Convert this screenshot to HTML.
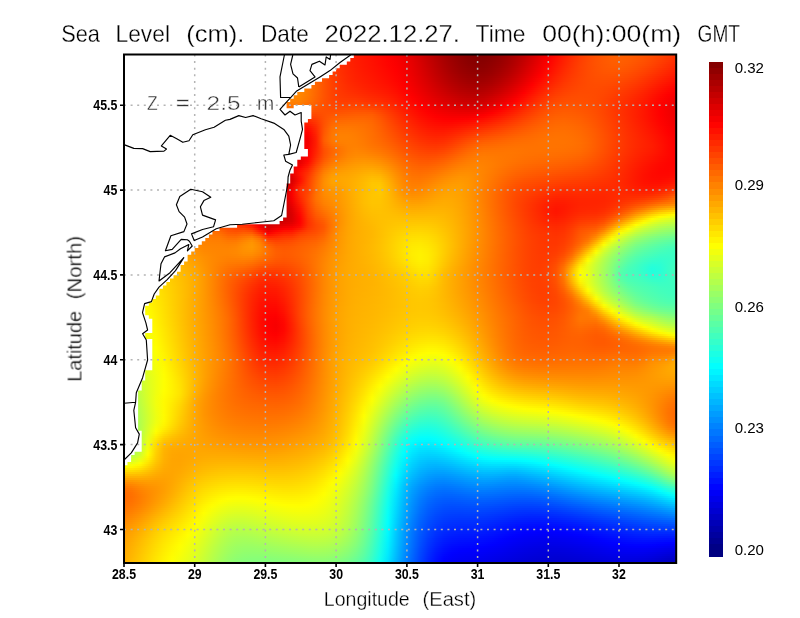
<!DOCTYPE html>
<html><head><meta charset="utf-8"><title>Sea Level</title>
<style>
html,body{margin:0;padding:0;background:#fff}
body{width:800px;height:618px;position:relative;overflow:hidden;font-family:"Liberation Sans",sans-serif}
#f{position:absolute;left:124px;top:54px;width:552px;height:510px;overflow:hidden}
#f i{display:block;height:2px}
svg{position:absolute;left:0;top:0}
.t,.n,.c{filter:grayscale(1)}
.t{font-family:"Liberation Sans",sans-serif;fill:#000;stroke:#fff;stroke-width:0.3px}
.n{font-family:"Liberation Sans",sans-serif;font-weight:bold;font-size:13.8px;fill:#000}
.c{font-family:"Liberation Sans",sans-serif;font-size:14.4px;fill:#000}
</style></head><body>
<div id="f">
<i style="background:linear-gradient(90deg,#ffbf00,#fb0,#ffb700,#ffb200,#ffae00,#ffab00,#ffa700,#ffa400,#ffa200,#ff9f00,#ff9e00,#ff9c00,#ff9b00,#ff9a00,#ff9a00,#f90,#ff9800,#ff9700,#ff9400,#ff9000,#ff8a00,#ff8100,#ff7600,#ff6800,#ff5800,#ff4800,#ff3900,#ff2c00,#f20,#ff1b00,#ff1400,#ff0e00,#ff0700,#f00,#f60000,#ed0000,#e10000,#d30000,#c40000,#b50000,#a70000,#9a0000,#900000,#890000,#850000,#860000,#8b0000,#930000,#9f0000,#ae0000,#bf0000,#d10000,#e40000,#f70000,#ff0a00,#ff1c00,#ff2c00,#ff3b00,#ff4700,#ff5100,#ff5800,#ff5e00,#ff6000,#ff5e00,#ff5a00,#f50,#ff4e00,#ff4500,#ff3c00,#f30)"></i>
<i style="background:linear-gradient(90deg,#ffbf00,#ffba00,#ffb600,#ffb200,#ffae00,#fa0,#ffa700,#ffa300,#ffa100,#ff9e00,#ff9d00,#ff9b00,#ff9a00,#ff9a00,#f90,#f90,#ff9800,#ff9700,#ff9400,#ff9100,#ff8b00,#ff8200,#f70,#ff6900,#ff5900,#ff4900,#ff3900,#ff2c00,#ff2300,#ff1b00,#ff1500,#ff0f00,#ff0800,#ff0100,#f80000,#e00,#e20000,#d40000,#c50000,#b60000,#a80000,#9b0000,#910000,#890000,#850000,#860000,#8c0000,#950000,#a00000,#af0000,#c00000,#d30000,#e60000,#f80000,#ff0c00,#ff1d00,#ff2d00,#ff3c00,#ff4800,#ff5100,#ff5800,#ff5e00,#ff6000,#ff5e00,#ff5900,#ff5300,#ff4c00,#f40,#ff3a00,#ff3100)"></i>
<i style="background:linear-gradient(90deg,#ffbf00,#ffba00,#ffb500,#ffb100,#ffad00,#ffa900,#ffa600,#ffa200,#ffa000,#ff9d00,#ff9c00,#ff9a00,#f90,#f90,#ff9800,#ff9800,#ff9800,#ff9700,#ff9500,#ff9100,#ff8c00,#ff8300,#ff7800,#ff6a00,#ff5a00,#ff4a00,#ff3a00,#ff2d00,#ff2300,#ff1b00,#ff1500,#ff0f00,#ff0900,#ff0200,#f90000,#ef0000,#e30000,#d50000,#c60000,#b70000,#a90000,#9c0000,#920000,#8a0000,#860000,#870000,#8d0000,#960000,#a20000,#b10000,#c20000,#d50000,#e80000,#fa0000,#ff0e00,#ff1f00,#ff2f00,#ff3d00,#ff4800,#ff5100,#ff5800,#ff5d00,#ff5f00,#ff5d00,#ff5800,#ff5200,#ff4a00,#ff4200,#ff3800,#ff2f00)"></i>
<i style="background:linear-gradient(90deg,#ffbe00,#ffba00,#ffb500,#ffb000,#ffac00,#ffa800,#ffa500,#ffa100,#ff9f00,#ff9c00,#ff9a00,#f90,#ff9800,#ff9800,#ff9700,#ff9700,#ff9700,#ff9700,#ff9500,#ff9200,#ff8c00,#ff8400,#ff7900,#ff6b00,#ff5b00,#ff4a00,#ff3a00,#ff2d00,#ff2300,#ff1c00,#ff1600,#ff1000,#ff0a00,#ff0300,#fa0000,#f10000,#e50000,#d60000,#c70000,#b80000,#a00,#9d0000,#930000,#8b0000,#870000,#800,#8e0000,#970000,#a40000,#b30000,#c40000,#d70000,#ea0000,#fc0000,#ff1000,#ff2100,#ff3000,#ff3e00,#ff4900,#ff5200,#ff5800,#ff5d00,#ff5e00,#ff5b00,#ff5600,#ff5000,#ff4800,#ff3f00,#ff3600,#ff2c00)"></i>
<i style="background:linear-gradient(90deg,#ffbe00,#ffb900,#ffb400,#ffb000,#ffab00,#ffa700,#ffa400,#ffa000,#ff9e00,#ff9b00,#f90,#ff9800,#ff9700,#ff9600,#ff9600,#ff9700,#ff9700,#ff9600,#ff9500,#ff9200,#ff8d00,#ff8600,#ff7b00,#ff6d00,#ff5c00,#ff4b00,#ff3b00,#ff2d00,#ff2400,#ff1c00,#ff1600,#f10,#ff0a00,#ff0400,#fb0000,#f20000,#e60000,#d80000,#c80000,#ba0000,#ab0000,#9f0000,#940000,#8c0000,#800,#8a0000,#900000,#900,#a50000,#b50000,#c70000,#d90000,#ec0000,#f00,#ff1200,#f20,#ff3200,#ff3f00,#ff4a00,#ff5200,#ff5800,#ff5c00,#ff5d00,#ff5a00,#ff5400,#ff4e00,#ff4600,#ff3d00,#f30,#ff2a00)"></i>
<i style="background:linear-gradient(90deg,#ffbd00,#ffb900,#ffb400,#ffaf00,#ffab00,#ffa700,#ffa300,#ff9f00,#ff9c00,#ff9a00,#ff9800,#ff9600,#ff9600,#ff9500,#ff9500,#ff9600,#ff9600,#ff9600,#ff9500,#ff9300,#ff8e00,#ff8700,#ff7c00,#ff6e00,#ff5d00,#ff4c00,#ff3b00,#ff2e00,#ff2400,#ff1d00,#ff1700,#f10,#ff0b00,#ff0400,#fc0000,#f30000,#e70000,#d90000,#ca0000,#b00,#ad0000,#a00000,#960000,#8e0000,#8a0000,#8c0000,#920000,#9b0000,#a80000,#b70000,#c90000,#dc0000,#ef0000,#ff0200,#ff1400,#ff2400,#f30,#ff4000,#ff4a00,#ff5200,#ff5700,#ff5b00,#ff5c00,#ff5800,#ff5200,#ff4c00,#f40,#ff3a00,#ff3000,#ff2700)"></i>
<i style="background:linear-gradient(90deg,#ffbd00,#ffb800,#ffb300,#ffae00,#fa0,#ffa600,#ffa200,#ff9e00,#ff9b00,#f90,#ff9700,#ff9500,#ff9400,#ff9400,#ff9400,#ff9500,#ff9500,#ff9500,#ff9500,#ff9300,#ff8f00,#f80,#ff7d00,#ff6f00,#ff5e00,#ff4d00,#ff3c00,#ff2e00,#ff2400,#ff1d00,#ff1700,#ff1200,#ff0c00,#ff0500,#fd0000,#f40000,#e80000,#da0000,#cb0000,#bc0000,#ae0000,#a20000,#970000,#900000,#8c0000,#8d0000,#940000,#9d0000,#a00,#ba0000,#c00,#df0000,#f10000,#ff0500,#ff1600,#ff2600,#ff3400,#ff4100,#ff4a00,#ff5100,#ff5700,#ff5a00,#ff5a00,#ff5600,#ff5000,#ff4900,#ff4100,#ff3800,#ff2e00,#ff2400)"></i>
<i style="background:linear-gradient(90deg,#ffbd00,#ffb700,#ffb200,#ffae00,#ffa900,#ffa500,#ffa100,#ff9d00,#ff9a00,#ff9700,#ff9500,#ff9400,#ff9300,#ff9300,#ff9300,#ff9300,#ff9400,#ff9500,#ff9500,#ff9300,#ff9000,#ff8900,#ff7e00,#ff7000,#ff5f00,#ff4d00,#ff3d00,#ff2f00,#ff2500,#ff1e00,#ff1800,#ff1200,#ff0d00,#ff0600,#fe0000,#f50000,#e90000,#db0000,#cd0000,#be0000,#b00000,#a30000,#900,#920000,#8e0000,#900000,#960000,#a00000,#ad0000,#bd0000,#cf0000,#e10000,#f40000,#ff0700,#ff1800,#ff2800,#ff3600,#ff4100,#ff4a00,#ff5100,#ff5600,#ff5800,#ff5800,#ff5400,#ff4e00,#ff4600,#ff3e00,#ff3400,#ff2b00,#ff2100)"></i>
<i style="background:linear-gradient(90deg,#ffbc00,#ffb700,#ffb200,#ffad00,#ffa800,#ffa400,#ff9f00,#ff9c00,#ff9800,#ff9600,#ff9400,#ff9200,#ff9100,#ff9100,#ff9100,#ff9200,#ff9300,#ff9400,#ff9400,#ff9300,#ff9000,#ff8a00,#ff8000,#ff7100,#ff6000,#ff4e00,#ff3d00,#ff3000,#ff2600,#ff1e00,#ff1800,#ff1300,#ff0d00,#ff0700,#f00,#f60000,#ea0000,#d00,#ce0000,#c00000,#b20000,#a50000,#9b0000,#940000,#900000,#920000,#900,#a30000,#b00000,#c00000,#d20000,#e50000,#f70000,#ff0a00,#ff1b00,#ff2a00,#ff3700,#ff4200,#ff4b00,#ff5100,#f50,#ff5700,#ff5600,#ff5200,#ff4b00,#f40,#ff3b00,#ff3100,#ff2700,#ff1e00)"></i>
<i style="background:linear-gradient(90deg,#ffbc00,#ffb600,#ffb100,#ffac00,#ffa700,#ffa200,#ff9e00,#ff9a00,#ff9700,#ff9400,#ff9200,#ff9000,#ff8f00,#ff8f00,#ff9000,#ff9100,#ff9200,#ff9300,#ff9400,#ff9300,#ff9100,#ff8b00,#ff8100,#ff7300,#ff6100,#ff4f00,#ff3e00,#ff3000,#ff2600,#ff1f00,#ff1900,#ff1400,#ff0e00,#ff0800,#ff0100,#f70000,#eb0000,#de0000,#d00000,#c10000,#b40000,#a70000,#9d0000,#960000,#930000,#950000,#9b0000,#a60000,#b30000,#c30000,#d50000,#e80000,#fa0000,#ff0d00,#ff1d00,#ff2c00,#ff3800,#ff4300,#ff4b00,#ff5000,#ff5400,#f50,#ff5300,#ff4f00,#ff4800,#ff4100,#ff3800,#ff2e00,#ff2400,#ff1b00)"></i>
<i style="background:linear-gradient(90deg,#fb0,#ffb600,#ffb000,#ffab00,#ffa600,#ffa100,#ff9d00,#f90,#ff9500,#ff9300,#ff9000,#ff8f00,#ff8e00,#ff8e00,#ff8e00,#ff8f00,#ff9100,#ff9200,#ff9300,#ff9300,#ff9100,#ff8c00,#ff8200,#ff7400,#ff6200,#ff5000,#ff3f00,#ff3100,#ff2700,#ff2000,#ff1a00,#ff1500,#ff0f00,#ff0900,#ff0200,#f80000,#ec0000,#df0000,#d10000,#c30000,#b60000,#a00,#a00000,#900,#960000,#980000,#9e0000,#a90000,#b60000,#c70000,#d90000,#eb0000,#fe0000,#ff1000,#ff2000,#ff2e00,#ff3a00,#ff4300,#ff4b00,#ff5000,#ff5200,#ff5300,#ff5100,#ff4c00,#ff4600,#ff3e00,#ff3400,#ff2b00,#ff2100,#ff1800)"></i>
<i style="background:linear-gradient(90deg,#fb0,#ffb500,#ffb000,#fa0,#ffa500,#ffa000,#ff9c00,#ff9800,#ff9400,#ff9100,#ff8e00,#ff8d00,#ff8c00,#ff8c00,#ff8c00,#ff8d00,#ff8f00,#ff9100,#ff9200,#ff9300,#ff9100,#ff8d00,#ff8300,#ff7500,#ff6300,#ff5100,#ff3f00,#ff3200,#ff2800,#ff2000,#ff1b00,#ff1600,#ff1000,#ff0a00,#ff0300,#f90000,#e00,#e10000,#d30000,#c50000,#b80000,#ac0000,#a20000,#9b0000,#900,#9b0000,#a20000,#ac0000,#ba0000,#ca0000,#dc0000,#ef0000,#ff0200,#ff1300,#ff2300,#ff3000,#ff3b00,#f40,#ff4b00,#ff4f00,#ff5100,#ff5100,#ff4f00,#ff4a00,#ff4300,#ff3a00,#ff3100,#ff2700,#ff1d00,#ff1500)"></i>
<i style="background:linear-gradient(90deg,#ffba00,#ffb500,#ffaf00,#ffa900,#ffa400,#ff9f00,#ff9a00,#ff9600,#ff9200,#ff8f00,#ff8d00,#ff8b00,#ff8a00,#ff8a00,#ff8a00,#ff8b00,#ff8d00,#ff8f00,#ff9100,#ff9200,#ff9100,#ff8d00,#ff8400,#ff7600,#ff6400,#ff5100,#ff4000,#ff3200,#ff2800,#ff2100,#ff1c00,#ff1700,#f10,#ff0b00,#ff0400,#fa0000,#ef0000,#e20000,#d50000,#c70000,#ba0000,#ae0000,#a50000,#9e0000,#9c0000,#9e0000,#a50000,#b00000,#be0000,#ce0000,#e00000,#f30000,#ff0600,#ff1600,#ff2500,#ff3200,#ff3d00,#ff4500,#ff4b00,#ff4e00,#ff5000,#ff4f00,#ff4c00,#ff4700,#ff4000,#ff3700,#ff2e00,#ff2400,#ff1a00,#f10)"></i>
<i style="background:linear-gradient(90deg,#ffba00,#ffb400,#ffae00,#ffa900,#ffa300,#ff9e00,#f90,#ff9500,#ff9100,#ff8d00,#ff8b00,#ff8900,#f80,#ff8700,#f80,#ff8900,#ff8b00,#ff8e00,#ff9000,#ff9200,#ff9100,#ff8e00,#ff8500,#f70,#ff6500,#ff5200,#ff4100,#f30,#ff2900,#f20,#ff1d00,#ff1800,#ff1300,#ff0d00,#ff0500,#fb0000,#f00000,#e40000,#d70000,#c90000,#bd0000,#b10000,#a80000,#a10000,#9f0000,#a10000,#a90000,#b40000,#c20000,#d20000,#e40000,#f60000,#ff0900,#ff1a00,#ff2800,#ff3400,#ff3e00,#ff4600,#ff4b00,#ff4e00,#ff4e00,#ff4d00,#ff4a00,#f40,#ff3d00,#ff3400,#ff2a00,#ff2000,#ff1700,#ff0e00)"></i>
<i style="background:linear-gradient(90deg,#ffb900,#ffb300,#ffad00,#ffa800,#ffa200,#ff9d00,#ff9800,#ff9300,#ff8f00,#ff8c00,#ff8900,#ff8700,#ff8500,#ff8500,#ff8600,#ff8700,#ff8900,#ff8c00,#ff8f00,#ff9100,#ff9100,#ff8e00,#ff8600,#ff7800,#f60,#ff5300,#ff4100,#ff3400,#ff2a00,#ff2400,#ff1e00,#ff1900,#ff1400,#ff0e00,#ff0700,#fd0000,#f20000,#e50000,#d90000,#c00,#bf0000,#b40000,#ab0000,#a40000,#a20000,#a50000,#ac0000,#b80000,#c60000,#d60000,#e80000,#fb0000,#ff0d00,#ff1d00,#ff2b00,#ff3700,#ff4000,#ff4600,#ff4b00,#ff4d00,#ff4d00,#ff4b00,#ff4700,#ff4100,#ff3a00,#ff3100,#ff2700,#ff1d00,#ff1300,#ff0b00)"></i>
<i style="background:linear-gradient(90deg,#ffb900,#ffb300,#ffad00,#ffa700,#ffa100,#ff9c00,#ff9600,#ff9200,#ff8d00,#ff8a00,#ff8700,#ff8400,#ff8300,#ff8300,#ff8300,#ff8500,#ff8700,#ff8a00,#ff8d00,#ff8f00,#ff9000,#ff8e00,#ff8600,#ff7900,#f60,#ff5300,#ff4200,#ff3500,#ff2c00,#ff2500,#ff2000,#ff1b00,#ff1600,#ff1000,#ff0800,#fe0000,#f30000,#e70000,#db0000,#ce0000,#c20000,#b70000,#ae0000,#a80000,#a60000,#a90000,#b00000,#bc0000,#ca0000,#db0000,#ec0000,#f00,#f10,#ff2100,#ff2e00,#ff3900,#ff4100,#ff4700,#ff4b00,#ff4c00,#ff4c00,#ff4900,#ff4500,#ff3e00,#ff3700,#ff2e00,#ff2400,#ff1900,#ff1000,#ff0700)"></i>
<i style="background:linear-gradient(90deg,#ffb800,#ffb200,#ffac00,#ffa600,#ffa000,#ff9a00,#ff9500,#ff9000,#ff8b00,#f80,#ff8500,#ff8200,#ff8100,#ff8000,#ff8100,#ff8200,#ff8400,#ff8700,#ff8b00,#ff8e00,#ff8f00,#ff8e00,#ff8700,#ff7900,#ff6700,#ff5300,#ff4200,#ff3500,#ff2d00,#ff2700,#ff2100,#ff1c00,#ff1700,#ff1200,#ff0a00,#ff0100,#f50000,#e90000,#d00,#d00000,#c50000,#ba0000,#b10000,#ab0000,#a90000,#ad0000,#b50000,#c00000,#cf0000,#df0000,#f10000,#ff0400,#ff1500,#ff2500,#ff3100,#ff3b00,#ff4300,#ff4800,#ff4b00,#ff4c00,#ff4a00,#ff4700,#ff4200,#ff3c00,#ff3400,#ff2b00,#ff2100,#ff1600,#ff0c00,#ff0400)"></i>
<i style="background:linear-gradient(90deg,#ffb800,#ffb200,#ffab00,#ffa500,#ff9f00,#f90,#ff9300,#ff8e00,#ff8a00,#ff8600,#ff8200,#ff8000,#ff7e00,#ff7e00,#ff7e00,#ff7f00,#ff8200,#ff8500,#f80,#ff8c00,#ff8e00,#ff8e00,#ff8700,#ff7900,#ff6700,#ff5300,#ff4200,#ff3600,#ff2e00,#ff2900,#ff2300,#ff1e00,#ff1900,#ff1400,#ff0c00,#ff0200,#f70000,#eb0000,#df0000,#d30000,#c80000,#bd0000,#b40000,#af0000,#ad0000,#b10000,#b90000,#c50000,#d30000,#e40000,#f50000,#ff0800,#ff1900,#ff2800,#ff3500,#ff3e00,#f40,#ff4900,#ff4b00,#ff4b00,#ff4900,#ff4500,#ff4000,#ff3900,#ff3100,#ff2800,#ff1d00,#ff1300,#ff0900,#ff0100)"></i>
<i style="background:linear-gradient(90deg,#ffb700,#ffb100,#fa0,#ffa400,#ff9e00,#ff9800,#ff9200,#ff8d00,#f80,#ff8400,#ff8000,#ff7d00,#ff7c00,#ff7b00,#ff7b00,#ff7c00,#ff7f00,#ff8200,#ff8600,#ff8a00,#ff8d00,#ff8d00,#ff8700,#ff7900,#ff6700,#ff5300,#ff4300,#ff3700,#ff3000,#ff2b00,#ff2600,#ff2000,#ff1c00,#ff1600,#ff0e00,#ff0400,#f80000,#ed0000,#e10000,#d60000,#cb0000,#c00000,#b80000,#b30000,#b10000,#b50000,#be0000,#c90000,#d80000,#e80000,#fa0000,#ff0d00,#ff1e00,#ff2c00,#ff3800,#ff4000,#ff4600,#ff4a00,#ff4b00,#ff4a00,#ff4800,#ff4300,#ff3d00,#ff3600,#ff2e00,#ff2500,#ff1a00,#ff1000,#ff0600,#fd0000)"></i>
<i style="background:linear-gradient(90deg,#ffb700,#ffb000,#fa0,#ffa300,#ff9d00,#ff9600,#ff9000,#ff8b00,#ff8600,#ff8100,#ff7e00,#ff7b00,#ff7900,#ff7800,#ff7800,#ff7900,#ff7c00,#ff7f00,#ff8300,#ff8700,#ff8b00,#ff8c00,#ff8700,#ff7900,#f60,#ff5300,#ff4300,#ff3800,#ff3200,#ff2d00,#ff2800,#ff2300,#ff1e00,#ff1800,#ff1000,#ff0600,#fa0000,#ef0000,#e40000,#d90000,#ce0000,#c40000,#bc0000,#b70000,#b50000,#ba0000,#c20000,#ce0000,#d00,#ed0000,#f00,#f10,#f20,#ff3000,#ff3b00,#ff4300,#ff4800,#ff4b00,#ff4b00,#ff4a00,#ff4700,#ff4200,#ff3b00,#ff3400,#ff2c00,#f20,#ff1800,#ff0d00,#ff0300,#fa0000)"></i>
<i style="background:linear-gradient(90deg,#ffb700,#ffb000,#ffa900,#ffa200,#ff9b00,#ff9500,#ff8f00,#ff8900,#ff8400,#ff7f00,#ff7b00,#ff7800,#ff7600,#ff7500,#ff7500,#ff7600,#ff7800,#ff7c00,#ff8000,#ff8400,#f80,#ff8a00,#ff8600,#ff7900,#f60,#ff5300,#ff4300,#ff3900,#ff3400,#ff3000,#ff2b00,#ff2600,#ff2100,#ff1b00,#ff1300,#ff0800,#fc0000,#f10000,#e60000,#db0000,#d10000,#c80000,#c00000,#b00,#ba0000,#be0000,#c70000,#d40000,#e20000,#f20000,#ff0500,#ff1600,#ff2600,#ff3400,#ff3e00,#ff4500,#ff4a00,#ff4c00,#ff4c00,#ff4a00,#ff4600,#ff4000,#ff3900,#ff3200,#ff2900,#ff2000,#ff1500,#ff0a00,#f00,#f80000)"></i>
<i style="background:linear-gradient(90deg,#ffb600,#ffaf00,#ffa800,#ffa100,#ff9a00,#ff9400,#ff8d00,#ff8700,#ff8200,#ff7d00,#ff7900,#ff7500,#ff7300,#ff7200,#ff7200,#ff7300,#ff7500,#ff7800,#ff7c00,#ff8100,#ff8500,#f80,#ff8500,#f70,#ff6500,#ff5300,#f40,#ff3a00,#ff3600,#f30,#ff2e00,#ff2900,#ff2400,#ff1e00,#ff1500,#ff0b00,#f00,#f40000,#e90000,#de0000,#d50000,#c00,#c40000,#bf0000,#be0000,#c30000,#cd0000,#d90000,#e70000,#f70000,#ff0900,#ff1b00,#ff2b00,#ff3800,#ff4200,#ff4800,#ff4c00,#ff4d00,#ff4c00,#ff4a00,#ff4500,#ff3f00,#ff3700,#ff3000,#ff2700,#ff1e00,#ff1300,#ff0800,#fd0000,#f50000)"></i>
<i style="background:linear-gradient(90deg,#ffb600,#ffae00,#ffa700,#ffa000,#f90,#ff9200,#ff8c00,#ff8600,#ff8000,#ff7b00,#ff7600,#ff7300,#ff7000,#ff6e00,#ff6e00,#ff6f00,#ff7100,#ff7400,#ff7800,#ff7d00,#ff8200,#ff8500,#ff8300,#ff7600,#ff6400,#ff5200,#f40,#ff3c00,#ff3900,#ff3700,#ff3200,#ff2c00,#ff2800,#ff2100,#ff1800,#ff0d00,#ff0200,#f60000,#eb0000,#e20000,#d80000,#d00000,#c80000,#c40000,#c30000,#c80000,#d20000,#de0000,#ed0000,#fd0000,#ff0e00,#ff1f00,#ff2f00,#ff3c00,#ff4500,#ff4b00,#ff4d00,#ff4e00,#ff4d00,#ff4a00,#f40,#ff3d00,#ff3600,#ff2e00,#ff2500,#ff1c00,#f10,#ff0600,#fb0000,#f30000)"></i>
<i style="background:linear-gradient(90deg,#ffb500,#ffae00,#ffa700,#ff9f00,#ff9800,#ff9100,#ff8a00,#ff8400,#ff7e00,#ff7800,#ff7400,#ff7000,#ff6d00,#ff6b00,#ff6a00,#ff6b00,#ff6d00,#ff7000,#ff7400,#ff7900,#ff7d00,#ff8100,#ff8000,#ff7300,#ff6200,#ff5200,#ff4500,#ff3e00,#ff3c00,#ff3b00,#ff3600,#ff3000,#ff2c00,#ff2500,#ff1b00,#ff1000,#ff0400,#f80000,#e00,#e50000,#dc0000,#d40000,#cd0000,#c90000,#c80000,#ce0000,#d80000,#e40000,#f20000,#ff0300,#ff1400,#ff2400,#f30,#ff4000,#ff4800,#ff4d00,#ff4f00,#ff4f00,#ff4d00,#ff4a00,#f40,#ff3c00,#ff3400,#ff2c00,#ff2400,#ff1a00,#ff0f00,#ff0400,#f90000,#f10000)"></i>
<i style="background:linear-gradient(90deg,#ffb500,#ffad00,#ffa600,#ff9e00,#ff9700,#ff9000,#ff8900,#ff8200,#ff7c00,#ff7600,#ff7100,#ff6d00,#ff6a00,#ff6800,#ff6700,#ff6700,#ff6900,#ff6c00,#ff6f00,#ff7400,#ff7900,#ff7d00,#ff7d00,#ff7000,#ff5f00,#ff5100,#ff4600,#ff4000,#ff4000,#ff3f00,#ff3b00,#ff3500,#ff3100,#ff2900,#ff1e00,#ff1200,#ff0700,#fb0000,#f10000,#e80000,#e00000,#d80000,#d20000,#ce0000,#ce0000,#d30000,#de0000,#ea0000,#f80000,#ff0800,#ff1900,#ff2900,#ff3800,#f40,#ff4c00,#ff5000,#ff5100,#ff5000,#ff4e00,#ff4a00,#f40,#ff3c00,#f30,#ff2b00,#f20,#ff1800,#ff0d00,#ff0200,#f70000,#ef0000)"></i>
<i style="background:linear-gradient(90deg,#ffb400,#ffad00,#ffa500,#ff9d00,#ff9600,#ff8e00,#ff8700,#ff8000,#ff7a00,#ff7400,#ff6e00,#ff6a00,#f60,#ff6400,#ff6300,#ff6300,#ff6400,#ff6700,#ff6a00,#ff6f00,#ff7300,#f70,#ff7800,#ff6b00,#ff5d00,#ff5100,#ff4700,#ff4300,#f40,#f40,#ff4100,#ff3b00,#ff3600,#ff2d00,#ff2100,#ff1500,#ff0900,#fe0000,#f40000,#eb0000,#e30000,#dc0000,#d70000,#d30000,#d30000,#da0000,#e40000,#f00000,#fe0000,#ff0e00,#ff1e00,#ff2d00,#ff3c00,#ff4800,#ff4f00,#ff5300,#ff5300,#ff5200,#ff4f00,#ff4a00,#f40,#ff3b00,#ff3200,#ff2a00,#ff2100,#ff1700,#ff0c00,#ff0100,#f60000,#e00)"></i>
<i style="background:linear-gradient(90deg,#ffb400,#ffac00,#ffa400,#ff9c00,#ff9500,#ff8d00,#ff8500,#ff7e00,#f70,#ff7100,#ff6c00,#ff6700,#ff6300,#ff6000,#ff5f00,#ff5f00,#ff6000,#ff6200,#ff6500,#ff6900,#ff6d00,#ff7100,#ff7100,#f60,#ff5900,#ff5100,#ff4900,#ff4700,#ff4800,#ff4900,#ff4700,#ff4100,#ff3b00,#ff3100,#ff2500,#ff1800,#ff0c00,#ff0100,#f70000,#e00,#e70000,#e10000,#dc0000,#d90000,#da0000,#e00000,#ea0000,#f70000,#ff0500,#ff1400,#ff2300,#ff3200,#ff4000,#ff4b00,#ff5200,#f50,#ff5600,#ff5400,#ff5000,#ff4b00,#f40,#ff3b00,#ff3200,#ff2900,#ff2100,#ff1600,#ff0b00,#f00,#f50000,#ed0000)"></i>
<i style="background:linear-gradient(90deg,#ffb300,#ffac00,#ffa400,#ff9c00,#ff9400,#ff8c00,#ff8400,#ff7c00,#ff7500,#ff6f00,#ff6900,#ff6400,#ff6000,#ff5d00,#ff5b00,#ff5a00,#ff5b00,#ff5d00,#ff6000,#ff6300,#ff6700,#ff6a00,#ff6900,#ff5f00,#ff5600,#ff5000,#ff4c00,#ff4b00,#ff4d00,#ff4e00,#ff4d00,#ff4900,#ff4100,#ff3500,#ff2800,#ff1b00,#ff0f00,#ff0400,#fa0000,#f20000,#eb0000,#e50000,#e10000,#df0000,#e00000,#e70000,#f10000,#fd0000,#ff0b00,#ff1900,#ff2800,#ff3700,#f40,#ff4e00,#f50,#ff5800,#ff5800,#f50,#ff5100,#ff4c00,#f40,#ff3b00,#ff3100,#ff2900,#ff2000,#ff1600,#ff0b00,#f00,#f50000,#ed0000)"></i>
<i style="background:linear-gradient(90deg,#ffb300,#ffab00,#ffa300,#ff9b00,#ff9200,#ff8a00,#ff8200,#ff7b00,#ff7300,#ff6c00,#f60,#ff6100,#ff5c00,#ff5900,#ff5700,#ff5600,#ff5600,#ff5800,#ff5a00,#ff5d00,#ff6000,#ff6200,#ff6000,#ff5800,#ff5200,#ff5000,#ff4f00,#ff5000,#ff5200,#ff5300,#ff5300,#ff5000,#ff4600,#ff3900,#ff2b00,#ff1e00,#ff1200,#ff0700,#fd0000,#f50000,#ef0000,#ea0000,#e70000,#e50000,#e70000,#e00,#f80000,#ff0500,#ff1200,#ff1f00,#ff2e00,#ff3b00,#ff4800,#ff5200,#ff5800,#ff5a00,#ff5a00,#ff5700,#ff5300,#ff4d00,#ff4500,#ff3b00,#ff3200,#ff2900,#ff2000,#ff1600,#ff0a00,#f00,#f40000,#ed0000)"></i>
<i style="background:linear-gradient(90deg,#ffb300,#fa0,#ffa200,#ff9a00,#ff9100,#ff8900,#ff8100,#ff7900,#ff7100,#ff6a00,#ff6300,#ff5e00,#ff5900,#f50,#ff5200,#ff5100,#ff5100,#ff5200,#ff5400,#ff5700,#ff5900,#ff5900,#ff5600,#ff4f00,#ff4d00,#ff5000,#ff5200,#ff5400,#ff5700,#ff5900,#ff5900,#ff5700,#ff4b00,#ff3d00,#ff2f00,#ff2100,#ff1400,#ff0a00,#ff0100,#f80000,#f30000,#ef0000,#ec0000,#ec0000,#e00,#f50000,#f00,#ff0c00,#ff1800,#ff2500,#f30,#ff4000,#ff4c00,#f50,#ff5a00,#ff5d00,#ff5c00,#ff5900,#ff5400,#ff4e00,#ff4500,#ff3c00,#ff3200,#ff2900,#ff2000,#ff1600,#ff0b00,#f00,#f50000,#ed0000)"></i>
<i style="background:linear-gradient(90deg,#ffb200,#fa0,#ffa100,#f90,#ff9000,#f80,#ff7f00,#f70,#ff6f00,#ff6700,#ff6100,#ff5a00,#f50,#ff5100,#ff4e00,#ff4c00,#ff4c00,#ff4d00,#ff4e00,#ff5000,#ff5100,#ff5000,#ff4c00,#ff4700,#ff4800,#ff5000,#ff5600,#ff5a00,#ff5c00,#ff5e00,#ff5e00,#ff5d00,#ff5000,#ff4100,#ff3200,#ff2400,#ff1700,#ff0c00,#ff0400,#fc0000,#f70000,#f30000,#f20000,#f20000,#f60000,#fd0000,#ff0700,#ff1200,#ff1e00,#ff2b00,#ff3800,#f40,#ff4f00,#ff5800,#ff5d00,#ff5f00,#ff5e00,#ff5b00,#ff5600,#ff4f00,#ff4600,#ff3c00,#ff3200,#ff2900,#ff2000,#ff1600,#ff0b00,#f00,#f50000,#e00)"></i>
<i style="background:linear-gradient(90deg,#ffb200,#ffa900,#ffa100,#ff9800,#ff8f00,#ff8600,#ff7e00,#ff7500,#ff6d00,#ff6500,#ff5e00,#ff5700,#ff5200,#ff4d00,#ff4a00,#ff4800,#ff4700,#ff4700,#ff4800,#ff4900,#ff4900,#ff4700,#ff4200,#ff3e00,#ff4300,#ff5000,#ff5a00,#ff5f00,#ff6100,#ff6300,#ff6300,#ff6000,#ff5400,#f40,#ff3500,#ff2700,#ff1a00,#ff0f00,#ff0700,#f00,#fb0000,#f80000,#f80000,#f90000,#fd0000,#ff0500,#ff0f00,#ff1900,#ff2500,#ff3100,#ff3d00,#ff4900,#ff5300,#ff5b00,#ff6000,#ff6100,#ff6000,#ff5d00,#ff5700,#ff5000,#ff4700,#ff3d00,#f30,#ff2a00,#ff2000,#ff1600,#ff0c00,#ff0100,#f60000,#e00)"></i>
<i style="background:linear-gradient(90deg,#ffb200,#ffa900,#ffa000,#ff9700,#ff8e00,#ff8500,#ff7c00,#ff7300,#ff6b00,#ff6200,#ff5b00,#ff5400,#ff4e00,#ff4900,#ff4500,#ff4300,#ff4100,#ff4100,#ff4200,#ff4200,#ff4100,#ff3e00,#ff3800,#ff3400,#ff3e00,#ff5000,#ff5e00,#ff6400,#f60,#ff6700,#ff6700,#ff6300,#ff5700,#ff4700,#ff3800,#ff2a00,#ff1d00,#ff1200,#ff0a00,#ff0400,#f00,#fd0000,#fe0000,#ff0100,#ff0600,#ff0d00,#ff1600,#ff2000,#ff2b00,#ff3700,#ff4200,#ff4d00,#ff5700,#ff5e00,#ff6200,#ff6400,#ff6200,#ff5f00,#ff5900,#ff5100,#ff4800,#ff3e00,#ff3400,#ff2a00,#ff2100,#ff1700,#ff0c00,#ff0200,#f70000,#ef0000)"></i>
<i style="background:linear-gradient(90deg,#ffb100,#ffa800,#ff9f00,#ff9600,#ff8d00,#ff8400,#ff7a00,#ff7100,#ff6800,#ff6000,#ff5800,#ff5100,#ff4a00,#ff4500,#ff4100,#ff3e00,#ff3c00,#ff3b00,#ff3b00,#ff3b00,#ff3a00,#ff3500,#ff2e00,#ff2b00,#ff3900,#ff5100,#ff6200,#ff6900,#ff6b00,#ff6b00,#ff6a00,#f60,#ff5a00,#ff4a00,#ff3b00,#ff2c00,#ff2000,#ff1500,#ff0d00,#ff0700,#ff0400,#ff0300,#ff0500,#ff0800,#ff0d00,#ff1400,#ff1d00,#ff2700,#ff3200,#ff3c00,#ff4700,#ff5100,#ff5a00,#ff6100,#ff6500,#f60,#ff6400,#ff6100,#ff5a00,#ff5300,#ff4900,#ff3f00,#ff3500,#ff2b00,#ff2100,#ff1800,#ff0d00,#ff0300,#f80000,#f00000)"></i>
<i style="background:linear-gradient(90deg,#ffb100,#ffa800,#ff9f00,#ff9600,#ff8c00,#ff8300,#ff7900,#ff7000,#f60,#ff5d00,#f50,#ff4d00,#ff4700,#ff4100,#ff3c00,#ff3900,#ff3700,#ff3600,#ff3500,#ff3400,#ff3200,#ff2d00,#ff2500,#f20,#ff3500,#ff5100,#f60,#ff6d00,#ff6f00,#ff6f00,#ff6d00,#ff6800,#ff5c00,#ff4d00,#ff3d00,#ff2f00,#f20,#ff1800,#ff1000,#ff0b00,#ff0800,#ff0800,#ff0b00,#ff0f00,#ff1500,#ff1c00,#ff2500,#ff2e00,#ff3800,#ff4200,#ff4c00,#f50,#ff5d00,#ff6300,#ff6700,#ff6800,#f60,#ff6200,#ff5c00,#ff5400,#ff4a00,#ff4000,#ff3500,#ff2c00,#f20,#ff1900,#ff0f00,#ff0400,#f90000,#f10000)"></i>
<i style="background:linear-gradient(90deg,#ffb100,#ffa800,#ff9e00,#ff9500,#ff8b00,#ff8100,#ff7800,#ff6e00,#ff6400,#ff5b00,#ff5200,#ff4a00,#ff4300,#ff3d00,#ff3800,#ff3400,#ff3100,#ff3000,#ff2f00,#ff2d00,#ff2b00,#ff2500,#ff1c00,#ff1900,#ff3000,#ff5200,#ff6900,#ff7200,#ff7300,#ff7200,#ff7000,#ff6a00,#ff5e00,#ff4f00,#ff4000,#ff3200,#ff2500,#ff1b00,#ff1300,#ff0e00,#ff0c00,#ff0d00,#f10,#ff1600,#ff1c00,#ff2400,#ff2c00,#ff3500,#ff3e00,#ff4700,#ff5000,#ff5900,#ff6000,#f60,#ff6900,#ff6a00,#ff6800,#ff6400,#ff5e00,#f50,#ff4b00,#ff4100,#ff3600,#ff2d00,#ff2300,#ff1a00,#ff1000,#ff0500,#fa0000,#f20000)"></i>
<i style="background:linear-gradient(90deg,#ffb100,#ffa700,#ff9e00,#ff9400,#ff8a00,#ff8000,#ff7600,#ff6c00,#ff6200,#ff5900,#ff4f00,#ff4700,#ff3f00,#ff3900,#f30,#ff2f00,#ff2c00,#ff2a00,#ff2800,#ff2700,#ff2400,#ff1d00,#ff1400,#f10,#ff2c00,#ff5300,#ff6d00,#ff7600,#f70,#ff7500,#ff7100,#ff6b00,#ff6000,#ff5100,#ff4300,#ff3400,#ff2800,#ff1e00,#ff1600,#ff1200,#f10,#ff1200,#ff1700,#ff1d00,#ff2400,#ff2b00,#f30,#ff3c00,#f40,#ff4d00,#f50,#ff5d00,#ff6300,#ff6800,#ff6b00,#ff6c00,#ff6a00,#f60,#ff5f00,#ff5600,#ff4c00,#ff4200,#ff3700,#ff2d00,#ff2400,#ff1b00,#f10,#ff0700,#fc0000,#f40000)"></i>
<i style="background:linear-gradient(90deg,#ffb000,#ffa700,#ff9d00,#ff9300,#ff8900,#ff7f00,#ff7500,#ff6a00,#ff6000,#ff5600,#ff4d00,#f40,#ff3c00,#ff3400,#ff2e00,#ff2a00,#ff2600,#ff2400,#f20,#ff2000,#ff1d00,#ff1700,#ff0d00,#ff0b00,#ff2900,#f50,#ff7000,#ff7900,#ff7a00,#f70,#ff7300,#ff6c00,#ff6100,#ff5300,#ff4500,#ff3700,#ff2b00,#ff2100,#ff1a00,#ff1500,#ff1500,#ff1800,#ff1d00,#ff2400,#ff2b00,#f30,#ff3a00,#ff4200,#ff4a00,#ff5200,#ff5900,#ff6000,#f60,#ff6a00,#ff6d00,#ff6d00,#ff6b00,#ff6700,#ff6100,#ff5800,#ff4d00,#ff4200,#ff3800,#ff2e00,#ff2500,#ff1c00,#ff1300,#ff0800,#fd0000,#f50000)"></i>
<i style="background:linear-gradient(90deg,#ffb000,#ffa700,#ff9d00,#ff9300,#f80,#ff7e00,#ff7300,#ff6900,#ff5e00,#ff5400,#ff4a00,#ff4100,#ff3800,#ff3000,#ff2a00,#ff2500,#ff2100,#ff1e00,#ff1c00,#ff1a00,#ff1700,#f10,#ff0800,#ff0600,#ff2600,#ff5600,#ff7300,#ff7c00,#ff7c00,#ff7900,#ff7400,#ff6d00,#ff6200,#f50,#ff4700,#ff3a00,#ff2e00,#ff2400,#ff1d00,#ff1900,#ff1900,#ff1d00,#ff2300,#ff2b00,#f30,#ff3a00,#ff4100,#ff4800,#ff5000,#ff5700,#ff5d00,#ff6300,#ff6800,#ff6c00,#ff6e00,#ff6f00,#ff6d00,#ff6900,#ff6200,#ff5900,#ff4e00,#ff4300,#ff3900,#ff2f00,#ff2600,#ff1d00,#ff1400,#ff0a00,#f00,#f60000)"></i>
<i style="background:linear-gradient(90deg,#ffb000,#ffa600,#ff9c00,#ff9200,#f80,#ff7d00,#ff7200,#ff6700,#ff5c00,#ff5200,#ff4700,#ff3d00,#ff3400,#ff2c00,#ff2500,#ff1f00,#ff1b00,#ff1800,#ff1600,#ff1400,#f10,#ff0b00,#ff0300,#ff0100,#ff2400,#ff5700,#ff7500,#ff7e00,#ff7e00,#ff7b00,#ff7500,#ff6e00,#ff6400,#ff5700,#ff4a00,#ff3c00,#ff3000,#ff2700,#ff2000,#ff1d00,#ff1d00,#f20,#ff2900,#ff3200,#ff3a00,#ff4100,#ff4800,#ff4e00,#f50,#ff5b00,#ff6100,#f60,#ff6b00,#ff6e00,#ff7000,#ff7000,#ff6e00,#ff6a00,#ff6300,#ff5a00,#ff4f00,#f40,#ff3900,#ff3000,#ff2700,#ff1e00,#ff1500,#ff0b00,#ff0100,#f80000)"></i>
<i style="background:linear-gradient(90deg,#ffb000,#ffa600,#ff9c00,#ff9200,#ff8700,#ff7c00,#ff7100,#f60,#ff5a00,#ff4f00,#ff4500,#ff3a00,#ff3100,#ff2800,#ff2100,#ff1a00,#ff1600,#ff1200,#ff1000,#ff0e00,#ff0b00,#ff0700,#f00,#fc0000,#ff2100,#ff5900,#ff7600,#ff8000,#ff8000,#ff7c00,#ff7600,#ff6f00,#ff6500,#ff5900,#ff4c00,#ff3f00,#f30,#ff2a00,#ff2300,#ff2000,#ff2100,#ff2700,#ff2f00,#ff3800,#ff4100,#ff4800,#ff4e00,#ff5400,#ff5a00,#ff6000,#ff6400,#ff6900,#ff6d00,#ff6f00,#ff7100,#ff7100,#ff6f00,#ff6b00,#ff6400,#ff5b00,#ff5000,#ff4500,#ff3a00,#ff3000,#ff2800,#ff1f00,#ff1700,#ff0d00,#ff0200,#f90000)"></i>
<i style="background:linear-gradient(90deg,#ffb000,#ffa600,#ff9c00,#ff9100,#ff8600,#ff7b00,#ff7000,#ff6400,#ff5900,#ff4d00,#ff4200,#ff3700,#ff2d00,#ff2400,#ff1c00,#ff1600,#ff1000,#ff0d00,#ff0a00,#ff0800,#ff0600,#ff0300,#fc0000,#f80000,#ff1f00,#ff5b00,#f70,#ff8100,#ff8100,#ff7d00,#f70,#ff6f00,#f60,#ff5b00,#ff4e00,#ff4100,#ff3600,#ff2d00,#ff2700,#ff2400,#ff2600,#ff2c00,#ff3500,#ff3f00,#ff4800,#ff4f00,#f50,#ff5a00,#ff5f00,#ff6400,#ff6800,#ff6b00,#ff6e00,#ff7100,#ff7200,#ff7200,#ff7000,#ff6c00,#ff6500,#ff5b00,#ff5000,#ff4500,#ff3a00,#ff3100,#ff2800,#ff2000,#ff1800,#ff0e00,#ff0400,#fa0000)"></i>
<i style="background:linear-gradient(90deg,#ffb000,#ffa600,#ff9b00,#ff9100,#ff8500,#ff7a00,#ff6e00,#ff6300,#ff5700,#ff4b00,#ff4000,#ff3400,#ff2a00,#ff2000,#ff1800,#f10,#ff0b00,#ff0700,#ff0400,#ff0300,#ff0100,#fe0000,#fa0000,#f50000,#ff1e00,#ff5c00,#f70,#ff8100,#ff8100,#ff7e00,#ff7800,#ff7000,#ff6800,#ff5d00,#ff5100,#f40,#ff3900,#ff3000,#ff2a00,#ff2800,#ff2a00,#ff3100,#ff3b00,#ff4600,#ff4f00,#ff5600,#ff5a00,#ff5f00,#ff6400,#ff6800,#ff6b00,#ff6d00,#ff7000,#ff7200,#ff7300,#ff7200,#ff7100,#ff6d00,#f60,#ff5c00,#ff5100,#ff4500,#ff3b00,#ff3100,#ff2900,#ff2100,#ff1900,#ff0f00,#ff0500,#fb0000)"></i>
<i style="background:linear-gradient(90deg,#ffb000,#ffa600,#ff9b00,#ff9000,#ff8500,#ff7900,#ff6d00,#ff6100,#f50,#ff4900,#ff3d00,#ff3100,#ff2600,#ff1c00,#ff1300,#ff0c00,#ff0600,#ff0200,#fe0000,#fc0000,#fb0000,#fb0000,#f90000,#f30000,#ff1d00,#ff5c00,#ff7600,#ff8000,#ff8100,#ff7f00,#ff7900,#ff7100,#ff6900,#ff5f00,#ff5300,#ff4700,#ff3c00,#f30,#ff2e00,#ff2b00,#ff2e00,#ff3600,#ff4100,#ff4c00,#ff5600,#ff5c00,#ff6000,#ff6400,#ff6800,#ff6b00,#ff6d00,#ff6f00,#ff7100,#ff7300,#ff7300,#ff7300,#ff7100,#ff6d00,#f60,#ff5c00,#ff5100,#ff4600,#ff3b00,#ff3100,#ff2900,#f20,#ff1a00,#ff1000,#ff0600,#fc0000)"></i>
<i style="background:linear-gradient(90deg,#ffb000,#ffa600,#ff9b00,#ff9000,#ff8400,#ff7800,#ff6c00,#ff6000,#ff5400,#ff4700,#ff3b00,#ff2f00,#ff2300,#ff1900,#ff0f00,#ff0700,#ff0100,#fb0000,#f90000,#f70000,#f70000,#f80000,#f80000,#f40000,#ff1d00,#ff5900,#ff7300,#ff7e00,#ff8100,#ff7f00,#ff7a00,#ff7200,#ff6b00,#ff6200,#ff5600,#ff4a00,#ff3f00,#ff3700,#ff3100,#ff2f00,#ff3200,#ff3b00,#ff4600,#ff5200,#ff5c00,#ff6200,#ff6500,#ff6800,#ff6b00,#ff6e00,#ff6f00,#ff7000,#ff7200,#ff7300,#ff7300,#ff7300,#ff7100,#ff6e00,#ff6700,#ff5c00,#ff5100,#ff4600,#ff3b00,#ff3100,#ff2900,#f20,#ff1b00,#f10,#ff0600,#fd0000)"></i>
<i style="background:linear-gradient(90deg,#ffb000,#ffa600,#ff9b00,#ff8f00,#ff8400,#ff7800,#ff6b00,#ff5f00,#ff5200,#ff4500,#ff3800,#ff2c00,#ff2000,#ff1500,#ff0b00,#ff0200,#fb0000,#f60000,#f30000,#f20000,#f30000,#f50000,#f70000,#f60000,#ff1e00,#ff5600,#ff6f00,#ff7b00,#ff8000,#ff8000,#ff7b00,#ff7400,#ff6d00,#ff6400,#ff5900,#ff4d00,#ff4200,#ff3a00,#ff3500,#ff3400,#ff3700,#ff4000,#ff4c00,#ff5800,#ff6200,#ff6700,#ff6900,#ff6c00,#ff6e00,#ff7000,#ff7100,#ff7100,#ff7200,#ff7300,#ff7300,#ff7200,#ff7100,#ff6d00,#f60,#ff5c00,#ff5100,#ff4500,#ff3b00,#ff3100,#ff2900,#f20,#ff1c00,#ff1200,#ff0700,#fe0000)"></i>
<i style="background:linear-gradient(90deg,#ffb000,#ffa600,#ff9b00,#ff8f00,#ff8300,#f70,#ff6b00,#ff5e00,#ff5100,#ff4300,#ff3600,#ff2900,#ff1d00,#f10,#ff0700,#fd0000,#f60000,#f10000,#e00,#e00,#ef0000,#f20000,#f70000,#f80000,#ff1f00,#ff5300,#ff6b00,#f70,#ff8000,#ff8100,#ff7d00,#ff7600,#ff7000,#ff6700,#ff5c00,#ff5000,#ff4500,#ff3e00,#ff3900,#ff3800,#ff3c00,#ff4500,#ff5100,#ff5d00,#ff6700,#ff6c00,#ff6d00,#ff6f00,#ff7100,#ff7200,#ff7200,#ff7200,#ff7200,#ff7300,#ff7300,#ff7200,#ff7000,#ff6d00,#f60,#ff5c00,#ff5000,#ff4500,#ff3a00,#ff3100,#ff2900,#f20,#ff1c00,#ff1200,#ff0700,#f00)"></i>
<i style="background:linear-gradient(90deg,#ffb000,#ffa600,#ff9a00,#ff8f00,#ff8300,#f70,#ff6a00,#ff5d00,#ff4f00,#ff4200,#ff3400,#ff2700,#ff1a00,#ff0e00,#ff0300,#f80000,#f10000,#ec0000,#e90000,#e90000,#eb0000,#ef0000,#f50000,#fb0000,#ff2100,#ff5000,#ff6700,#ff7500,#ff8000,#ff8300,#ff7f00,#ff7900,#ff7300,#ff6a00,#ff5f00,#ff5300,#ff4800,#ff4100,#ff3d00,#ff3c00,#ff4100,#ff4b00,#ff5700,#ff6300,#ff6c00,#ff7000,#ff7100,#ff7200,#ff7300,#ff7400,#ff7300,#ff7200,#ff7200,#ff7200,#ff7200,#ff7100,#ff6f00,#ff6c00,#ff6500,#ff5b00,#ff5000,#f40,#ff3a00,#ff3000,#ff2800,#ff2100,#ff1b00,#ff1200,#ff0700,#f00)"></i>
<i style="background:linear-gradient(90deg,#ffb100,#ffa600,#ff9a00,#ff8f00,#ff8300,#ff7600,#ff6900,#ff5c00,#ff4e00,#ff4000,#ff3200,#ff2400,#ff1700,#ff0a00,#fe0000,#f40000,#ec0000,#e70000,#e50000,#e50000,#e70000,#eb0000,#f10000,#fc0000,#ff2300,#ff4f00,#f60,#ff7400,#ff8000,#ff8500,#ff8200,#ff7c00,#ff7600,#ff6e00,#ff6200,#ff5600,#ff4c00,#ff4500,#ff4100,#ff4100,#ff4600,#ff5000,#ff5c00,#ff6700,#ff7000,#ff7300,#ff7400,#ff7400,#ff7500,#ff7400,#ff7300,#ff7200,#ff7200,#ff7100,#ff7100,#ff7000,#ff6e00,#ff6b00,#ff6400,#ff5a00,#ff4f00,#f40,#ff3900,#ff3000,#ff2700,#ff2100,#ff1a00,#f10,#ff0700,#ff0100)"></i>
<i style="background:linear-gradient(90deg,#ffb100,#ffa600,#ff9b00,#ff8f00,#ff8200,#ff7600,#ff6800,#ff5b00,#ff4d00,#ff3f00,#ff3000,#f20,#ff1400,#ff0700,#fa0000,#f00000,#e80000,#e20000,#e00000,#e10000,#e40000,#e80000,#e00,#fe0000,#ff2500,#ff4f00,#f60,#ff7500,#ff8200,#ff8700,#ff8500,#ff8000,#ff7a00,#ff7100,#f60,#ff5900,#ff4f00,#ff4900,#ff4500,#ff4600,#ff4b00,#f50,#ff6100,#ff6c00,#ff7400,#f70,#ff7600,#ff7600,#ff7600,#ff7500,#ff7300,#ff7100,#ff7100,#ff7000,#ff6f00,#ff6e00,#ff6c00,#ff6900,#ff6200,#ff5800,#ff4e00,#ff4300,#ff3800,#ff2f00,#ff2600,#ff1f00,#ff1900,#ff1000,#ff0700,#ff0100)"></i>
<i style="background:linear-gradient(90deg,#ffb100,#ffa600,#ff9b00,#ff8f00,#ff8200,#ff7500,#ff6800,#ff5a00,#ff4c00,#ff3d00,#ff2f00,#ff2000,#ff1200,#ff0400,#f70000,#ec0000,#e30000,#de0000,#db0000,#d00,#e10000,#e60000,#eb0000,#f00,#ff2800,#ff5100,#ff6800,#f70,#ff8400,#ff8900,#ff8900,#ff8400,#ff7e00,#ff7500,#ff6900,#ff5d00,#ff5300,#ff4c00,#ff4a00,#ff4b00,#ff5100,#ff5b00,#f60,#ff7000,#f70,#ff7900,#ff7800,#f70,#ff7600,#ff7400,#ff7200,#ff7100,#ff6f00,#ff6f00,#ff6e00,#ff6c00,#ff6a00,#ff6700,#ff6000,#ff5700,#ff4c00,#ff4200,#ff3700,#ff2e00,#ff2500,#ff1e00,#ff1700,#ff0f00,#ff0700,#ff0100)"></i>
<i style="background:linear-gradient(90deg,#ffb200,#ffa600,#ff9b00,#ff8f00,#ff8200,#ff7500,#ff6700,#ff5900,#ff4b00,#ff3c00,#ff2d00,#ff1e00,#ff0f00,#ff0100,#f30000,#e80000,#df0000,#d90000,#d70000,#d90000,#de0000,#e40000,#e90000,#ff0100,#ff2b00,#ff5300,#ff6b00,#ff7a00,#ff8600,#ff8c00,#ff8c00,#ff8900,#ff8300,#ff7900,#ff6d00,#ff6000,#ff5600,#ff5000,#ff4e00,#ff5000,#ff5600,#ff6000,#ff6b00,#ff7400,#ff7a00,#ff7c00,#ff7a00,#ff7800,#ff7600,#ff7400,#ff7100,#ff6f00,#ff6e00,#ff6d00,#ff6c00,#ff6a00,#ff6800,#ff6400,#ff5e00,#f50,#ff4b00,#ff4000,#ff3600,#ff2c00,#ff2400,#ff1c00,#ff1500,#ff0d00,#ff0600,#ff0200)"></i>
<i style="background:linear-gradient(90deg,#ffb200,#ffa700,#ff9b00,#ff8f00,#ff8200,#ff7500,#ff6700,#ff5900,#ff4a00,#ff3b00,#ff2c00,#ff1c00,#ff0d00,#fd0000,#f00000,#e40000,#db0000,#d50000,#d30000,#d50000,#dc0000,#e30000,#e70000,#ff0400,#ff3000,#ff5700,#ff7000,#ff7e00,#ff8a00,#ff9000,#ff9100,#ff8e00,#f80,#ff7e00,#ff7100,#ff6400,#ff5a00,#ff5400,#ff5200,#f50,#ff5c00,#ff6500,#ff7000,#ff7800,#ff7d00,#ff7d00,#ff7b00,#ff7800,#ff7600,#ff7300,#ff7000,#ff6e00,#ff6c00,#ff6b00,#ff6900,#ff6800,#ff6500,#ff6200,#ff5b00,#ff5300,#ff4900,#ff3f00,#ff3500,#ff2b00,#f20,#ff1b00,#ff1400,#ff0c00,#ff0500,#ff0200)"></i>
<i style="background:linear-gradient(90deg,#ffb200,#ffa700,#ff9b00,#ff8f00,#ff8200,#ff7500,#ff6700,#ff5800,#ff4900,#ff3a00,#ff2a00,#ff1a00,#ff0b00,#fb0000,#ed0000,#e10000,#d70000,#d10000,#cf0000,#d20000,#da0000,#e30000,#e80000,#ff0700,#ff3500,#ff5c00,#ff7400,#ff8300,#ff8d00,#ff9300,#ff9500,#ff9300,#ff8d00,#ff8200,#ff7500,#ff6700,#ff5d00,#ff5800,#ff5700,#ff5a00,#ff6100,#ff6b00,#ff7400,#ff7c00,#ff7f00,#ff7f00,#ff7c00,#ff7800,#ff7500,#ff7200,#ff6e00,#ff6c00,#ff6a00,#ff6800,#ff6700,#ff6500,#ff6200,#ff5f00,#ff5900,#ff5100,#ff4700,#ff3e00,#ff3400,#ff2a00,#ff2100,#ff1900,#ff1200,#ff0b00,#ff0500,#ff0300)"></i>
<i style="background:linear-gradient(90deg,#ffb300,#ffa800,#ff9c00,#ff8f00,#ff8200,#ff7500,#ff6700,#ff5800,#ff4900,#ff3900,#ff2900,#ff1900,#ff0900,#f80000,#ea0000,#d00,#d30000,#cd0000,#cb0000,#cf0000,#d80000,#e50000,#ea0000,#ff0c00,#ff3b00,#ff6200,#ff7a00,#f80,#ff9100,#ff9700,#f90,#ff9800,#ff9200,#ff8700,#ff7900,#ff6b00,#ff6100,#ff5b00,#ff5b00,#ff5f00,#f60,#ff7000,#ff7900,#ff7f00,#ff8200,#ff8000,#ff7d00,#ff7800,#ff7400,#ff7000,#ff6d00,#ff6a00,#ff6800,#f60,#ff6400,#ff6200,#ff5f00,#ff5c00,#ff5600,#ff4e00,#ff4600,#ff3c00,#ff3200,#ff2900,#ff1f00,#ff1700,#ff1000,#ff0900,#ff0400,#ff0300)"></i>
<i style="background:linear-gradient(90deg,#ffb300,#ffa800,#ff9c00,#ff9000,#ff8300,#ff7500,#ff6700,#ff5800,#ff4800,#ff3900,#ff2800,#ff1800,#ff0700,#f60000,#e70000,#da0000,#d00000,#c90000,#c70000,#cb0000,#d70000,#e80000,#f20000,#ff1300,#ff4200,#ff6800,#ff7f00,#ff8c00,#ff9500,#ff9b00,#ff9e00,#ff9d00,#ff9700,#ff8c00,#ff7d00,#ff6e00,#ff6400,#ff5f00,#ff5f00,#ff6400,#ff6b00,#ff7500,#ff7d00,#ff8200,#ff8400,#ff8100,#ff7d00,#ff7800,#ff7300,#ff6e00,#ff6a00,#ff6700,#ff6500,#ff6300,#ff6100,#ff5f00,#ff5c00,#ff5900,#ff5300,#ff4c00,#f40,#ff3b00,#ff3100,#ff2700,#ff1e00,#ff1600,#ff0e00,#ff0800,#ff0400,#ff0400)"></i>
<i style="background:linear-gradient(90deg,#ffb400,#ffa900,#ff9d00,#ff9000,#ff8300,#ff7500,#ff6700,#ff5800,#ff4800,#ff3800,#ff2700,#ff1700,#ff0600,#f40000,#e50000,#d70000,#c00,#c50000,#c40000,#c80000,#d50000,#eb0000,#fb0000,#ff1b00,#ff4900,#ff6e00,#ff8500,#ff9100,#f90,#ff9e00,#ffa200,#ffa200,#ff9d00,#ff9100,#ff8100,#ff7200,#ff6700,#ff6300,#ff6400,#ff6900,#ff7000,#ff7900,#ff8100,#ff8500,#ff8500,#ff8200,#ff7d00,#f70,#ff7100,#ff6c00,#ff6800,#ff6500,#ff6200,#ff6000,#ff5e00,#ff5c00,#ff5900,#f50,#ff5000,#ff4900,#ff4200,#ff3900,#ff3000,#ff2600,#ff1d00,#ff1400,#ff0d00,#ff0700,#ff0400,#ff0500)"></i>
<i style="background:linear-gradient(90deg,#ffb500,#ffa900,#ff9d00,#ff9000,#ff8300,#ff7500,#ff6700,#ff5800,#ff4800,#ff3800,#ff2700,#ff1600,#ff0400,#f20000,#e20000,#d40000,#c90000,#c20000,#c00000,#c50000,#d30000,#e00,#ff0600,#ff2300,#ff4f00,#ff7500,#ff8b00,#ff9600,#ff9c00,#ffa200,#ffa600,#ffa800,#ffa200,#ff9500,#ff8500,#ff7500,#ff6a00,#f60,#ff6800,#ff6d00,#ff7500,#ff7e00,#ff8500,#f80,#ff8700,#ff8200,#ff7c00,#ff7500,#ff6f00,#ff6a00,#ff6500,#ff6200,#ff5f00,#ff5d00,#ff5b00,#ff5800,#ff5600,#ff5200,#ff4d00,#ff4700,#ff4000,#ff3800,#ff2f00,#ff2500,#ff1b00,#ff1300,#ff0c00,#ff0600,#ff0400,#ff0600)"></i>
<i style="background:linear-gradient(90deg,#ffb500,#fa0,#ff9e00,#ff9100,#ff8400,#ff7600,#ff6700,#ff5800,#ff4800,#ff3800,#ff2600,#ff1500,#ff0300,#f10000,#e00000,#d20000,#c60000,#bf0000,#bd0000,#c20000,#d00000,#ef0000,#ff0e00,#ff2a00,#f50,#ff7b00,#ff9100,#ff9a00,#ffa000,#ffa500,#fa0,#ffad00,#ffa800,#ff9a00,#f80,#ff7800,#ff6d00,#ff6a00,#ff6c00,#ff7200,#ff7a00,#ff8300,#ff8900,#ff8b00,#f80,#ff8300,#ff7c00,#ff7400,#ff6d00,#ff6700,#ff6300,#ff5f00,#ff5c00,#ff5a00,#ff5700,#f50,#ff5200,#ff4f00,#ff4a00,#f40,#ff3d00,#ff3600,#ff2d00,#ff2400,#ff1a00,#ff1200,#ff0b00,#ff0600,#ff0500,#ff0800)"></i>
<i style="background:linear-gradient(90deg,#ffb600,#ffab00,#ff9e00,#ff9200,#ff8400,#ff7600,#ff6800,#ff5800,#ff4800,#ff3800,#ff2600,#ff1400,#ff0200,#ef0000,#df0000,#d00000,#c30000,#bc0000,#ba0000,#bf0000,#cd0000,#ec0000,#ff1200,#ff3000,#ff5b00,#ff8000,#ff9600,#ff9e00,#ffa300,#ffa800,#ffae00,#ffb200,#ffad00,#ff9f00,#ff8c00,#ff7b00,#ff7000,#ff6d00,#ff7000,#ff7600,#ff7f00,#ff8700,#ff8d00,#ff8e00,#ff8900,#ff8300,#ff7b00,#ff7300,#ff6b00,#ff6400,#ff6000,#ff5c00,#ff5900,#ff5600,#ff5400,#ff5100,#ff4e00,#ff4b00,#ff4700,#ff4200,#ff3b00,#ff3400,#ff2c00,#ff2300,#ff1900,#f10,#ff0a00,#ff0600,#ff0600,#ff0a00)"></i>
<i style="background:linear-gradient(90deg,#ffb700,#ffab00,#ff9f00,#ff9200,#ff8500,#f70,#ff6800,#ff5900,#ff4900,#ff3800,#ff2600,#ff1400,#ff0200,#e00,#d00,#cd0000,#c10000,#b90000,#b70000,#bc0000,#ca0000,#e60000,#ff1200,#ff3400,#ff5f00,#ff8500,#ff9b00,#ffa100,#ffa500,#ffab00,#ffb200,#ffb600,#ffb300,#ffa300,#ff8f00,#ff7d00,#ff7200,#ff7000,#ff7400,#ff7b00,#ff8300,#ff8b00,#ff9000,#ff9000,#ff8a00,#ff8200,#ff7a00,#ff7100,#ff6900,#ff6200,#ff5d00,#ff5900,#ff5600,#ff5300,#ff5000,#ff4d00,#ff4b00,#ff4800,#f40,#ff3f00,#ff3900,#f30,#ff2b00,#f20,#ff1900,#ff1000,#ff0a00,#ff0700,#ff0700,#ff0c00)"></i>
<i style="background:linear-gradient(90deg,#ffb800,#ffac00,#ffa000,#ff9300,#ff8600,#ff7800,#ff6900,#ff5900,#ff4900,#ff3800,#ff2600,#ff1400,#ff0100,#e00,#dc0000,#c00,#bf0000,#b60000,#b40000,#ba0000,#c70000,#df0000,#ff0f00,#ff3800,#ff6300,#f80,#ff9e00,#ffa400,#ffa700,#ffad00,#ffb500,#fb0,#ffb800,#ffa700,#ff9200,#ff8000,#ff7500,#ff7300,#f70,#ff7f00,#f80,#ff8f00,#ff9400,#ff9200,#ff8b00,#ff8200,#ff7900,#ff6f00,#f60,#ff5f00,#ff5a00,#ff5600,#ff5200,#ff4f00,#ff4c00,#ff4900,#ff4700,#f40,#ff4100,#ff3c00,#ff3700,#ff3200,#ff2b00,#f20,#ff1800,#ff1000,#ff0a00,#ff0800,#ff0900,#ff0f00)"></i>
<i style="background:linear-gradient(90deg,#ffb900,#ffad00,#ffa100,#ff9400,#ff8600,#ff7800,#ff6900,#ff5a00,#ff4a00,#ff3900,#ff2700,#ff1400,#ff0100,#ed0000,#db0000,#ca0000,#bd0000,#b40000,#b20000,#b80000,#c50000,#da0000,#ff0d00,#ff3b00,#ff6500,#ff8b00,#ffa100,#ffa500,#ffa900,#ffaf00,#ffb700,#ffbf00,#ffbc00,#ffab00,#ff9500,#ff8200,#f70,#ff7600,#ff7b00,#ff8300,#ff8c00,#ff9300,#ff9600,#ff9400,#ff8b00,#ff8200,#ff7800,#ff6d00,#ff6400,#ff5c00,#ff5600,#ff5200,#ff4f00,#ff4c00,#ff4900,#ff4600,#ff4300,#ff4100,#ff3e00,#ff3900,#ff3500,#ff3000,#ff2a00,#ff2100,#ff1800,#ff1000,#ff0b00,#ff0900,#ff0c00,#ff1300)"></i>
<i style="background:linear-gradient(90deg,#ffba00,#ffae00,#ffa200,#ff9500,#ff8700,#ff7900,#ff6a00,#ff5b00,#ff4a00,#ff3900,#ff2700,#ff1500,#ff0100,#ed0000,#da0000,#c90000,#b00,#b20000,#b00000,#b60000,#c40000,#da0000,#ff0f00,#ff3d00,#ff6800,#ff8d00,#ffa200,#ffa500,#fa0,#ffb100,#ffb900,#ffc200,#ffc100,#ffaf00,#ff9800,#ff8400,#ff7a00,#ff7900,#ff7f00,#ff8700,#ff9000,#ff9600,#f90,#ff9500,#ff8b00,#ff8100,#ff7600,#ff6c00,#ff6100,#ff5900,#ff5300,#ff4f00,#ff4c00,#ff4800,#ff4500,#ff4200,#ff3f00,#ff3d00,#ff3a00,#ff3700,#f30,#ff2f00,#ff2a00,#ff2100,#ff1800,#f10,#ff0d00,#ff0c00,#ff0f00,#ff1700)"></i>
<i style="background:linear-gradient(90deg,#fb0,#ffaf00,#ffa300,#ff9600,#f80,#ff7a00,#ff6b00,#ff5c00,#ff4b00,#ff3a00,#ff2800,#ff1500,#ff0200,#ed0000,#da0000,#c80000,#ba0000,#b00000,#ae0000,#b50000,#c50000,#df0000,#ff1400,#ff3f00,#ff6900,#ff8e00,#ffa200,#ffa400,#fa0,#ffb200,#fb0,#ffc500,#ffc500,#ffb200,#ff9a00,#ff8600,#ff7c00,#ff7c00,#ff8200,#ff8b00,#ff9300,#f90,#ff9b00,#ff9600,#ff8b00,#ff8000,#ff7500,#ff6a00,#ff5f00,#ff5600,#ff5000,#ff4c00,#ff4800,#ff4500,#ff4100,#ff3e00,#ff3c00,#ff3a00,#ff3700,#ff3400,#ff3100,#ff2e00,#ff2900,#ff2100,#ff1900,#ff1200,#ff0f00,#ff0f00,#ff1300,#ff1c00)"></i>
<i style="background:linear-gradient(90deg,#ffbc00,#ffb000,#ffa400,#ff9700,#ff8900,#ff7b00,#ff6c00,#ff5d00,#ff4d00,#ff3b00,#ff2900,#ff1600,#ff0200,#ed0000,#da0000,#c80000,#b90000,#af0000,#ad0000,#b40000,#c60000,#e60000,#ff1c00,#ff4000,#ff6b00,#ff8e00,#ff9f00,#ffa300,#fa0,#ffb200,#fb0,#ffc600,#ffc700,#ffb400,#ff9d00,#f80,#ff7e00,#ff7f00,#ff8600,#ff8f00,#ff9700,#ff9c00,#ff9d00,#ff9700,#ff8b00,#ff8000,#ff7400,#ff6800,#ff5d00,#ff5300,#ff4d00,#ff4900,#ff4500,#ff4100,#ff3d00,#ff3a00,#ff3800,#ff3700,#ff3500,#ff3200,#ff2f00,#ff2d00,#ff2900,#f20,#ff1a00,#ff1400,#ff1200,#ff1300,#ff1900,#ff2300)"></i>
<i style="background:linear-gradient(90deg,#ffbd00,#ffb100,#ffa500,#ff9800,#ff8a00,#ff7c00,#ff6e00,#ff5e00,#ff4e00,#ff3d00,#ff2a00,#ff1700,#ff0300,#e00,#da0000,#c80000,#b80000,#ae0000,#ab0000,#b30000,#c80000,#ed0000,#ff2500,#ff4100,#ff6c00,#ff8d00,#ff9c00,#ffa100,#ffa900,#ffb300,#ffbc00,#ffc600,#ffc900,#ffb600,#ff9f00,#ff8a00,#ff8000,#ff8200,#ff8900,#ff9200,#ff9a00,#ff9e00,#ff9e00,#ff9700,#ff8b00,#ff7f00,#ff7300,#ff6700,#ff5a00,#ff5100,#ff4b00,#ff4600,#ff4100,#ff3d00,#ff3900,#ff3600,#ff3500,#ff3400,#ff3200,#ff2f00,#ff2d00,#ff2c00,#ff2a00,#ff2300,#ff1c00,#ff1700,#ff1500,#ff1800,#ff1f00,#ff2a00)"></i>
<i style="background:linear-gradient(90deg,#ffbe00,#ffb200,#ffa600,#f90,#ff8c00,#ff7e00,#ff6f00,#ff5f00,#ff4f00,#ff3e00,#ff2c00,#ff1900,#ff0500,#ef0000,#db0000,#c80000,#b80000,#ad0000,#a00,#b30000,#c90000,#f30000,#ff2d00,#ff4200,#ff6d00,#ff8c00,#f90,#ff9e00,#ffa900,#ffb300,#ffbc00,#ffc500,#ffc900,#ffb800,#ffa100,#ff8c00,#ff8300,#ff8600,#ff8d00,#ff9600,#ff9d00,#ffa000,#ff9f00,#ff9700,#ff8b00,#ff7e00,#ff7200,#ff6500,#ff5900,#ff4f00,#ff4800,#ff4300,#ff3e00,#ff3900,#ff3500,#ff3200,#ff3100,#ff3100,#ff2f00,#ff2d00,#ff2b00,#ff2b00,#ff2a00,#ff2400,#ff1e00,#ff1a00,#ff1a00,#ff1e00,#ff2700,#f30)"></i>
<i style="background:linear-gradient(90deg,#ffbf00,#ffb400,#ffa700,#ff9a00,#ff8d00,#ff7f00,#ff7000,#ff6100,#ff5100,#ff4000,#ff2e00,#ff1a00,#ff0600,#f00000,#dc0000,#c80000,#b80000,#ac0000,#a00,#b30000,#cb0000,#f80000,#ff3000,#ff4300,#ff6e00,#ff8b00,#ff9600,#ff9d00,#ffa800,#ffb300,#ffbc00,#ffc400,#ffc800,#ffb900,#ffa300,#ff8f00,#ff8600,#ff8900,#ff9000,#f90,#ffa000,#ffa200,#ffa000,#ff9800,#ff8b00,#ff7e00,#ff7100,#ff6400,#ff5700,#ff4d00,#ff4600,#ff4000,#ff3a00,#ff3600,#ff3100,#ff2e00,#ff2e00,#ff2e00,#ff2d00,#ff2b00,#ff2a00,#ff2a00,#ff2a00,#ff2500,#ff2100,#ff1f00,#ff2000,#ff2500,#ff3000,#ff3e00)"></i>
<i style="background:linear-gradient(90deg,#ffc000,#ffb500,#ffa800,#ff9c00,#ff8e00,#ff8000,#ff7200,#ff6200,#ff5200,#ff4200,#ff3000,#ff1c00,#ff0800,#f20000,#d00,#c90000,#b80000,#ac0000,#a90000,#b20000,#c00,#fa0000,#ff2e00,#ff4500,#ff6f00,#ff8a00,#ff9400,#ff9b00,#ffa700,#ffb300,#ffbd00,#ffc400,#ffc800,#ffba00,#ffa500,#ff9200,#ff8a00,#ff8d00,#ff9400,#ff9c00,#ffa200,#ffa400,#ffa100,#ff9800,#ff8b00,#ff7e00,#ff7100,#ff6300,#ff5600,#ff4b00,#f40,#ff3d00,#ff3700,#ff3200,#ff2d00,#ff2a00,#ff2b00,#ff2b00,#ff2a00,#ff2900,#ff2800,#ff2900,#ff2a00,#ff2700,#ff2400,#ff2400,#ff2600,#ff2d00,#ff3a00,#ff4b00)"></i>
<i style="background:linear-gradient(90deg,#ffc200,#ffb600,#fa0,#ff9d00,#ff9000,#ff8200,#ff7300,#ff6400,#ff5400,#f40,#ff3200,#ff1f00,#ff0a00,#f40000,#df0000,#cb0000,#b90000,#ac0000,#a80000,#b20000,#c00,#fa0000,#ff2b00,#ff4800,#ff7100,#ff8900,#ff9300,#ff9a00,#ffa700,#ffb300,#ffbd00,#ffc500,#ffc700,#ffba00,#ffa700,#ff9500,#ff8e00,#ff9000,#ff9700,#ff9f00,#ffa400,#ffa500,#ffa100,#ff9800,#ff8b00,#ff7e00,#ff7000,#ff6200,#f50,#ff4a00,#ff4200,#ff3b00,#ff3400,#ff2e00,#ff2900,#ff2700,#ff2800,#ff2900,#ff2800,#ff2700,#ff2700,#ff2900,#ff2b00,#ff2a00,#ff2900,#ff2a00,#ff2e00,#ff3700,#f40,#ff5900)"></i>
<i style="background:linear-gradient(90deg,#ffc300,#ffb700,#ffab00,#ff9e00,#ff9100,#ff8300,#ff7500,#f60,#ff5600,#ff4600,#ff3400,#ff2100,#ff0d00,#f70000,#e10000,#cd0000,#ba0000,#ac0000,#a80000,#b20000,#c00,#f80000,#ff2800,#ff4900,#ff7100,#ff8700,#ff9100,#ff9a00,#ffa600,#ffb300,#ffbd00,#ffc500,#ffc600,#fb0,#ffa900,#f90,#ff9200,#ff9400,#ff9a00,#ffa100,#ffa600,#ffa600,#ffa200,#ff9800,#ff8b00,#ff7e00,#ff7000,#ff6200,#ff5400,#ff4900,#ff4000,#ff3800,#ff3100,#ff2a00,#ff2500,#ff2400,#ff2500,#ff2700,#ff2700,#ff2600,#ff2600,#ff2900,#ff2b00,#ff2d00,#ff2e00,#ff3100,#ff3800,#ff4100,#ff4f00,#ff6700)"></i>
<i style="background:linear-gradient(90deg,#ffc400,#ffb900,#ffad00,#ffa000,#ff9300,#ff8500,#f70,#ff6800,#ff5800,#ff4800,#ff3700,#ff2400,#ff1000,#fa0000,#e40000,#cf0000,#b00,#ad0000,#a80000,#b10000,#cb0000,#f60000,#ff2400,#ff4a00,#ff7100,#ff8500,#ff9000,#f90,#ffa600,#ffb200,#ffbd00,#ffc500,#ffc500,#fb0,#ffac00,#ff9d00,#ff9700,#ff9800,#ff9e00,#ffa400,#ffa800,#ffa800,#ffa300,#f90,#ff8c00,#ff7e00,#ff7000,#ff6200,#ff5400,#ff4800,#ff3f00,#ff3600,#ff2e00,#ff2700,#ff2100,#ff2100,#ff2300,#ff2500,#ff2500,#ff2500,#ff2600,#ff2900,#ff2d00,#ff3000,#ff3400,#ff3a00,#ff4200,#ff4d00,#ff5b00,#ff7100)"></i>
<i style="background:linear-gradient(90deg,#ffc600,#ffba00,#ffae00,#ffa100,#ff9400,#ff8700,#ff7900,#ff6a00,#ff5b00,#ff4b00,#ff3a00,#ff2700,#ff1300,#fd0000,#e70000,#d20000,#be0000,#ae0000,#a80000,#b00000,#c90000,#f20000,#ff2100,#ff4900,#ff6f00,#ff8300,#ff8e00,#f90,#ffa500,#ffb200,#ffbd00,#ffc400,#ffc400,#ffbc00,#ffae00,#ffa100,#ff9b00,#ff9c00,#ffa100,#ffa700,#fa0,#ffa900,#ffa300,#f90,#ff8c00,#ff7e00,#ff7000,#ff6100,#ff5400,#ff4800,#ff3e00,#ff3500,#ff2c00,#ff2300,#ff1e00,#ff1e00,#ff2100,#ff2400,#ff2400,#ff2400,#ff2500,#ff2900,#ff2f00,#ff3500,#ff3c00,#f40,#ff4f00,#ff5a00,#ff6700,#ff7800)"></i>
<i style="background:linear-gradient(90deg,#ffc700,#ffbc00,#ffb000,#ffa300,#ff9600,#ff8900,#ff7b00,#ff6c00,#ff5d00,#ff4d00,#ff3d00,#ff2a00,#ff1600,#ff0100,#eb0000,#d50000,#c00000,#af0000,#a80000,#b00000,#c70000,#e00,#ff1d00,#ff4700,#ff6c00,#ff8100,#ff8c00,#ff9800,#ffa500,#ffb200,#ffbd00,#ffc400,#ffc400,#ffbc00,#ffb000,#ffa500,#ff9f00,#ffa000,#ffa500,#ffa900,#ffac00,#fa0,#ffa400,#ff9a00,#ff8d00,#ff7e00,#ff7000,#ff6100,#ff5400,#ff4700,#ff3d00,#f30,#ff2a00,#ff2100,#ff1b00,#ff1c00,#ff2000,#ff2300,#ff2400,#ff2400,#ff2600,#ff2b00,#ff3200,#ff3b00,#ff4500,#ff4f00,#ff5c00,#ff6a00,#ff7500,#ff8100)"></i>
<i style="background:linear-gradient(90deg,#ffc900,#ffbd00,#ffb100,#ffa500,#ff9800,#ff8a00,#ff7d00,#ff6e00,#ff6000,#ff5000,#ff4000,#ff2e00,#ff1a00,#ff0500,#ef0000,#d90000,#c30000,#b10000,#a90000,#af0000,#c50000,#ea0000,#ff1800,#ff4500,#ff6900,#ff7e00,#ff8b00,#ff9700,#ffa400,#ffb100,#ffbc00,#ffc300,#ffc300,#ffbd00,#ffb200,#ffa900,#ffa400,#ffa500,#ffa800,#ffac00,#ffad00,#ffab00,#ffa500,#ff9a00,#ff8d00,#ff7f00,#ff7000,#ff6200,#ff5400,#ff4700,#ff3c00,#ff3200,#ff2800,#ff1f00,#ff1900,#ff1a00,#ff1f00,#ff2300,#ff2400,#ff2500,#ff2700,#ff2d00,#ff3600,#ff4200,#ff4f00,#ff5c00,#ff6c00,#ff7b00,#ff8600,#ff9100)"></i>
<i style="background:linear-gradient(90deg,#ffca00,#ffbf00,#ffb300,#ffa600,#ff9a00,#ff8c00,#ff7f00,#ff7100,#ff6200,#ff5300,#ff4300,#ff3200,#ff1e00,#ff0a00,#f40000,#de0000,#c70000,#b40000,#a00,#af0000,#c40000,#e60000,#ff1400,#ff4300,#f60,#ff7a00,#f80,#ff9600,#ffa400,#ffb100,#fb0,#ffc200,#ffc300,#ffbd00,#ffb400,#ffac00,#ffa800,#ffa900,#ffac00,#ffaf00,#ffaf00,#ffac00,#ffa500,#ff9b00,#ff8e00,#ff7f00,#ff7000,#ff6200,#ff5400,#ff4700,#ff3c00,#ff3200,#ff2700,#ff1d00,#ff1700,#ff1900,#ff1f00,#ff2400,#ff2500,#ff2600,#ff2800,#ff3000,#ff3b00,#ff4a00,#ff5b00,#ff6a00,#ff7e00,#ff8f00,#ff9b00,#ffa500)"></i>
<i style="background:linear-gradient(90deg,#fc0,#ffc000,#ffb500,#ffa800,#ff9b00,#ff8e00,#ff8100,#ff7300,#ff6500,#ff5600,#ff4700,#ff3600,#ff2300,#ff0f00,#f90000,#e30000,#c00,#b70000,#ac0000,#b00000,#c20000,#e20000,#ff1000,#ff4000,#ff6300,#f70,#ff8600,#ff9500,#ffa300,#ffb000,#ffba00,#ffc100,#ffc200,#ffbe00,#ffb700,#ffb000,#ffac00,#ffad00,#ffaf00,#ffb100,#ffb100,#ffae00,#ffa600,#ff9b00,#ff8e00,#ff8000,#ff7100,#ff6200,#ff5400,#ff4800,#ff3c00,#ff3100,#ff2700,#ff1c00,#ff1500,#ff1900,#ff2000,#ff2500,#ff2600,#ff2700,#ff2b00,#ff3400,#ff4200,#ff5300,#ff6800,#ff7b00,#ff9100,#ffa400,#ffb100,#ffbc00)"></i>
<i style="background:linear-gradient(90deg,#ffcd00,#ffc200,#ffb600,#fa0,#ff9d00,#ff9000,#ff8300,#ff7500,#ff6800,#ff5900,#ff4b00,#ff3a00,#ff2800,#ff1400,#fe0000,#e90000,#d10000,#ba0000,#ad0000,#b10000,#c10000,#df0000,#ff0c00,#ff3d00,#ff6000,#ff7300,#ff8400,#ff9400,#ffa300,#ffb000,#ffba00,#ffc000,#ffc100,#ffbe00,#ffb900,#ffb300,#ffb000,#ffb100,#ffb300,#ffb400,#ffb300,#ffaf00,#ffa700,#ff9c00,#ff8f00,#ff8000,#ff7100,#ff6300,#f50,#ff4800,#ff3c00,#ff3100,#ff2600,#ff1c00,#ff1500,#ff1a00,#ff2100,#ff2600,#ff2900,#ff2900,#ff2e00,#ff3900,#ff4900,#ff5e00,#f70,#ff8d00,#ffa600,#fb0,#ffc800,#ffd400)"></i>
<i style="background:linear-gradient(90deg,#ffcf00,#ffc400,#ffb800,#ffac00,#ff9f00,#ff9200,#ff8500,#ff7800,#ff6a00,#ff5d00,#ff4e00,#ff3f00,#ff2d00,#ff1900,#ff0500,#f00000,#d80000,#bf0000,#b00000,#b20000,#c10000,#dc0000,#ff0800,#ff3b00,#ff5c00,#ff6f00,#ff8100,#ff9300,#ffa300,#ffaf00,#ffb900,#ffbf00,#ffc100,#ffbf00,#fb0,#ffb600,#ffb400,#ffb500,#ffb600,#ffb600,#ffb500,#ffb000,#ffa800,#ff9c00,#ff8f00,#ff8100,#ff7200,#ff6300,#ff5600,#ff4900,#ff3d00,#ff3200,#ff2700,#ff1c00,#ff1600,#ff1b00,#ff2300,#ff2900,#ff2b00,#ff2c00,#ff3200,#ff3f00,#ff5200,#ff6b00,#f80,#ffa100,#ffbc00,#ffd200,#ffdf00,#ffec00)"></i>
<i style="background:linear-gradient(90deg,#ffd100,#ffc500,#ffba00,#ffae00,#ffa100,#ff9400,#ff8700,#ff7a00,#ff6d00,#ff6000,#ff5200,#ff4300,#ff3200,#ff1f00,#ff0c00,#f70000,#df0000,#c40000,#b30000,#b50000,#c30000,#da0000,#ff0500,#ff3800,#ff5900,#ff6b00,#ff7f00,#ff9200,#ffa200,#ffaf00,#ffb800,#ffbe00,#ffc000,#ffc000,#ffbd00,#ffba00,#ffb800,#ffb900,#ffb900,#ffb900,#ffb700,#ffb100,#ffa800,#ff9d00,#ff9000,#ff8100,#ff7200,#ff6400,#ff5600,#ff4900,#ff3d00,#ff3200,#ff2800,#ff1e00,#ff1800,#ff1d00,#ff2500,#ff2c00,#ff2f00,#ff3000,#ff3700,#ff4700,#ff5d00,#ff7900,#ff9a00,#ffb600,#ffd300,#ffe800,#fff500,#fdff02)"></i>
<i style="background:linear-gradient(90deg,#ffd200,#ffc700,#ffbc00,#ffb000,#ffa300,#ff9700,#ff8a00,#ff7d00,#ff7000,#ff6300,#ff5700,#ff4800,#ff3800,#ff2500,#ff1300,#ff0100,#e70000,#ca0000,#b70000,#b90000,#c50000,#da0000,#ff0200,#ff3600,#f50,#ff6700,#ff7c00,#ff9100,#ffa200,#ffae00,#ffb700,#ffbd00,#ffc000,#ffc000,#ffbf00,#ffbd00,#ffbc00,#ffbc00,#ffbd00,#ffbc00,#ffb800,#ffb200,#ffa900,#ff9e00,#ff9000,#ff8200,#ff7300,#ff6500,#ff5700,#ff4a00,#ff3e00,#f30,#ff2900,#ff2000,#ff1b00,#ff1f00,#ff2800,#ff3000,#f30,#ff3500,#ff3d00,#ff5000,#ff6a00,#ff8900,#ffad00,#ffcb00,#ffe800,#fffd00,#f5ff0a,#eaff15)"></i>
<i style="background:linear-gradient(90deg,#ffd400,#ffc900,#ffbd00,#ffb100,#ffa500,#f90,#ff8c00,#ff7f00,#ff7300,#ff6700,#ff5b00,#ff4d00,#ff3d00,#ff2b00,#ff1b00,#ff0a00,#f10000,#d00000,#b00,#be0000,#ca0000,#da0000,#f00,#f30,#ff5100,#ff6200,#ff7a00,#ff9100,#ffa200,#ffae00,#ffb600,#ffbc00,#ffc000,#ffc100,#ffc100,#ffc000,#ffc000,#ffc000,#ffc000,#ffbe00,#ffba00,#ffb300,#fa0,#ff9e00,#ff9100,#ff8200,#ff7400,#ff6500,#ff5800,#ff4b00,#ff3f00,#ff3400,#ff2a00,#f20,#ff1e00,#f20,#ff2b00,#ff3400,#ff3700,#ff3a00,#f40,#ff5b00,#ff7900,#ff9c00,#ffc100,#ffe000,#fffd00,#ef1,#e3ff1c,#daff25)"></i>
<i style="background:linear-gradient(90deg,#ffd600,#ffcb00,#ffbf00,#ffb300,#ffa700,#ff9b00,#ff8e00,#ff8200,#ff7600,#ff6a00,#ff5f00,#ff5300,#ff4300,#ff3100,#f20,#ff1400,#fc0000,#d80000,#c10000,#c50000,#d00000,#d00,#f00,#ff3100,#ff4d00,#ff5e00,#ff7900,#ff9100,#ffa200,#ffad00,#ffb500,#fb0,#ffbf00,#ffc200,#ffc300,#ffc300,#ffc300,#ffc400,#ffc300,#ffc100,#ffbc00,#ffb500,#ffab00,#ff9f00,#ff9100,#ff8300,#ff7400,#f60,#ff5800,#ff4c00,#ff4000,#ff3500,#ff2c00,#ff2400,#ff2100,#ff2500,#ff2e00,#ff3900,#ff3d00,#ff4000,#ff4c00,#ff6700,#ff8a00,#ffaf00,#ffd600,#fff400,#efff10,#df2,#d2ff2d,#cf3)"></i>
<i style="background:linear-gradient(90deg,#ffd700,#fc0,#ffc100,#ffb500,#ffa900,#ff9d00,#ff9100,#ff8500,#ff7900,#ff6e00,#ff6300,#ff5800,#ff4a00,#ff3800,#ff2b00,#ff1f00,#ff0900,#e20000,#c70000,#cd0000,#d90000,#e30000,#ff0100,#ff3000,#ff4a00,#ff5b00,#ff7800,#ff9100,#ffa200,#ffad00,#ffb400,#ffba00,#ffbf00,#ffc200,#ffc500,#ffc600,#ffc700,#ffc700,#ffc700,#ffc300,#ffbe00,#ffb600,#ffab00,#ff9f00,#ff9200,#ff8300,#ff7500,#ff6700,#ff5900,#ff4d00,#ff4100,#ff3600,#ff2e00,#ff2700,#ff2400,#ff2800,#ff3200,#ff3e00,#ff4300,#ff4600,#f50,#ff7500,#ff9d00,#ffc400,#ffea00,#f8ff07,#dfff20,#ceff31,#c4ff3b,#bfff40)"></i>
<i style="background:linear-gradient(90deg,#ffd900,#ffce00,#ffc300,#ffb700,#ffab00,#ff9f00,#ff9300,#ff8700,#ff7c00,#ff7100,#ff6700,#ff5d00,#ff5000,#ff3f00,#f30,#ff2b00,#ff1700,#ed0000,#ce0000,#d80000,#e40000,#ec0000,#ff0500,#ff3100,#ff4800,#ff5800,#f70,#ff9200,#ffa200,#ffad00,#ffb400,#ffb900,#ffbf00,#ffc300,#ffc600,#ffc900,#ffca00,#ffcb00,#ffca00,#ffc600,#ffbf00,#ffb700,#ffac00,#ffa000,#ff9200,#ff8400,#ff7500,#ff6700,#ff5a00,#ff4d00,#ff4200,#ff3800,#ff3000,#ff2a00,#ff2700,#ff2b00,#ff3600,#ff4300,#ff4900,#ff4e00,#ff6000,#ff8400,#ffb100,#ffd800,#fffe00,#e6ff19,#d0ff2f,#c0ff3f,#b7ff48,#b3ff4c)"></i>
<i style="background:linear-gradient(90deg,#ffdb00,#ffd000,#ffc500,#ffb900,#ffad00,#ffa100,#ff9500,#ff8a00,#ff7e00,#ff7400,#ff6b00,#ff6300,#ff5700,#ff4600,#ff3c00,#ff3700,#ff2600,#f90000,#d60000,#e40000,#f10000,#f70000,#ff0c00,#ff3400,#ff4800,#ff5700,#ff7800,#ff9300,#ffa300,#ffad00,#ffb300,#ffb800,#ffbf00,#ffc400,#ffc800,#fc0,#ffce00,#ffcf00,#ffcd00,#ffc800,#ffc100,#ffb800,#ffad00,#ffa000,#ff9300,#ff8400,#ff7600,#ff6800,#ff5b00,#ff4e00,#ff4300,#ff3900,#ff3200,#ff2d00,#ff2a00,#ff2e00,#ff3900,#ff4900,#ff4f00,#ff5600,#ff6c00,#ff9600,#ffc600,#ffec00,#ef1,#d6ff29,#c3ff3c,#b4ff4b,#abff54,#a7ff58)"></i>
<i style="background:linear-gradient(90deg,#fd0,#ffd200,#ffc700,#fb0,#ffb000,#ffa400,#ff9800,#ff8c00,#ff8100,#f70,#ff6f00,#ff6800,#ff5e00,#ff4c00,#ff4500,#f40,#ff3700,#ff0900,#df0000,#f10000,#f00,#ff0500,#ff1a00,#ff3900,#ff4900,#ff5900,#ff7900,#ff9400,#ffa300,#ffad00,#ffb300,#ffb800,#ffbe00,#ffc500,#ffca00,#ffce00,#ffd100,#ffd200,#ffd000,#ffcb00,#ffc300,#ffb900,#ffad00,#ffa100,#ff9300,#ff8500,#ff7600,#ff6800,#ff5b00,#ff4f00,#f40,#ff3a00,#ff3400,#ff2f00,#ff2c00,#ff3000,#ff3d00,#ff4e00,#ff5600,#ff5e00,#ff7900,#ffa800,#ffdc00,#fffe00,#deff21,#c7ff38,#b6ff49,#a8ff57,#9fff60,#9cff63)"></i>
<i style="background:linear-gradient(90deg,#ffdf00,#ffd400,#ffc900,#ffbd00,#ffb200,#ffa600,#ff9a00,#ff8f00,#ff8400,#ff7a00,#ff7300,#ff6d00,#ff6500,#ff5400,#ff4e00,#ff5100,#ff4900,#ff1c00,#eb0000,#ff0100,#ff0f00,#ff1400,#ff2a00,#ff4000,#ff4c00,#ff5c00,#ff7b00,#ff9500,#ffa400,#ffac00,#ffb200,#ffb700,#ffbf00,#ffc600,#fc0,#ffd100,#ffd400,#ffd500,#ffd300,#ffcd00,#ffc400,#ffba00,#ffae00,#ffa100,#ff9300,#ff8500,#ff7600,#ff6900,#ff5c00,#ff5000,#ff4500,#ff3b00,#ff3500,#ff3200,#ff2f00,#f30,#ff4000,#ff5300,#ff5c00,#ff6700,#f80,#fb0,#fff100,#ef1,#ceff31,#b9ff46,#af5,#9cff63,#94ff6b,#91ff6e)"></i>
<i style="background:linear-gradient(90deg,#ffe000,#ffd600,#ffcb00,#ffbf00,#ffb400,#ffa800,#ff9d00,#ff9100,#ff8600,#ff7d00,#ff7600,#ff7200,#ff6c00,#ff5b00,#ff5700,#ff5e00,#ff5b00,#ff3100,#fb0000,#ff1000,#ff1d00,#f20,#ff3800,#ff4700,#ff5000,#ff6000,#ff7d00,#ff9700,#ffa400,#ffac00,#ffb200,#ffb700,#ffbf00,#ffc700,#ffce00,#ffd400,#ffd800,#ffd900,#ffd600,#ffcf00,#ffc600,#fb0,#ffae00,#ffa100,#ff9300,#ff8500,#f70,#ff6900,#ff5d00,#ff5000,#ff4500,#ff3c00,#ff3600,#ff3400,#ff3100,#ff3500,#ff4200,#ff5600,#ff6100,#ff7200,#f90,#ffce00,#fbff04,#deff21,#c0ff3f,#acff53,#9eff61,#91ff6e,#89ff76,#84ff7b)"></i>
<i style="background:linear-gradient(90deg,#ffe200,#ffd800,#ffcd00,#ffc100,#ffb600,#fa0,#ff9f00,#ff9300,#ff8900,#ff8000,#ff7900,#ff7600,#ff7200,#ff6300,#ff6100,#ff6a00,#ff6d00,#ff4900,#ff1000,#ff1e00,#ff2a00,#ff2e00,#ff4200,#ff4d00,#f50,#ff6400,#ff8000,#ff9700,#ffa400,#ffad00,#ffb200,#ffb700,#ffbf00,#ffc700,#ffcf00,#ffd600,#ffdb00,#ffdc00,#ffd900,#ffd200,#ffc700,#ffbc00,#ffaf00,#ffa100,#ff9300,#ff8500,#f70,#ff6900,#ff5d00,#ff5100,#ff4600,#ff3d00,#ff3800,#ff3500,#ff3200,#ff3700,#f40,#ff5900,#f60,#ff7d00,#ffab00,#ffe000,#ecff13,#cfff30,#b3ff4c,#a0ff5f,#91ff6e,#86ff79,#7fff80,#78ff87)"></i>
<i style="background:linear-gradient(90deg,#ffe400,#ffd900,#ffcf00,#ffc300,#ffb800,#ffad00,#ffa100,#ff9600,#ff8b00,#ff8200,#ff7c00,#ff7900,#f70,#ff6b00,#ff6a00,#ff7500,#ff7c00,#ff6000,#ff2500,#ff2b00,#ff3500,#ff3900,#ff4a00,#ff5300,#ff5a00,#ff6800,#ff8200,#ff9800,#ffa500,#ffad00,#ffb200,#ffb700,#ffbf00,#ffc800,#ffd100,#ffd900,#ffde00,#ffdf00,#ffdc00,#ffd400,#ffc900,#ffbc00,#ffaf00,#ffa100,#ff9300,#ff8500,#f70,#ff6a00,#ff5d00,#ff5100,#ff4600,#ff3e00,#ff3800,#ff3500,#ff3400,#ff3800,#ff4600,#ff5b00,#ff6b00,#ff8900,#ffbd00,#fff200,#dfff20,#c0ff3f,#a6ff59,#94ff6b,#86ff79,#7bff84,#74ff8b,#6dff92)"></i>
<i style="background:linear-gradient(90deg,#ffe600,#ffdb00,#ffd100,#ffc600,#ffba00,#ffaf00,#ffa400,#ff9800,#ff8e00,#ff8400,#ff7f00,#ff7c00,#ff7b00,#ff7200,#ff7200,#ff7e00,#f80,#ff7100,#ff3900,#ff3700,#ff3e00,#ff4300,#ff5000,#ff5800,#ff5e00,#ff6c00,#ff8300,#ff9800,#ffa500,#ffad00,#ffb200,#ffb800,#ffc000,#ffc900,#ffd200,#ffdb00,#ffe100,#ffe200,#ffde00,#ffd600,#ffca00,#ffbd00,#ffaf00,#ffa100,#ff9300,#ff8500,#f70,#ff6a00,#ff5d00,#ff5100,#ff4700,#ff3e00,#ff3900,#ff3600,#ff3500,#ff3a00,#ff4800,#ff5e00,#ff7100,#ff9700,#ffcf00,#fbff04,#d2ff2d,#b4ff4b,#9aff65,#8aff75,#7bff84,#71ff8e,#6aff95,#64ff9b)"></i>
<i style="background:linear-gradient(90deg,#ffe800,#fd0,#ffd300,#ffc800,#ffbc00,#ffb100,#ffa600,#ff9b00,#ff9000,#ff8700,#ff8100,#ff7f00,#ff7e00,#ff7800,#ff7900,#ff8500,#ff9000,#ff7b00,#ff4a00,#ff4100,#ff4600,#ff4b00,#f50,#ff5d00,#ff6300,#ff7000,#ff8500,#f90,#ffa500,#ffad00,#ffb200,#ffb800,#ffc000,#ffca00,#ffd400,#fd0,#ffe300,#ffe500,#ffe100,#ffd700,#ffcb00,#ffbd00,#ffaf00,#ffa100,#ff9300,#ff8500,#f70,#ff6a00,#ff5d00,#ff5200,#ff4700,#ff3f00,#ff3900,#ff3600,#ff3600,#ff3b00,#ff4b00,#ff6100,#ff7900,#ffa700,#ffe200,#ebff14,#c5ff3a,#a8ff57,#8fff70,#80ff7f,#72ff8d,#68ff97,#60ff9f,#5bffa4)"></i>
<i style="background:linear-gradient(90deg,#ffe900,#ffdf00,#ffd400,#ffca00,#ffbf00,#ffb300,#ffa800,#ff9d00,#ff9200,#ff8900,#ff8300,#ff8100,#ff8000,#ff7c00,#ff7f00,#ff8b00,#ff9500,#ff8200,#ff5700,#ff4b00,#ff4c00,#ff5100,#ff5a00,#ff6100,#ff6700,#ff7400,#ff8700,#f90,#ffa500,#ffad00,#ffb200,#ffb800,#ffc000,#ffca00,#ffd500,#ffdf00,#ffe600,#ffe800,#ffe300,#ffd900,#fc0,#ffbe00,#ffaf00,#ffa100,#ff9300,#ff8500,#f70,#ff6a00,#ff5d00,#ff5200,#ff4700,#ff3f00,#ff3900,#ff3600,#ff3600,#ff3d00,#ff4d00,#f60,#ff8400,#ffb700,#fff300,#df2,#baff45,#9dff62,#85ff7a,#7f8,#6aff95,#60ff9f,#58ffa7,#53ffac)"></i>
<i style="background:linear-gradient(90deg,#ffeb00,#ffe100,#ffd600,#fc0,#ffc100,#ffb600,#fa0,#ff9f00,#ff9400,#ff8b00,#ff8400,#ff8300,#ff8200,#ff8000,#ff8300,#ff8f00,#ff9700,#ff8600,#ff6100,#ff5200,#ff5200,#f50,#ff5d00,#ff6400,#ff6a00,#f70,#ff8900,#ff9a00,#ffa600,#ffad00,#ffb300,#ffb900,#ffc100,#ffcb00,#ffd600,#ffe000,#ffe800,#ffea00,#ffe500,#ffdb00,#ffcd00,#ffbe00,#ffaf00,#ffa000,#ff9200,#ff8400,#f70,#ff6900,#ff5d00,#ff5200,#ff4700,#ff3f00,#ff3a00,#ff3700,#ff3700,#ff3f00,#ff5000,#ff6c00,#ff9100,#ffc900,#faff05,#d0ff2f,#afff50,#94ff6b,#7cff83,#6eff91,#62ff9d,#58ffa7,#51ffae,#4cffb3)"></i>
<i style="background:linear-gradient(90deg,#ffed00,#ffe300,#ffd800,#ffce00,#ffc300,#ffb800,#ffad00,#ffa200,#ff9700,#ff8d00,#ff8600,#ff8400,#ff8300,#ff8200,#ff8600,#ff9100,#ff9800,#f80,#ff6800,#ff5800,#ff5600,#ff5900,#ff6000,#f60,#ff6d00,#ff7a00,#ff8a00,#ff9a00,#ffa600,#ffad00,#ffb300,#ffb900,#ffc100,#ffcb00,#ffd600,#ffe100,#ffea00,#ffec00,#ffe700,#ffdc00,#ffcd00,#ffbe00,#ffaf00,#ffa000,#ff9200,#ff8400,#ff7600,#ff6900,#ff5d00,#ff5100,#ff4700,#ff3f00,#ff3a00,#ff3700,#ff3900,#ff4100,#ff5400,#ff7400,#ff9f00,#ffda00,#ecff13,#c4ff3b,#a5ff5a,#8bff74,#74ff8b,#67ff98,#5bffa4,#52ffad,#4affb5,#46ffb9)"></i>
<i style="background:linear-gradient(90deg,#ffef00,#ffe500,#ffda00,#ffd000,#ffc500,#ffba00,#ffaf00,#ffa400,#f90,#ff8f00,#ff8700,#ff8500,#ff8400,#ff8400,#f80,#ff9100,#ff9600,#f80,#ff6c00,#ff5c00,#ff5800,#ff5b00,#ff6100,#ff6800,#ff7000,#ff7c00,#ff8c00,#ff9b00,#ffa600,#ffad00,#ffb300,#ffb900,#ffc100,#ffcb00,#ffd600,#ffe200,#ffeb00,#fe0,#ffe900,#fd0,#ffcd00,#ffbd00,#ffae00,#ff9f00,#ff9100,#ff8400,#ff7600,#ff6900,#ff5d00,#ff5100,#ff4700,#ff3f00,#ff3a00,#ff3800,#ff3a00,#ff4300,#ff5900,#ff7d00,#ffaf00,#ffea00,#dfff20,#b9ff46,#9cff63,#83ff7c,#6dff92,#60ff9f,#5fa,#4cffb3,#45ffba,#41ffbe)"></i>
<i style="background:linear-gradient(90deg,#fff100,#ffe700,#ffdc00,#ffd200,#ffc700,#ffbc00,#ffb100,#ffa600,#ff9b00,#ff9100,#ff8900,#ff8600,#ff8500,#ff8500,#f80,#ff9000,#ff9300,#ff8600,#ff6e00,#ff5e00,#ff5a00,#ff5d00,#ff6200,#ff6900,#ff7200,#ff7e00,#ff8d00,#ff9c00,#ffa600,#ffad00,#ffb300,#ffb900,#ffc100,#ffcb00,#ffd600,#ffe300,#ffec00,#fff000,#ffea00,#fd0,#ffcd00,#ffbd00,#ffad00,#ff9f00,#ff9100,#ff8300,#ff7600,#ff6900,#ff5d00,#ff5100,#ff4700,#ff3f00,#ff3a00,#ff3800,#ff3b00,#ff4600,#ff5e00,#f80,#ffbe00,#fff800,#d4ff2b,#b0ff4f,#93ff6c,#7bff84,#6f9,#59ffa6,#4fffb0,#47ffb8,#41ffbe,#3effc1)"></i>
<i style="background:linear-gradient(90deg,#fff300,#ffe800,#ffde00,#ffd400,#ffc900,#ffbe00,#ffb400,#ffa900,#ff9e00,#ff9300,#ff8b00,#ff8700,#ff8500,#ff8500,#f80,#ff8e00,#ff8f00,#ff8300,#ff6d00,#ff5f00,#ff5b00,#ff5d00,#ff6300,#ff6a00,#ff7300,#ff8000,#ff8f00,#ff9c00,#ffa600,#ffad00,#ffb300,#ffb900,#ffc000,#ffca00,#ffd600,#ffe200,#ffed00,#fff100,#ffeb00,#ffde00,#ffcd00,#ffbc00,#ffad00,#ff9e00,#ff9000,#ff8300,#ff7500,#ff6900,#ff5c00,#ff5100,#ff4700,#ff3f00,#ff3a00,#ff3900,#ff3d00,#ff4a00,#ff6500,#ff9400,#ffce00,#f8ff07,#caff35,#a8ff57,#8cff73,#74ff8b,#60ff9f,#53ffac,#4affb5,#42ffbd,#3effc1,#3cffc3)"></i>
<i style="background:linear-gradient(90deg,#fff400,#ffea00,#ffe000,#ffd600,#ffcb00,#ffc000,#ffb600,#ffab00,#ffa000,#ff9500,#ff8d00,#f80,#ff8500,#ff8400,#ff8600,#ff8b00,#ff8b00,#ff7f00,#ff6c00,#ff5e00,#ff5a00,#ff5d00,#ff6300,#ff6b00,#ff7500,#ff8100,#ff9000,#ff9d00,#ffa700,#ffad00,#ffb300,#ffb800,#ffc000,#ffca00,#ffd500,#ffe200,#ffed00,#fff200,#ffec00,#ffde00,#fc0,#fb0,#ffac00,#ff9d00,#ff9000,#ff8200,#ff7500,#ff6800,#ff5c00,#ff5100,#ff4700,#ff3f00,#ff3b00,#ff3a00,#ff3f00,#ff4e00,#ff6c00,#ffa100,#fd0,#ecff13,#c2ff3d,#a1ff5e,#85ff7a,#6dff92,#5affa5,#4effb1,#45ffba,#3dffc2,#3bffc4,#3cffc3)"></i>
<i style="background:linear-gradient(90deg,#fff600,#ffec00,#ffe200,#ffd700,#ffcd00,#ffc200,#ffb800,#ffad00,#ffa200,#ff9800,#ff8f00,#ff8900,#ff8400,#ff8200,#ff8400,#ff8600,#ff8500,#ff7900,#ff6800,#ff5d00,#ff5900,#ff5c00,#ff6200,#ff6b00,#ff7500,#ff8300,#ff9100,#ff9e00,#ffa700,#ffad00,#ffb200,#ffb800,#ffc000,#ffc900,#ffd500,#ffe100,#ffec00,#fff200,#ffec00,#fd0,#ffcb00,#ffba00,#ffab00,#ff9d00,#ff8f00,#ff8200,#ff7500,#ff6800,#ff5c00,#ff5100,#ff4700,#ff3f00,#ff3b00,#ff3b00,#ff4200,#ff5300,#ff7500,#ffaf00,#ffeb00,#e2ff1d,#bf4,#9bff64,#7fff80,#6f9,#54ffab,#48ffb7,#40ffbf,#39ffc6,#39ffc6,#3cffc3)"></i>
<i style="background:linear-gradient(90deg,#fff800,#fe0,#ffe400,#ffd900,#ffcf00,#ffc400,#ffba00,#ffaf00,#ffa500,#ff9a00,#ff9000,#ff8900,#ff8400,#ff8000,#ff8000,#ff8200,#ff7f00,#ff7300,#ff6400,#ff5a00,#ff5700,#ff5a00,#ff6100,#ff6a00,#ff7600,#ff8400,#ff9200,#ff9e00,#ffa700,#ffad00,#ffb200,#ffb800,#ffbf00,#ffc800,#ffd300,#ffe000,#ffeb00,#fff200,#ffec00,#ffdc00,#ffca00,#ffb900,#fa0,#ff9c00,#ff8e00,#ff8100,#ff7400,#ff6800,#ff5c00,#ff5100,#ff4700,#ff3f00,#ff3b00,#ff3c00,#ff4500,#ff5900,#ff7f00,#ffbd00,#fff800,#d9ff26,#b5ff4a,#95ff6a,#79ff86,#60ff9f,#4fffb0,#43ffbc,#3affc5,#35ffca,#37ffc8,#3cffc3)"></i>
<i style="background:linear-gradient(90deg,#fffa00,#fff000,#ffe500,#ffdb00,#ffd100,#ffc600,#ffbc00,#ffb200,#ffa700,#ff9c00,#ff9200,#ff8900,#ff8300,#ff7e00,#ff7d00,#ff7c00,#ff7800,#ff6c00,#ff5f00,#ff5600,#ff5400,#ff5800,#ff5f00,#ff6900,#ff7600,#ff8400,#ff9300,#ff9f00,#ffa700,#ffad00,#ffb200,#ffb700,#ffbe00,#ffc700,#ffd200,#ffde00,#ffe900,#fff000,#ffeb00,#ffdb00,#ffc900,#ffb800,#ffa900,#ff9b00,#ff8e00,#ff8100,#ff7400,#ff6800,#ff5c00,#ff5100,#ff4700,#ff4000,#ff3c00,#ff3d00,#ff4700,#ff5e00,#ff8a00,#ffcb00,#fbff04,#d2ff2d,#b0ff4f,#91ff6e,#73ff8c,#5affa5,#4affb5,#3effc1,#34ffcb,#31ffce,#36ffc9,#3dffc2)"></i>
<i style="background:linear-gradient(90deg,#fffb00,#fff100,#ffe700,#fd0,#ffd300,#ffc800,#ffbe00,#ffb400,#ffa900,#ff9e00,#ff9300,#ff8900,#ff8100,#ff7b00,#ff7900,#f70,#ff7100,#ff6500,#ff5900,#ff5200,#ff5100,#f50,#ff5d00,#ff6900,#ff7600,#ff8500,#ff9400,#ff9f00,#ffa800,#ffad00,#ffb200,#ffb700,#ffbd00,#ffc600,#ffd000,#ffdc00,#ffe700,#fe0,#ffea00,#ffda00,#ffc700,#ffb600,#ffa800,#ff9a00,#ff8d00,#ff8000,#ff7400,#ff6700,#ff5c00,#ff5100,#ff4700,#ff4000,#ff3c00,#ff3f00,#ff4a00,#ff6500,#ff9600,#ffd800,#f1ff0e,#cf3,#acff53,#8dff72,#6dff92,#5fa,#46ffb9,#39ffc6,#2fffd0,#2effd1,#36ffc9,#3fffc0)"></i>
<i style="background:linear-gradient(90deg,#fffd00,#fff300,#ffe900,#ffdf00,#ffd400,#ffca00,#ffc000,#ffb600,#ffab00,#ffa000,#ff9400,#ff8900,#ff8000,#ff7800,#ff7400,#ff7100,#ff6a00,#ff5e00,#ff5200,#ff4d00,#ff4d00,#ff5200,#ff5b00,#ff6700,#ff7600,#ff8600,#ff9400,#ffa000,#ffa800,#ffad00,#ffb100,#ffb600,#ffbc00,#ffc500,#ffcf00,#ffd900,#ffe500,#ffec00,#ffe800,#ffd900,#ffc600,#ffb500,#ffa700,#f90,#ff8c00,#ff8000,#ff7300,#ff6700,#ff5c00,#ff5000,#ff4700,#ff4000,#ff3d00,#ff4000,#ff4d00,#ff6b00,#ffa100,#ffe500,#ebff14,#c8ff37,#a9ff56,#8aff75,#68ff97,#50ffaf,#42ffbd,#35ffca,#29ffd6,#2bffd4,#36ffc9,#41ffbe)"></i>
<i style="background:linear-gradient(90deg,#ff0,#fff500,#ffeb00,#ffe000,#ffd600,#fc0,#ffc200,#ffb800,#ffad00,#ffa200,#ff9500,#ff8900,#ff7e00,#ff7500,#ff7000,#ff6b00,#ff6300,#ff5600,#ff4c00,#ff4800,#ff4900,#ff4f00,#ff5900,#f60,#ff7600,#ff8600,#ff9500,#ffa100,#ffa800,#ffad00,#ffb100,#ffb500,#ffbc00,#ffc400,#ffcd00,#ffd700,#ffe200,#ffea00,#ffe600,#ffd700,#ffc400,#ffb300,#ffa500,#ff9800,#ff8c00,#ff7f00,#ff7300,#ff6700,#ff5b00,#ff5100,#ff4700,#ff4000,#ff3d00,#ff4100,#ff4f00,#ff7100,#ffab00,#ffef00,#e7ff18,#c6ff39,#a7ff58,#87ff78,#63ff9c,#4cffb3,#40ffbf,#32ffcd,#25ffda,#29ffd6,#36ffc9,#42ffbd)"></i>
<i style="background:linear-gradient(90deg,#fdff02,#fff700,#ffec00,#ffe200,#ffd800,#ffce00,#ffc400,#ffba00,#ffaf00,#ffa400,#ff9600,#ff8900,#ff7d00,#ff7200,#ff6b00,#ff6500,#ff5c00,#ff4f00,#ff4500,#ff4200,#ff4500,#ff4c00,#ff5600,#ff6500,#ff7500,#ff8600,#ff9500,#ffa100,#ffa800,#ffad00,#ffb000,#ffb500,#fb0,#ffc200,#ffcb00,#ffd400,#ffdf00,#ffe700,#ffe500,#ffd500,#ffc100,#ffb200,#ffa400,#ff9800,#ff8b00,#ff7f00,#ff7300,#ff6700,#ff5b00,#ff5100,#ff4700,#ff4000,#ff3e00,#ff4200,#ff5100,#ff7500,#ffb400,#fff700,#e6ff19,#c4ff3b,#a5ff5a,#85ff7a,#5effa1,#49ffb6,#3effc1,#31ffce,#2fd,#28ffd7,#36ffc9,#4fb)"></i>
<i style="background:linear-gradient(90deg,#fcff03,#fff800,#fe0,#ffe400,#ffd900,#ffcf00,#ffc500,#fb0,#ffb100,#ffa500,#ff9700,#ff8900,#ff7b00,#ff6f00,#ff6700,#ff5f00,#f50,#ff4700,#ff3e00,#ff3d00,#ff4100,#ff4900,#ff5400,#ff6300,#ff7500,#ff8600,#ff9600,#ffa100,#ffa900,#ffad00,#ffb000,#ffb400,#ffba00,#ffc100,#ffc900,#ffd200,#fd0,#ffe500,#ffe300,#ffd300,#ffbf00,#ffb000,#ffa300,#ff9700,#ff8b00,#ff7f00,#ff7300,#ff6700,#ff5c00,#ff5100,#ff4700,#ff4000,#ff3e00,#ff4300,#ff5300,#ff7800,#fb0,#fffc00,#e6ff19,#c3ff3c,#a4ff5b,#84ff7b,#5affa5,#47ffb8,#3effc1,#31ffce,#2fd,#28ffd7,#37ffc8,#45ffba)"></i>
<i style="background:linear-gradient(90deg,#faff05,#fffa00,#fff000,#ffe500,#ffdb00,#ffd100,#ffc700,#ffbd00,#ffb300,#ffa700,#ff9800,#ff8900,#ff7a00,#ff6c00,#ff6200,#ff5a00,#ff4e00,#ff4100,#ff3700,#ff3800,#ff3d00,#ff4600,#ff5100,#ff6200,#ff7400,#ff8600,#ff9600,#ffa200,#ffa900,#ffad00,#ffb000,#ffb300,#ffb900,#ffc000,#ffc700,#ffcf00,#ffda00,#ffe200,#ffe100,#ffd100,#ffbd00,#ffaf00,#ffa300,#ff9700,#ff8b00,#ff7f00,#ff7300,#ff6700,#ff5c00,#ff5100,#ff4700,#ff4100,#ff3e00,#ff4300,#ff5300,#ff7900,#ffbf00,#ff0,#e8ff17,#c3ff3c,#a4ff5b,#83ff7c,#56ffa9,#46ffb9,#3fffc0,#3fc,#24ffdb,#29ffd6,#38ffc7,#45ffba)"></i>
<i style="background:linear-gradient(90deg,#f9ff06,#fffb00,#fff100,#ffe700,#ffdc00,#ffd200,#ffc800,#ffbe00,#ffb400,#ffa800,#ff9800,#f80,#ff7800,#ff6900,#ff5f00,#f50,#ff4900,#ff3a00,#ff3100,#f30,#ff3900,#ff4300,#ff4f00,#ff6100,#ff7400,#ff8600,#ff9600,#ffa200,#ffa900,#ffad00,#ffb000,#ffb300,#ffb800,#ffbf00,#ffc600,#ffcd00,#ffd700,#ffdf00,#ffdf00,#ffcf00,#fb0,#ffae00,#ffa200,#ff9600,#ff8a00,#ff7f00,#ff7300,#ff6700,#ff5c00,#ff5100,#ff4800,#ff4100,#ff3f00,#f40,#ff5400,#ff7900,#ffc000,#fdff02,#e8ff17,#c3ff3c,#a4ff5b,#82ff7d,#5fa,#46ffb9,#40ffbf,#35ffca,#28ffd7,#2bffd4,#38ffc7,#4fb)"></i>
<i style="background:linear-gradient(90deg,#f7ff08,#fffd00,#fff300,#ffe800,#ffde00,#ffd300,#ffc900,#ffbf00,#ffb500,#ffa800,#f90,#f80,#f70,#ff6700,#ff5b00,#ff5000,#ff4300,#ff3500,#ff2c00,#ff2f00,#ff3600,#ff4000,#ff4d00,#ff6000,#ff7300,#ff8600,#ff9600,#ffa200,#ffa900,#ffad00,#ffb000,#ffb200,#ffb800,#ffbe00,#ffc400,#ffcb00,#ffd500,#fd0,#ffdc00,#ffcd00,#ffba00,#ffad00,#ffa100,#ff9600,#ff8a00,#ff7f00,#ff7300,#ff6700,#ff5c00,#ff5100,#ff4800,#ff4100,#ff3f00,#f40,#ff5300,#ff7800,#ffbe00,#fffe00,#e8ff17,#c4ff3b,#a4ff5b,#83ff7c,#58ffa7,#48ffb7,#43ffbc,#39ffc6,#2dffd2,#2effd1,#39ffc6,#4fb)"></i>
<i style="background:linear-gradient(90deg,#f5ff0a,#fffe00,#fff400,#ffea00,#ffdf00,#ffd500,#ffca00,#ffc000,#ffb500,#ffa900,#f90,#f80,#ff7600,#f60,#ff5800,#ff4c00,#ff3e00,#ff3000,#ff2800,#ff2b00,#ff3200,#ff3e00,#ff4c00,#ff5f00,#ff7300,#ff8600,#ff9600,#ffa200,#ffa900,#ffad00,#ffb000,#ffb200,#ffb700,#ffbd00,#ffc300,#ffca00,#ffd300,#ffda00,#ffd900,#ffcb00,#ffba00,#ffac00,#ffa100,#ff9600,#ff8a00,#ff7f00,#ff7300,#ff6800,#ff5c00,#ff5100,#ff4800,#ff4100,#ff3f00,#ff4300,#ff5200,#ff7600,#ffba00,#fffa00,#e7ff18,#c4ff3b,#a5ff5a,#85ff7a,#5cffa3,#4bffb4,#45ffba,#3dffc2,#3fc,#32ffcd,#3affc5,#43ffbc)"></i>
<i style="background:linear-gradient(90deg,#f4ff0b,#feff01,#fff500,#ffeb00,#ffe000,#ffd600,#ffcb00,#ffc100,#ffb600,#ffa900,#f90,#ff8700,#ff7500,#ff6400,#ff5600,#ff4800,#ff3a00,#ff2c00,#ff2500,#ff2700,#ff2f00,#ff3b00,#ff4b00,#ff5e00,#ff7300,#ff8600,#ff9600,#ffa200,#ffa900,#ffad00,#ffb000,#ffb200,#ffb700,#ffbc00,#ffc200,#ffc900,#ffd100,#ffd700,#ffd600,#ffca00,#ffb900,#ffac00,#ffa100,#ff9500,#ff8a00,#ff7f00,#ff7300,#ff6800,#ff5d00,#ff5200,#ff4800,#ff4100,#ff3f00,#ff4300,#ff5100,#ff7300,#ffb400,#fff500,#e7ff18,#c5ff3a,#a6ff59,#86ff79,#61ff9e,#4effb1,#48ffb7,#41ffbe,#39ffc6,#36ffc9,#3bffc4,#42ffbd)"></i>
<i style="background:linear-gradient(90deg,#f2ff0d,#fdff02,#fff700,#ffec00,#ffe100,#ffd700,#fc0,#ffc200,#ffb600,#ffa900,#f90,#ff8700,#ff7500,#ff6300,#ff5400,#ff4500,#ff3600,#ff2900,#ff2100,#ff2400,#ff2c00,#ff3900,#ff4a00,#ff5e00,#ff7200,#ff8600,#ff9600,#ffa200,#ffa900,#ffad00,#ffb000,#ffb200,#ffb600,#ffbc00,#ffc100,#ffc800,#ffcf00,#ffd500,#ffd400,#ffc800,#ffb900,#ffac00,#ffa100,#ff9600,#ff8a00,#ff7f00,#ff7400,#ff6800,#ff5d00,#ff5200,#ff4900,#ff4200,#ff3f00,#ff4200,#ff5000,#ff7000,#ffad00,#fe0,#e9ff16,#c7ff38,#a8ff57,#89ff76,#67ff98,#53ffac,#4bffb4,#45ffba,#3effc1,#3affc5,#3cffc3,#41ffbe)"></i>
<i style="background:linear-gradient(90deg,#f1ff0e,#fbff04,#fff800,#ffed00,#ffe300,#ffd800,#ffcd00,#ffc200,#ffb700,#ffa900,#f90,#ff8700,#ff7500,#ff6200,#ff5200,#ff4200,#f30,#ff2500,#ff1e00,#ff2100,#ff2a00,#ff3700,#ff4900,#ff5d00,#ff7200,#ff8600,#ff9600,#ffa200,#ffa900,#ffad00,#ffb000,#ffb200,#ffb600,#fb0,#ffc100,#ffc700,#ffce00,#ffd300,#ffd100,#ffc700,#ffb800,#ffac00,#ffa100,#ff9600,#ff8b00,#ff8000,#ff7400,#ff6900,#ff5e00,#ff5300,#ff4900,#ff4200,#ff3f00,#ff4100,#ff4e00,#ff6c00,#ffa500,#ffe500,#ecff13,#caff35,#abff54,#8cff73,#6dff92,#58ffa7,#4effb1,#48ffb7,#42ffbd,#3dffc2,#3dffc2,#40ffbf)"></i>
<i style="background:linear-gradient(90deg,#efff10,#faff05,#fffa00,#ffef00,#ffe400,#ffd900,#ffce00,#ffc300,#ffb700,#ffa900,#f90,#ff8700,#ff7400,#ff6200,#ff5100,#ff4000,#ff3000,#ff2300,#ff1c00,#ff1e00,#ff2700,#ff3600,#ff4800,#ff5d00,#ff7200,#ff8600,#ff9600,#ffa200,#ffa900,#ffad00,#ffb000,#ffb300,#ffb600,#fb0,#ffc000,#ffc600,#fc0,#ffd100,#ffcf00,#ffc500,#ffb800,#ffac00,#ffa100,#ff9600,#ff8b00,#ff8000,#ff7500,#ff6900,#ff5e00,#ff5300,#ff4a00,#ff4200,#ff3f00,#ff4100,#ff4d00,#ff6800,#ff9c00,#ffdb00,#f2ff0d,#ceff31,#aeff51,#90ff6f,#73ff8c,#5dffa2,#52ffad,#4bffb4,#46ffb9,#40ffbf,#3effc1,#40ffbf)"></i>
<i style="background:linear-gradient(90deg,#ef1,#f8ff07,#fffb00,#fff000,#ffe500,#ffda00,#ffce00,#ffc300,#ffb700,#ffa900,#f90,#ff8700,#ff7400,#ff6200,#ff5000,#ff3e00,#ff2e00,#ff2000,#ff1900,#ff1b00,#ff2500,#ff3400,#ff4700,#ff5d00,#ff7200,#ff8600,#ff9600,#ffa200,#ffa900,#ffae00,#ffb000,#ffb300,#ffb600,#ffba00,#ffbf00,#ffc500,#ffcb00,#ffcf00,#ffcd00,#ffc400,#ffb800,#ffac00,#ffa100,#ff9700,#ff8c00,#ff8100,#ff7500,#ff6a00,#ff5f00,#ff5400,#ff4a00,#ff4300,#ff3f00,#ff4000,#ff4b00,#ff6400,#ff9300,#ffcf00,#faff05,#d3ff2c,#b2ff4d,#95ff6a,#79ff86,#63ff9c,#5fa,#4effb1,#48ffb7,#42ffbd,#40ffbf,#3fffc0)"></i>
<i style="background:linear-gradient(90deg,#ecff13,#f7ff08,#fffc00,#fff100,#ffe600,#ffda00,#ffcf00,#ffc300,#ffb700,#ffa900,#f90,#ff8700,#ff7400,#ff6100,#ff4f00,#ff3d00,#ff2c00,#ff1e00,#ff1700,#ff1900,#ff2300,#f30,#ff4700,#ff5d00,#ff7200,#ff8600,#ff9600,#ffa200,#fa0,#ffae00,#ffb000,#ffb300,#ffb600,#ffba00,#ffbf00,#ffc500,#ffca00,#ffcd00,#ffcb00,#ffc300,#ffb800,#ffad00,#ffa200,#ff9700,#ff8c00,#ff8100,#ff7600,#ff6b00,#ff5f00,#f50,#ff4b00,#ff4300,#ff3f00,#ff4000,#ff4900,#ff6000,#ff8900,#ffc300,#fffb00,#daff25,#b7ff48,#9aff65,#7fff80,#68ff97,#59ffa6,#51ffae,#4affb5,#4fb,#41ffbe,#40ffbf)"></i>
<i style="background:linear-gradient(90deg,#ebff14,#f6ff09,#fffd00,#fff200,#ffe700,#ffdb00,#ffcf00,#ffc300,#ffb700,#ffa900,#f90,#ff8700,#ff7500,#ff6100,#ff4e00,#ff3b00,#ff2a00,#ff1c00,#ff1500,#ff1700,#ff2100,#ff3200,#ff4700,#ff5d00,#ff7300,#ff8600,#ff9600,#ffa200,#fa0,#ffae00,#ffb100,#ffb300,#ffb600,#ffba00,#ffbf00,#ffc400,#ffc900,#fc0,#ffca00,#ffc300,#ffb800,#ffad00,#ffa200,#ff9800,#ff8d00,#ff8200,#f70,#ff6b00,#ff6000,#f50,#ff4c00,#f40,#ff3f00,#ff4000,#ff4800,#ff5c00,#ff8000,#ffb700,#fff000,#e2ff1d,#beff41,#a0ff5f,#86ff79,#6eff91,#5effa1,#54ffab,#4dffb2,#46ffb9,#42ffbd,#41ffbe)"></i>
<i style="background:linear-gradient(90deg,#e9ff16,#f4ff0b,#ff0,#fff300,#ffe700,#ffdc00,#ffd000,#ffc400,#ffb700,#ffa800,#f90,#ff8700,#ff7500,#ff6200,#ff4e00,#ff3a00,#ff2800,#ff1a00,#ff1300,#ff1500,#ff2000,#ff3100,#ff4600,#ff5d00,#ff7300,#ff8700,#ff9700,#ffa200,#fa0,#ffae00,#ffb100,#ffb300,#ffb600,#ffba00,#ffbf00,#ffc400,#ffc800,#ffcb00,#ffc900,#ffc200,#ffb800,#ffae00,#ffa300,#f90,#ff8e00,#ff8300,#ff7800,#ff6c00,#ff6100,#ff5600,#ff4d00,#ff4500,#ff4000,#ff4000,#ff4700,#ff5800,#ff7800,#ffab00,#ffe300,#ebff14,#c5ff3a,#a6ff59,#8cff73,#74ff8b,#62ff9d,#57ffa8,#4fffb0,#49ffb6,#4fb,#42ffbd)"></i>
<i style="background:linear-gradient(90deg,#e8ff17,#f3ff0c,#feff01,#fff400,#ffe800,#ffdc00,#ffd000,#ffc400,#ffb700,#ffa800,#f90,#f80,#ff7500,#ff6200,#ff4e00,#ff3a00,#ff2700,#ff1900,#f10,#ff1300,#ff1e00,#ff3000,#ff4600,#ff5d00,#ff7300,#ff8700,#ff9700,#ffa300,#fa0,#ffaf00,#ffb100,#ffb400,#ffb700,#ffba00,#ffbf00,#ffc300,#ffc800,#ffca00,#ffc800,#ffc200,#ffb800,#ffae00,#ffa400,#f90,#ff8f00,#ff8400,#ff7800,#ff6d00,#ff6200,#ff5700,#ff4d00,#ff4500,#ff4100,#ff4000,#ff4600,#ff5600,#ff7100,#ff9f00,#ffd500,#f6ff09,#cdff32,#aeff51,#93ff6c,#7bff84,#67ff98,#5bffa4,#52ffad,#4bffb4,#46ffb9,#45ffba)"></i>
<i style="background:linear-gradient(90deg,#e6ff19,#f2ff0d,#fdff02,#fff500,#ffe900,#fd0,#ffd000,#ffc400,#ffb600,#ffa800,#f90,#f80,#ff7600,#ff6300,#ff4e00,#ff3900,#ff2600,#ff1700,#ff0f00,#f10,#ff1c00,#ff2f00,#ff4600,#ff5d00,#ff7400,#ff8700,#ff9700,#ffa300,#fa0,#ffaf00,#ffb200,#ffb400,#ffb700,#ffba00,#ffbf00,#ffc300,#ffc700,#ffc900,#ffc700,#ffc100,#ffb900,#ffaf00,#ffa500,#ff9a00,#ff9000,#ff8500,#ff7900,#ff6e00,#ff6300,#ff5800,#ff4e00,#ff4600,#ff4100,#ff4100,#ff4600,#ff5300,#ff6b00,#ff9400,#ffc700,#fffc00,#d6ff29,#b6ff49,#9bff64,#82ff7d,#6cff93,#5fffa0,#56ffa9,#4effb1,#49ffb6,#48ffb7)"></i>
<i style="background:linear-gradient(90deg,#e5ff1a,#f0ff0f,#fcff03,#fff600,#ffea00,#fd0,#ffd100,#ffc400,#ffb600,#ffa800,#f90,#f80,#f70,#ff6300,#ff4e00,#ff3900,#ff2500,#ff1600,#ff0e00,#ff0f00,#ff1b00,#ff2e00,#ff4600,#ff5e00,#ff7400,#f80,#ff9800,#ffa300,#ffab00,#ffaf00,#ffb200,#ffb400,#ffb700,#fb0,#ffbf00,#ffc300,#ffc700,#ffc900,#ffc700,#ffc100,#ffb900,#ffb000,#ffa600,#ff9c00,#ff9100,#ff8600,#ff7a00,#ff6f00,#ff6400,#ff5900,#ff4f00,#ff4700,#ff4200,#ff4100,#ff4600,#ff5200,#ff6700,#ff8a00,#ffb900,#fe0,#e1ff1e,#c0ff3f,#a4ff5b,#8aff75,#72ff8d,#65ff9a,#5affa5,#52ffad,#4dffb2,#4cffb3)"></i>
<i style="background:linear-gradient(90deg,#e4ff1b,#efff10,#fbff04,#fff700,#ffea00,#ffde00,#ffd100,#ffc400,#ffb600,#ffa800,#f90,#ff8900,#f70,#ff6400,#ff4f00,#ff3900,#ff2400,#ff1400,#ff0c00,#ff0d00,#ff1900,#ff2d00,#ff4600,#ff5e00,#ff7400,#f80,#ff9800,#ffa400,#ffab00,#ffaf00,#ffb200,#ffb400,#ffb700,#fb0,#ffbf00,#ffc300,#ffc700,#ffc800,#ffc700,#ffc200,#ffba00,#ffb100,#ffa700,#ff9d00,#ff9200,#ff8700,#ff7b00,#ff7000,#ff6500,#ff5a00,#ff5100,#ff4800,#ff4300,#ff4200,#ff4600,#ff5100,#ff6400,#ff8200,#ffab00,#ffe000,#ecff13,#caff35,#adff52,#92ff6d,#79ff86,#6bff94,#5fffa0,#57ffa8,#51ffae,#50ffaf)"></i>
<i style="background:linear-gradient(90deg,#e2ff1d,#ef1,#faff05,#fff800,#ffeb00,#ffde00,#ffd100,#ffc400,#ffb600,#ffa800,#f90,#ff8900,#ff7800,#ff6500,#ff4f00,#ff3900,#ff2400,#ff1300,#ff0a00,#ff0b00,#ff1700,#ff2c00,#ff4600,#ff5f00,#ff7500,#f80,#ff9800,#ffa400,#ffab00,#ffb000,#ffb200,#ffb500,#ffb800,#fb0,#ffbf00,#ffc300,#ffc700,#ffc800,#ffc700,#ffc200,#fb0,#ffb200,#ffa800,#ff9e00,#ff9300,#f80,#ff7c00,#ff7100,#f60,#ff5c00,#ff5200,#ff4a00,#ff4500,#ff4300,#ff4700,#ff5100,#ff6200,#ff7c00,#ff9e00,#ffd100,#faff05,#d6ff29,#b8ff47,#9bff64,#81ff7e,#73ff8c,#6f9,#5cffa3,#57ffa8,#5fa)"></i>
<i style="background:linear-gradient(90deg,#e1ff1e,#ecff13,#f9ff06,#fff900,#ffec00,#ffdf00,#ffd200,#ffc400,#ffb600,#ffa800,#f90,#ff8a00,#ff7900,#f60,#ff5000,#ff3900,#ff2300,#ff1200,#ff0900,#ff0900,#ff1500,#ff2b00,#ff4600,#ff5f00,#ff7500,#ff8900,#f90,#ffa500,#ffac00,#ffb000,#ffb300,#ffb500,#ffb800,#fb0,#ffbf00,#ffc300,#ffc700,#ffc800,#ffc700,#ffc200,#fb0,#ffb300,#ffa900,#ff9f00,#ff9400,#ff8900,#ff7d00,#ff7200,#ff6700,#ff5d00,#ff5300,#ff4b00,#ff4600,#ff4500,#ff4800,#ff5100,#ff6100,#f70,#ff9200,#ffc100,#fff600,#e2ff1d,#c3ff3c,#a5ff5a,#8bff74,#7bff84,#6dff92,#63ff9c,#5effa1,#5bffa4)"></i>
<i style="background:linear-gradient(90deg,#dfff20,#ebff14,#f7ff08,#fffa00,#ffed00,#ffdf00,#ffd200,#ffc400,#ffb600,#ffa800,#f90,#ff8a00,#ff7a00,#ff6700,#ff5100,#ff3900,#ff2300,#f10,#ff0700,#ff0700,#ff1400,#ff2b00,#ff4600,#ff5f00,#ff7600,#ff8900,#f90,#ffa500,#ffac00,#ffb000,#ffb300,#ffb500,#ffb800,#ffbc00,#ffc000,#ffc400,#ffc700,#ffc800,#ffc700,#ffc300,#ffbc00,#ffb400,#ffab00,#ffa000,#ff9600,#ff8a00,#ff7e00,#ff7300,#ff6800,#ff5e00,#ff5400,#ff4c00,#ff4700,#ff4600,#ff4900,#ff5200,#ff6100,#ff7400,#ff8700,#ffb200,#ffe600,#f0ff0f,#cfff30,#b1ff4e,#96ff69,#85ff7a,#76ff89,#6bff94,#65ff9a,#61ff9e)"></i>
<i style="background:linear-gradient(90deg,#deff21,#eaff15,#f6ff09,#fffb00,#ffed00,#ffe000,#ffd200,#ffc400,#ffb600,#ffa800,#f90,#ff8b00,#ff7b00,#ff6800,#ff5200,#ff3900,#ff2300,#ff1000,#ff0500,#ff0500,#ff1200,#ff2a00,#ff4600,#ff6000,#ff7600,#ff8a00,#ff9a00,#ffa500,#ffad00,#ffb100,#ffb300,#ffb600,#ffb900,#ffbc00,#ffc000,#ffc400,#ffc700,#ffc900,#ffc800,#ffc400,#ffbe00,#ffb500,#ffac00,#ffa200,#ff9700,#ff8b00,#ff8000,#ff7400,#ff6900,#ff5f00,#f50,#ff4d00,#ff4900,#ff4700,#ff4a00,#ff5300,#ff6200,#ff7300,#ff8000,#ffa400,#ffd600,#ff0,#dcff23,#bdff42,#a2ff5d,#91ff6e,#81ff7e,#75ff8a,#6eff91,#69ff96)"></i>
<i style="background:linear-gradient(90deg,#dcff23,#e8ff17,#f5ff0a,#fffc00,#fe0,#ffe000,#ffd200,#ffc400,#ffb600,#ffa800,#ff9a00,#ff8b00,#ff7c00,#ff6900,#ff5300,#ff3a00,#f20,#ff0f00,#ff0400,#ff0300,#ff1000,#ff2900,#ff4600,#ff6000,#ff7600,#ff8a00,#ff9a00,#ffa600,#ffad00,#ffb100,#ffb400,#ffb600,#ffb900,#ffbd00,#ffc100,#ffc500,#ffc800,#ffca00,#ffc900,#ffc500,#ffbf00,#ffb700,#ffae00,#ffa300,#ff9800,#ff8d00,#ff8100,#ff7500,#ff6a00,#ff6000,#ff5600,#ff4e00,#ff4a00,#ff4900,#ff4c00,#ff5400,#ff6300,#ff7400,#ff7c00,#ff9700,#ffc600,#fff000,#e9ff16,#cbff34,#afff50,#9dff62,#8eff71,#80ff7f,#78ff87,#71ff8e)"></i>
<i style="background:linear-gradient(90deg,#dbff24,#e7ff18,#f4ff0b,#fffd00,#ffef00,#ffe100,#ffd300,#ffc500,#ffb600,#ffa800,#ff9a00,#ff8c00,#ff7c00,#ff6a00,#ff5300,#ff3a00,#f20,#ff0f00,#ff0200,#ff0100,#ff0e00,#ff2700,#ff4600,#ff6000,#ff7600,#ff8a00,#ff9a00,#ffa600,#ffad00,#ffb100,#ffb400,#ffb600,#ffba00,#ffbd00,#ffc100,#ffc500,#ffc900,#ffca00,#ffca00,#ffc600,#ffc000,#ffb800,#ffaf00,#ffa500,#ff9a00,#ff8e00,#ff8200,#ff7600,#ff6b00,#ff6100,#ff5700,#ff5000,#ff4b00,#ff4b00,#ff4e00,#ff5600,#ff6400,#ff7500,#ff7a00,#ff8c00,#ffb600,#ffe100,#f7ff08,#d9ff26,#bcff43,#a9ff56,#9dff62,#8dff72,#83ff7c,#7bff84)"></i>
<i style="background:linear-gradient(90deg,#daff25,#e6ff19,#f3ff0c,#fffe00,#fff000,#ffe100,#ffd300,#ffc500,#ffb600,#ffa800,#ff9a00,#ff8c00,#ff7d00,#ff6b00,#ff5400,#ff3a00,#f20,#ff0e00,#ff0100,#fe0000,#ff0c00,#ff2600,#ff4500,#ff6000,#ff7600,#ff8a00,#ff9b00,#ffa600,#ffad00,#ffb200,#ffb400,#ffb700,#ffba00,#ffbe00,#ffc200,#ffc600,#ffca00,#ffcb00,#ffcb00,#ffc800,#ffc200,#ffba00,#ffb100,#ffa600,#ff9b00,#ff8f00,#ff8200,#f70,#ff6c00,#ff6200,#ff5800,#ff5100,#ff4d00,#ff4c00,#ff4f00,#ff5700,#ff6500,#ff7600,#ff7800,#ff8300,#ffa700,#ffd100,#fff900,#e8ff17,#caff35,#b7ff48,#abff54,#9aff65,#8dff72,#87ff78)"></i>
<i style="background:linear-gradient(90deg,#d8ff27,#e4ff1b,#f2ff0d,#ff0,#fff000,#ffe200,#ffd400,#ffc500,#ffb600,#ffa800,#ff9a00,#ff8d00,#ff7d00,#ff6c00,#f50,#ff3b00,#f20,#ff0e00,#f00,#fc0000,#ff0a00,#ff2500,#f40,#ff5f00,#ff7600,#ff8a00,#ff9b00,#ffa600,#ffae00,#ffb200,#ffb500,#ffb700,#fb0,#ffbf00,#ffc300,#ffc700,#ffcb00,#ffcd00,#fc0,#ffc900,#ffc400,#ffbc00,#ffb300,#ffa800,#ff9c00,#ff9000,#ff8300,#ff7800,#ff6d00,#ff6200,#ff5900,#ff5200,#ff4e00,#ff4e00,#ff5100,#ff5800,#f60,#ff7600,#ff7600,#ff7b00,#ff9a00,#ffc200,#ffe900,#f7ff08,#d9ff26,#c4ff3b,#b8ff47,#a6ff59,#98ff67,#93ff6c)"></i>
<i style="background:linear-gradient(90deg,#d7ff28,#e3ff1c,#f0ff0f,#feff01,#fff100,#ffe300,#ffd400,#ffc500,#ffb700,#ffa800,#ff9b00,#ff8d00,#ff7e00,#ff6c00,#f50,#ff3b00,#f20,#ff0d00,#fe0000,#fa0000,#ff0800,#ff2400,#ff4300,#ff5e00,#ff7600,#ff8a00,#ff9b00,#ffa600,#ffae00,#ffb200,#ffb500,#ffb800,#fb0,#ffbf00,#ffc400,#ffc800,#fc0,#ffce00,#ffce00,#ffcb00,#ffc500,#ffbe00,#ffb400,#fa0,#ff9e00,#ff9100,#ff8400,#ff7800,#ff6d00,#ff6300,#ff5a00,#ff5300,#ff4f00,#ff4f00,#ff5200,#ff5a00,#f60,#ff7400,#ff7300,#ff7500,#ff8d00,#ffb200,#ffd800,#fff700,#e8ff17,#d3ff2c,#c4ff3b,#b2ff4d,#a4ff5b,#9eff61)"></i>
<i style="background:linear-gradient(90deg,#d5ff2a,#e2ff1d,#efff10,#fdff02,#fff200,#ffe300,#ffd500,#ffc600,#ffb700,#ffa900,#ff9b00,#ff8d00,#ff7e00,#ff6c00,#f50,#ff3b00,#ff2300,#ff0d00,#fe0000,#f90000,#ff0700,#f20,#ff4200,#ff5e00,#ff7500,#ff8a00,#ff9a00,#ffa600,#ffae00,#ffb200,#ffb500,#ffb800,#ffbc00,#ffc000,#ffc500,#ffc900,#ffcd00,#ffd000,#ffd000,#ffcd00,#ffc800,#ffc000,#ffb600,#ffab00,#ff9f00,#ff9200,#ff8500,#ff7900,#ff6e00,#ff6300,#ff5a00,#ff5300,#ff5000,#ff5000,#ff5300,#ff5a00,#f60,#ff7100,#ff7000,#ff6f00,#ff8200,#ffa400,#ffc700,#ffe600,#f8ff07,#e1ff1e,#d0ff2f,#beff41,#afff50,#a9ff56)"></i>
<i style="background:linear-gradient(90deg,#d4ff2b,#e0ff1f,#ef1,#fcff03,#fff300,#ffe400,#ffd500,#ffc600,#ffb700,#ffa900,#ff9c00,#ff8e00,#ff7e00,#ff6c00,#f50,#ff3c00,#ff2300,#ff0e00,#fe0000,#f80000,#ff0600,#ff2100,#ff4100,#ff5d00,#ff7500,#ff8900,#ff9a00,#ffa600,#ffae00,#ffb300,#ffb600,#ffb900,#ffbd00,#ffc100,#ffc600,#ffcb00,#ffcf00,#ffd100,#ffd100,#ffcf00,#ffca00,#ffc200,#ffb800,#ffad00,#ffa100,#ff9300,#ff8600,#ff7900,#ff6e00,#ff6400,#ff5b00,#ff5400,#ff5100,#ff5100,#ff5400,#ff5b00,#f60,#ff6f00,#ff6c00,#ff6a00,#ff7800,#ff9600,#ffb700,#ffd600,#fff600,#f0ff0f,#df2,#caff35,#bf4,#b3ff4c)"></i>
<i style="background:linear-gradient(90deg,#d2ff2d,#dfff20,#edff12,#fbff04,#fff400,#ffe500,#ffd600,#ffc700,#ffb800,#fa0,#ff9c00,#ff8e00,#ff7f00,#ff6c00,#ff5600,#ff3c00,#ff2300,#ff0e00,#fe0000,#f80000,#ff0600,#ff2100,#ff4000,#ff5c00,#ff7400,#ff8900,#ff9a00,#ffa600,#ffae00,#ffb300,#ffb600,#ffb900,#ffbd00,#ffc200,#ffc700,#fc0,#ffd000,#ffd300,#ffd400,#ffd100,#fc0,#ffc400,#fb0,#ffaf00,#ffa200,#ff9500,#ff8700,#ff7a00,#ff6e00,#ff6400,#ff5b00,#f50,#ff5200,#ff5200,#f50,#ff5c00,#ff6500,#ff6c00,#ff6900,#f60,#ff7000,#ff8a00,#ffa800,#ffc500,#ffe400,#fffd00,#eaff15,#d7ff28,#c8ff37,#bfff40)"></i>
<i style="background:linear-gradient(90deg,#d1ff2e,#deff21,#ecff13,#faff05,#fff500,#ffe600,#ffd700,#ffc700,#ffb800,#fa0,#ff9c00,#ff8e00,#ff7f00,#ff6c00,#ff5600,#ff3d00,#ff2400,#ff0f00,#f00,#f90000,#ff0600,#ff2000,#ff3f00,#ff5b00,#ff7400,#ff8900,#ff9a00,#ffa600,#ffae00,#ffb300,#ffb700,#ffba00,#ffbe00,#ffc300,#ffc800,#ffce00,#ffd200,#ffd500,#ffd600,#ffd400,#ffcf00,#ffc700,#ffbd00,#ffb100,#ffa400,#ff9600,#f80,#ff7b00,#ff6f00,#ff6400,#ff5c00,#ff5600,#ff5300,#ff5300,#ff5600,#ff5c00,#ff6400,#ff6900,#f60,#ff6200,#ff6a00,#ff7f00,#f90,#ffb400,#ffd200,#ffec00,#f9ff06,#e5ff1a,#d6ff29,#cbff34)"></i>
<i style="background:linear-gradient(90deg,#cfff30,#dcff23,#eaff15,#f9ff06,#fff600,#ffe700,#ffd700,#ffc800,#ffb900,#fa0,#ff9d00,#ff8f00,#ff7f00,#ff6d00,#ff5600,#ff3d00,#ff2500,#ff1000,#ff0100,#fb0000,#ff0700,#ff2000,#ff3e00,#ff5a00,#ff7300,#f80,#ff9a00,#ffa600,#ffae00,#ffb300,#ffb700,#fb0,#ffbf00,#ffc400,#ffca00,#ffcf00,#ffd400,#ffd700,#ffd800,#ffd600,#ffd100,#ffca00,#ffbf00,#ffb300,#ffa500,#ff9700,#ff8900,#ff7b00,#ff6f00,#ff6500,#ff5c00,#ff5700,#ff5400,#ff5400,#ff5700,#ff5c00,#ff6300,#ff6700,#ff6300,#ff5f00,#ff6500,#ff7600,#ff8c00,#ffa400,#ffc000,#ffda00,#fff400,#f6ff09,#e5ff1a,#d9ff26)"></i>
<i style="background:linear-gradient(90deg,#ceff31,#dbff24,#e9ff16,#f8ff07,#fff700,#ffe800,#ffd800,#ffc900,#ffb900,#ffab00,#ff9d00,#ff8f00,#ff7f00,#ff6d00,#ff5700,#ff3e00,#ff2600,#f10,#ff0200,#fd0000,#ff0900,#ff2100,#ff3e00,#ff5a00,#ff7300,#f80,#f90,#ffa600,#ffae00,#ffb400,#ffb700,#fb0,#ffc000,#ffc500,#ffcb00,#ffd100,#ffd600,#ffda00,#ffdb00,#ffd900,#ffd400,#fc0,#ffc200,#ffb500,#ffa700,#ff9800,#ff8a00,#ff7c00,#ff6f00,#ff6500,#ff5d00,#ff5700,#f50,#f50,#ff5800,#ff5d00,#ff6200,#ff6500,#ff6100,#ff5d00,#ff6100,#ff6f00,#ff8000,#ff9600,#ffaf00,#ffc800,#ffe100,#fff600,#f6ff09,#e8ff17)"></i>
<i style="background:linear-gradient(90deg,#cf3,#d9ff26,#e8ff17,#f7ff08,#fff800,#ffe800,#ffd900,#ffc900,#ffba00,#ffab00,#ff9d00,#ff8f00,#ff8000,#ff6d00,#ff5700,#ff3f00,#ff2700,#ff1200,#ff0400,#f00,#ff0b00,#f20,#ff3e00,#ff5900,#ff7200,#f80,#f90,#ffa600,#ffaf00,#ffb400,#ffb800,#ffbc00,#ffc100,#ffc700,#ffcd00,#ffd300,#ffd900,#ffdc00,#ffde00,#ffdc00,#ffd700,#ffcf00,#ffc400,#ffb700,#ffa900,#ff9a00,#ff8a00,#ff7c00,#ff7000,#ff6500,#ff5d00,#ff5800,#ff5600,#ff5600,#ff5800,#ff5d00,#ff6200,#ff6300,#ff5f00,#ff5b00,#ff5e00,#ff6900,#f70,#f80,#ff9f00,#ffb600,#ffcd00,#ffe200,#fff400,#f9ff06)"></i>
<i style="background:linear-gradient(90deg,#cbff34,#d8ff27,#e6ff19,#f5ff0a,#fff900,#ffe900,#ffda00,#ffca00,#ffba00,#ffac00,#ff9e00,#ff9000,#ff8000,#ff6e00,#ff5800,#ff4000,#ff2800,#ff1400,#ff0600,#ff0300,#ff0d00,#ff2300,#ff3e00,#ff5900,#ff7200,#f80,#f90,#ffa600,#ffaf00,#ffb400,#ffb800,#ffbd00,#ffc200,#ffc800,#ffcf00,#ffd500,#ffdb00,#ffdf00,#ffe100,#ffe000,#ffdb00,#ffd200,#ffc700,#ffba00,#ffab00,#ff9b00,#ff8b00,#ff7d00,#ff7000,#f60,#ff5e00,#ff5900,#ff5600,#ff5700,#ff5900,#ff5d00,#ff6100,#ff6200,#ff5e00,#ff5a00,#ff5c00,#ff6400,#ff6f00,#ff7d00,#ff9100,#ffa400,#ffba00,#ffcd00,#ffdf00,#fff100)"></i>
<i style="background:linear-gradient(90deg,#c9ff36,#d7ff28,#e5ff1a,#f4ff0b,#fffa00,#ffea00,#ffda00,#ffca00,#fb0,#ffac00,#ff9e00,#ff9000,#ff8100,#ff6e00,#ff5900,#ff4100,#ff2a00,#ff1600,#ff0800,#ff0500,#ff0f00,#ff2400,#ff3e00,#ff5900,#ff7200,#f80,#f90,#ffa600,#ffaf00,#ffb500,#ffb900,#ffbd00,#ffc300,#ffc900,#ffd000,#ffd700,#ffde00,#ffe200,#ffe400,#ffe300,#ffde00,#ffd500,#ffca00,#ffbc00,#ffad00,#ff9d00,#ff8d00,#ff7e00,#ff7100,#f60,#ff5e00,#ff5a00,#ff5700,#ff5800,#ff5a00,#ff5e00,#ff6100,#ff6100,#ff5e00,#ff5a00,#ff5a00,#ff6100,#ff6900,#ff7500,#ff8400,#ff9400,#ffa700,#ffb900,#ffc900,#ffda00)"></i>
<i style="background:linear-gradient(90deg,#c7ff38,#d5ff2a,#e4ff1b,#f3ff0c,#fffb00,#ffeb00,#ffdb00,#ffcb00,#fb0,#ffad00,#ff9e00,#ff9000,#ff8100,#ff6f00,#ff5a00,#ff4200,#ff2b00,#ff1800,#ff0b00,#ff0800,#f10,#ff2500,#ff3f00,#ff5900,#ff7200,#f80,#ff9a00,#ffa700,#ffaf00,#ffb500,#ffb900,#ffbe00,#ffc400,#ffcb00,#ffd200,#ffda00,#ffe000,#ffe500,#ffe700,#ffe600,#ffe200,#ffd900,#ffcd00,#ffbe00,#ffaf00,#ff9e00,#ff8e00,#ff7e00,#ff7100,#ff6700,#ff5f00,#ff5a00,#ff5900,#ff5900,#ff5b00,#ff5e00,#ff6100,#ff6100,#ff5d00,#ff5a00,#ff5a00,#ff5f00,#ff6500,#ff6e00,#ff7a00,#ff8700,#ff9600,#ffa500,#ffb300,#ffc300)"></i>
<i style="background:linear-gradient(90deg,#c6ff39,#d4ff2b,#e2ff1d,#f2ff0d,#fffc00,#ffec00,#ffdc00,#fc0,#ffbc00,#ffad00,#ff9f00,#ff9100,#ff8200,#ff7000,#ff5b00,#ff4300,#ff2d00,#ff1a00,#ff0d00,#ff0b00,#ff1400,#ff2700,#ff3f00,#ff5900,#ff7200,#f80,#ff9a00,#ffa700,#ffb000,#ffb500,#ffba00,#ffbf00,#ffc500,#fc0,#ffd400,#ffdc00,#ffe300,#ffe800,#ffeb00,#ffea00,#ffe500,#ffdc00,#ffd000,#ffc100,#ffb100,#ffa000,#ff8f00,#ff7f00,#ff7200,#ff6700,#ff6000,#ff5b00,#ff5a00,#ff5a00,#ff5c00,#ff5f00,#ff6100,#ff6100,#ff5e00,#ff5a00,#ff5a00,#ff5e00,#ff6300,#ff6a00,#ff7200,#ff7c00,#f80,#ff9400,#ff9f00,#ffad00)"></i>
<i style="background:linear-gradient(90deg,#c4ff3b,#d2ff2d,#e1ff1e,#f1ff0e,#fffd00,#ffed00,#fd0,#ffcd00,#ffbc00,#ffad00,#ff9f00,#ff9100,#ff8200,#ff7100,#ff5c00,#ff4500,#ff2e00,#ff1c00,#ff1000,#ff0e00,#ff1700,#ff2900,#ff4000,#ff5a00,#ff7200,#f80,#ff9a00,#ffa700,#ffb000,#ffb600,#ffba00,#ffc000,#ffc600,#ffce00,#ffd600,#ffdf00,#ffe600,#ffec00,#ffef00,#fe0,#ffe900,#ffe000,#ffd300,#ffc400,#ffb300,#ffa200,#ff9000,#ff8000,#ff7300,#ff6800,#ff6100,#ff5d00,#ff5b00,#ff5b00,#ff5d00,#ff6000,#ff6200,#ff6100,#ff5f00,#ff5b00,#ff5b00,#ff5e00,#ff6200,#ff6700,#ff6d00,#ff7500,#ff7e00,#ff8600,#ff8e00,#f90)"></i>
<i style="background:linear-gradient(90deg,#c3ff3c,#d1ff2e,#e0ff1f,#efff10,#ff0,#fe0,#ffde00,#ffcd00,#ffbd00,#ffae00,#ff9f00,#ff9200,#ff8300,#ff7100,#ff5d00,#ff4600,#ff3000,#ff1e00,#ff1300,#f10,#ff1900,#ff2b00,#ff4100,#ff5a00,#ff7200,#f80,#ff9b00,#ffa800,#ffb100,#ffb600,#fb0,#ffc000,#ffc700,#ffd000,#ffd900,#ffe100,#ffe900,#ffef00,#fff300,#fff200,#ffed00,#ffe400,#ffd600,#ffc700,#ffb500,#ffa400,#ff9200,#ff8200,#ff7300,#ff6900,#ff6200,#ff5e00,#ff5c00,#ff5d00,#ff5f00,#ff6100,#ff6300,#ff6200,#ff6000,#ff5d00,#ff5d00,#ff5f00,#ff6300,#f60,#ff6a00,#ff7000,#f70,#ff7d00,#ff8200,#ff8a00)"></i>
<i style="background:linear-gradient(90deg,#c1ff3e,#cfff30,#deff21,#ef1,#feff01,#ffef00,#ffdf00,#ffce00,#ffbe00,#ffae00,#ffa000,#ff9200,#ff8300,#ff7200,#ff5e00,#ff4800,#ff3200,#ff2000,#ff1500,#ff1400,#ff1c00,#ff2d00,#ff4300,#ff5b00,#ff7300,#ff8900,#ff9b00,#ffa800,#ffb100,#ffb700,#ffbc00,#ffc100,#ffc900,#ffd200,#ffdb00,#ffe400,#ffed00,#fff300,#fff700,#fff600,#fff100,#ffe700,#ffda00,#ffca00,#ffb800,#ffa600,#ff9400,#ff8300,#ff7400,#ff6a00,#ff6300,#ff5f00,#ff5e00,#ff5e00,#ff6000,#ff6200,#ff6400,#ff6300,#ff6100,#ff5f00,#ff5f00,#ff6100,#ff6400,#f60,#ff6900,#ff6e00,#ff7500,#ff7900,#ff7c00,#ff8100)"></i>
<i style="background:linear-gradient(90deg,#bfff40,#cdff32,#df2,#edff12,#fdff02,#fff000,#ffe000,#ffcf00,#ffbe00,#ffae00,#ffa000,#ff9200,#ff8400,#ff7300,#ff5f00,#ff4900,#ff3400,#ff2300,#ff1800,#ff1700,#ff1f00,#ff2f00,#f40,#ff5b00,#ff7300,#ff8900,#ff9b00,#ffa900,#ffb200,#ffb800,#ffbc00,#ffc200,#ffca00,#ffd400,#ffde00,#ffe700,#fff000,#fff700,#fffb00,#fffb00,#fff600,#ffeb00,#fd0,#ffcd00,#fb0,#ffa800,#ff9600,#ff8400,#ff7600,#ff6b00,#ff6500,#ff6100,#ff6000,#ff6000,#ff6200,#ff6400,#ff6500,#ff6500,#ff6300,#ff6100,#ff6100,#ff6400,#f60,#ff6700,#ff6900,#ff6e00,#ff7500,#ff7800,#ff7a00,#ff8100)"></i>
<i style="background:linear-gradient(90deg,#beff41,#cf3,#dbff24,#ebff14,#fcff03,#fff200,#ffe100,#ffd000,#ffbf00,#ffaf00,#ffa000,#ff9300,#ff8500,#ff7400,#ff6100,#ff4b00,#ff3600,#ff2500,#ff1b00,#ff1a00,#ff2100,#ff3100,#ff4500,#ff5c00,#ff7400,#ff8900,#ff9c00,#fa0,#ffb200,#ffb800,#ffbd00,#ffc300,#fc0,#ffd600,#ffe100,#ffeb00,#fff400,#fffb00,#ff0,#ff0,#fffa00,#fff000,#ffe100,#ffd000,#ffbd00,#fa0,#ff9800,#ff8600,#f70,#ff6c00,#f60,#ff6300,#ff6200,#ff6200,#ff6300,#ff6500,#ff6700,#ff6700,#ff6500,#ff6400,#ff6400,#ff6700,#ff6a00,#ff6a00,#ff6b00,#ff7000,#ff7800,#ff7b00,#ff7d00,#ff8700)"></i>
<i style="background:linear-gradient(90deg,#bcff43,#caff35,#daff25,#eaff15,#fbff04,#fff300,#ffe200,#ffd100,#ffbf00,#ffaf00,#ffa100,#ff9300,#ff8500,#ff7500,#ff6200,#ff4c00,#ff3800,#ff2700,#ff1e00,#ff1d00,#ff2400,#f30,#ff4700,#ff5d00,#ff7400,#ff8a00,#ff9d00,#fa0,#ffb300,#ffb900,#ffbe00,#ffc500,#ffce00,#ffd900,#ffe400,#fe0,#fff800,#ff0,#faff05,#faff05,#ff0,#fff400,#ffe500,#ffd300,#ffc000,#ffad00,#ff9a00,#f80,#ff7900,#ff6e00,#ff6800,#ff6500,#ff6400,#ff6400,#f60,#ff6700,#ff6900,#ff6900,#ff6800,#ff6700,#ff6800,#ff6b00,#ff6d00,#ff6d00,#ff6e00,#ff7300,#ff7c00,#ff7f00,#ff8300,#ff9000)"></i>
<i style="background:linear-gradient(90deg,#baff45,#c9ff36,#d9ff26,#e9ff16,#faff05,#fff400,#ffe300,#ffd200,#ffc000,#ffaf00,#ffa100,#ff9300,#ff8500,#ff7600,#ff6300,#ff4e00,#ff3a00,#ff2a00,#ff2000,#ff2000,#ff2700,#ff3500,#ff4800,#ff5e00,#ff7500,#ff8a00,#ff9d00,#ffab00,#ffb400,#ffba00,#ffbf00,#ffc600,#ffd000,#ffdb00,#ffe700,#fff200,#fffc00,#faff05,#f6ff09,#f5ff0a,#fbff04,#fff800,#ffe900,#ffd700,#ffc300,#ffaf00,#ff9c00,#ff8a00,#ff7b00,#ff7000,#ff6b00,#ff6800,#f60,#ff6700,#ff6800,#ff6a00,#ff6b00,#ff6b00,#ff6a00,#ff6a00,#ff6b00,#ff6f00,#ff7100,#ff7000,#ff7100,#f70,#ff8200,#ff8500,#ff8a00,#ff9a00)"></i>
<i style="background:linear-gradient(90deg,#b9ff46,#c7ff38,#d7ff28,#e8ff17,#f8ff07,#fff500,#ffe400,#ffd300,#ffc100,#ffb000,#ffa100,#ff9300,#ff8600,#f70,#ff6400,#ff4f00,#ff3c00,#ff2c00,#ff2300,#ff2300,#ff2a00,#ff3700,#ff4a00,#ff5f00,#ff7500,#ff8b00,#ff9e00,#ffab00,#ffb400,#fb0,#ffc100,#ffc800,#ffd200,#ffde00,#ffea00,#fff500,#feff01,#f6ff09,#f1ff0e,#f0ff0f,#f6ff09,#fffc00,#ffed00,#ffda00,#ffc600,#ffb200,#ff9f00,#ff8d00,#ff7e00,#ff7300,#ff6d00,#ff6a00,#ff6900,#ff6900,#ff6a00,#ff6c00,#ff6d00,#ff6e00,#ff6d00,#ff6d00,#ff6e00,#ff7200,#ff7600,#ff7400,#ff7500,#ff7c00,#ff8700,#ff8b00,#ff9200,#ffa300)"></i>
<i style="background:linear-gradient(90deg,#b7ff48,#c6ff39,#d6ff29,#e6ff19,#f7ff08,#fff600,#ffe500,#ffd400,#ffc200,#ffb000,#ffa100,#ff9300,#ff8600,#f70,#ff6500,#ff5100,#ff3e00,#ff2f00,#ff2600,#ff2600,#ff2d00,#ff3a00,#ff4c00,#ff6000,#ff7600,#ff8b00,#ff9e00,#ffac00,#ffb500,#ffbc00,#ffc200,#ffca00,#ffd500,#ffe100,#fe0,#fff900,#faff05,#f1ff0e,#ecff13,#ecff13,#f1ff0e,#fdff02,#fff100,#ffde00,#ffca00,#ffb500,#ffa200,#ff9000,#ff8000,#ff7600,#ff7000,#ff6d00,#ff6c00,#ff6c00,#ff6d00,#ff6f00,#ff7000,#ff7000,#ff7000,#ff7000,#ff7200,#ff7600,#ff7900,#f70,#ff7900,#ff8000,#ff8c00,#ff9100,#f90,#fa0)"></i>
<i style="background:linear-gradient(90deg,#b5ff4a,#c4ff3b,#d4ff2b,#e5ff1a,#f6ff09,#fff700,#ffe600,#ffd500,#ffc300,#ffb100,#ffa200,#ff9400,#ff8600,#f70,#f60,#ff5200,#ff4000,#ff3200,#ff2900,#ff2900,#ff2f00,#ff3c00,#ff4d00,#ff6100,#f70,#ff8b00,#ff9e00,#ffac00,#ffb500,#ffbd00,#ffc300,#fc0,#ffd700,#ffe400,#fff100,#fffe00,#f5ff0a,#ecff13,#e7ff18,#e7ff18,#ecff13,#f9ff06,#fff500,#ffe100,#ffcd00,#ffb800,#ffa500,#ff9300,#ff8400,#ff7900,#ff7400,#ff7100,#ff6f00,#ff6f00,#ff7000,#ff7100,#ff7200,#ff7300,#ff7300,#ff7300,#ff7500,#ff7900,#ff7c00,#ff7b00,#ff7c00,#ff8400,#ff9000,#ff9600,#ff9e00,#ffad00)"></i>
<i style="background:linear-gradient(90deg,#b4ff4b,#c3ff3c,#d3ff2c,#e4ff1b,#f5ff0a,#fff800,#ffe800,#ffd600,#ffc400,#ffb200,#ffa200,#ff9300,#ff8600,#f70,#f60,#ff5300,#ff4200,#ff3400,#ff2c00,#ff2c00,#ff3200,#ff3e00,#ff4f00,#ff6200,#f70,#ff8c00,#ff9e00,#ffac00,#ffb600,#ffbe00,#ffc500,#ffce00,#ffda00,#ffe800,#fff500,#fcff03,#f0ff0f,#e7ff18,#e2ff1d,#e1ff1e,#e7ff18,#f4ff0b,#fff900,#ffe500,#ffd000,#ffbc00,#ffa800,#ff9600,#ff8700,#ff7d00,#f70,#ff7400,#ff7300,#ff7300,#ff7400,#ff7500,#ff7500,#ff7600,#ff7600,#ff7600,#ff7900,#ff7c00,#ff7f00,#ff7f00,#ff8000,#f80,#ff9300,#ff9a00,#ffa200,#ffae00)"></i>
<i style="background:linear-gradient(90deg,#b2ff4d,#c1ff3e,#d2ff2d,#e3ff1c,#f4ff0b,#fffa00,#ffe900,#ffd700,#ffc500,#ffb200,#ffa200,#ff9300,#ff8600,#f70,#f60,#f50,#f40,#ff3700,#ff3000,#ff2f00,#ff3500,#ff4100,#ff5100,#ff6300,#ff7800,#ff8c00,#ff9e00,#ffac00,#ffb700,#ffbf00,#ffc700,#ffd100,#fd0,#ffeb00,#fffa00,#f7ff08,#ebff14,#e2ff1d,#dcff23,#dcff23,#e2ff1d,#efff10,#fffd00,#ffe900,#ffd400,#ffbf00,#ffab00,#ff9a00,#ff8b00,#ff8100,#ff7b00,#ff7800,#f70,#f70,#f70,#ff7800,#ff7900,#ff7900,#ff7900,#ff7a00,#ff7c00,#ff8000,#ff8200,#ff8200,#ff8400,#ff8b00,#ff9500,#ff9c00,#ffa500,#ffae00)"></i>
<i style="background:linear-gradient(90deg,#b0ff4f,#c0ff3f,#d0ff2f,#e2ff1d,#f3ff0c,#fffb00,#ffea00,#ffd900,#ffc600,#ffb300,#ffa200,#ff9300,#ff8500,#f70,#ff6700,#ff5600,#ff4600,#ff3a00,#f30,#ff3200,#ff3800,#ff4300,#ff5200,#ff6500,#ff7800,#ff8c00,#ff9e00,#ffac00,#ffb700,#ffc000,#ffc900,#ffd300,#ffe000,#ffef00,#fffe00,#f2ff0d,#e6ff19,#dcff23,#d7ff28,#d7ff28,#df2,#eaff15,#fcff03,#ffed00,#ffd800,#ffc300,#ffaf00,#ff9e00,#ff8f00,#ff8500,#ff8000,#ff7d00,#ff7b00,#ff7b00,#ff7b00,#ff7b00,#ff7c00,#ff7c00,#ff7c00,#ff7d00,#ff7f00,#ff8300,#ff8500,#ff8500,#ff8700,#ff8e00,#ff9700,#ff9e00,#ffa600,#ffad00)"></i>
<i style="background:linear-gradient(90deg,#afff50,#beff41,#cfff30,#e1ff1e,#f2ff0d,#fffc00,#ffeb00,#ffda00,#ffc700,#ffb400,#ffa200,#ff9300,#ff8500,#f70,#ff6700,#ff5700,#ff4800,#ff3c00,#ff3600,#ff3500,#ff3b00,#ff4500,#ff5400,#f60,#ff7900,#ff8c00,#ff9e00,#ffac00,#ffb800,#ffc100,#ffcb00,#ffd600,#ffe400,#fff300,#fcff03,#edff12,#e0ff1f,#d7ff28,#d1ff2e,#d1ff2e,#d8ff27,#e5ff1a,#f8ff07,#fff100,#ffdc00,#ffc600,#ffb300,#ffa200,#ff9400,#ff8a00,#ff8400,#ff8100,#ff7f00,#ff7f00,#ff7f00,#ff7f00,#ff7f00,#ff8000,#ff8000,#ff8100,#ff8300,#ff8500,#ff8700,#f80,#ff8a00,#ff9000,#ff9800,#ff9f00,#ffa600,#ffac00)"></i>
<i style="background:linear-gradient(90deg,#adff52,#bdff42,#ceff31,#e0ff1f,#f1ff0e,#fffd00,#ffed00,#ffdb00,#ffc800,#ffb400,#ffa200,#ff9300,#ff8400,#ff7600,#ff6700,#ff5800,#ff4a00,#ff3f00,#ff3900,#ff3800,#ff3d00,#ff4700,#ff5600,#ff6700,#ff7a00,#ff8d00,#ff9e00,#ffad00,#ffb800,#ffc300,#ffcd00,#ffd900,#ffe700,#fff700,#f7ff08,#e8ff17,#dbff24,#d1ff2e,#cbff34,#cf3,#d3ff2c,#e0ff1f,#f3ff0c,#fff600,#ffdf00,#ffca00,#ffb700,#ffa600,#f90,#ff8f00,#ff8900,#ff8600,#ff8400,#ff8300,#ff8300,#ff8300,#ff8300,#ff8300,#ff8300,#ff8400,#ff8600,#f80,#ff8a00,#ff8b00,#ff8d00,#ff9200,#f90,#ffa000,#ffa500,#fa0)"></i>
<i style="background:linear-gradient(90deg,#abff54,#bf4,#cdff32,#dfff20,#f0ff0f,#fffe00,#fe0,#ffdc00,#ffc900,#ffb400,#ffa200,#ff9200,#ff8400,#ff7600,#ff6800,#ff5900,#ff4c00,#ff4200,#ff3c00,#ff3b00,#ff4000,#ff4a00,#ff5700,#ff6800,#ff7a00,#ff8d00,#ff9e00,#ffad00,#ffb900,#ffc400,#ffcf00,#ffdc00,#ffeb00,#fffb00,#f2ff0d,#e3ff1c,#d5ff2a,#cbff34,#c5ff3a,#c6ff39,#cdff32,#dbff24,#ef1,#fffa00,#ffe400,#ffce00,#fb0,#ffab00,#ff9e00,#ff9400,#ff8e00,#ff8b00,#ff8900,#f80,#f80,#ff8700,#ff8700,#ff8700,#ff8700,#ff8700,#ff8900,#ff8b00,#ff8d00,#ff8d00,#ff8f00,#ff9400,#ff9a00,#ff9f00,#ffa400,#ffa700)"></i>
<i style="background:linear-gradient(90deg,#af5,#baff45,#cbff34,#deff21,#efff10,#fffe00,#ffef00,#ffde00,#ffc900,#ffb500,#ffa200,#ff9200,#ff8300,#ff7600,#ff6800,#ff5a00,#ff4e00,#f40,#ff3f00,#ff3e00,#ff4300,#ff4c00,#ff5900,#ff6900,#ff7b00,#ff8d00,#ff9e00,#ffad00,#ffba00,#ffc500,#ffd100,#ffdf00,#fe0,#ff0,#ef1,#df2,#cfff30,#c5ff3a,#bfff40,#c0ff3f,#c7ff38,#d6ff29,#e9ff16,#fffe00,#ffe800,#ffd200,#ffc000,#ffb000,#ffa300,#ff9a00,#ff9400,#ff9000,#ff8e00,#ff8d00,#ff8c00,#ff8c00,#ff8b00,#ff8b00,#ff8a00,#ff8b00,#ff8c00,#ff8e00,#ff8f00,#ff9000,#ff9200,#ff9500,#ff9a00,#ff9f00,#ffa200,#ffa400)"></i>
<i style="background:linear-gradient(90deg,#a8ff57,#b8ff47,#caff35,#df2,#efff10,#ff0,#fff000,#ffdf00,#ffca00,#ffb500,#ffa100,#ff9100,#ff8300,#ff7500,#ff6800,#ff5b00,#ff5000,#ff4700,#ff4200,#ff4100,#ff4500,#ff4e00,#ff5b00,#ff6a00,#ff7c00,#ff8e00,#ff9f00,#ffae00,#fb0,#ffc700,#ffd300,#ffe200,#fff200,#faff05,#e9ff16,#d8ff27,#caff35,#bfff40,#b9ff46,#baff45,#c2ff3d,#d0ff2f,#e4ff1b,#fbff04,#ffec00,#ffd700,#ffc400,#ffb500,#ffa800,#ff9f00,#f90,#ff9600,#ff9400,#ff9200,#ff9100,#ff9000,#ff8f00,#ff8f00,#ff8e00,#ff8f00,#ff9000,#ff9100,#ff9200,#ff9200,#ff9400,#ff9600,#ff9a00,#ff9d00,#ffa000,#ffa100)"></i>
<i style="background:linear-gradient(90deg,#a6ff59,#b7ff48,#c9ff36,#dcff23,#ef1,#feff01,#fff100,#ffe000,#ffcb00,#ffb500,#ffa100,#ff9000,#ff8200,#ff7500,#ff6800,#ff5c00,#ff5200,#ff4a00,#ff4500,#f40,#ff4800,#ff5000,#ff5c00,#ff6b00,#ff7c00,#ff8e00,#ff9f00,#ffae00,#ffbc00,#ffc800,#ffd600,#ffe500,#fff600,#f6ff09,#e4ff1b,#d2ff2d,#c4ff3b,#b9ff46,#b3ff4c,#b3ff4c,#bf4,#cbff34,#dfff20,#f6ff09,#fff000,#ffdb00,#ffc900,#ffba00,#ffae00,#ffa500,#ff9f00,#ff9c00,#f90,#ff9800,#ff9600,#ff9500,#ff9400,#ff9300,#ff9200,#ff9200,#ff9300,#ff9400,#ff9500,#ff9500,#ff9500,#ff9700,#ff9a00,#ff9c00,#ff9d00,#ff9d00)"></i>
<i style="background:linear-gradient(90deg,#a4ff5b,#b5ff4a,#c8ff37,#dcff23,#ef1,#feff01,#fff100,#ffe100,#ffcb00,#ffb400,#ffa000,#ff8f00,#ff8100,#ff7500,#ff6900,#ff5d00,#ff5300,#ff4c00,#ff4800,#ff4700,#ff4b00,#ff5200,#ff5e00,#ff6c00,#ff7d00,#ff8e00,#ff9f00,#ffaf00,#ffbc00,#ffca00,#ffd800,#ffe800,#fff900,#f2ff0d,#deff21,#cdff32,#beff41,#b2ff4d,#acff53,#adff52,#b5ff4a,#c5ff3a,#daff25,#f2ff0d,#fff500,#ffe000,#ffce00,#ffbf00,#ffb300,#ffab00,#ffa500,#ffa100,#ff9f00,#ff9d00,#ff9c00,#ff9a00,#ff9800,#ff9700,#ff9600,#ff9600,#ff9700,#ff9700,#ff9700,#ff9700,#ff9700,#ff9800,#f90,#ff9a00,#ff9a00,#f90)"></i>
<i style="background:linear-gradient(90deg,#a3ff5c,#b3ff4c,#c7ff38,#dbff24,#ef1,#feff01,#fff200,#ffe200,#ffcb00,#ffb400,#ff9f00,#ff8f00,#ff8100,#ff7400,#ff6900,#ff5e00,#f50,#ff4f00,#ff4b00,#ff4a00,#ff4d00,#f50,#ff6000,#ff6e00,#ff7e00,#ff8f00,#ffa000,#ffaf00,#ffbd00,#ffcb00,#ffda00,#ffeb00,#fffd00,#edff12,#d9ff26,#c7ff38,#b7ff48,#acff53,#a6ff59,#a6ff59,#afff50,#bfff40,#d5ff2a,#edff12,#fff900,#ffe400,#ffd300,#ffc400,#ffb900,#ffb100,#ffab00,#ffa800,#ffa500,#ffa300,#ffa100,#ff9f00,#ff9d00,#ff9b00,#ff9a00,#ff9a00,#ff9a00,#ff9a00,#ff9a00,#f90,#f90,#f90,#f90,#ff9800,#ff9700,#ff9500)"></i>
<i style="background:linear-gradient(90deg,#a1ff5e,#b2ff4d,#c6ff39,#dbff24,#ef1,#feff01,#fff200,#ffe200,#ffcb00,#ffb300,#ff9e00,#ff8e00,#ff8000,#ff7400,#ff6900,#ff5f00,#ff5700,#ff5100,#ff4d00,#ff4d00,#ff5000,#ff5700,#ff6100,#ff6f00,#ff7f00,#ff9000,#ffa000,#ffb000,#ffbe00,#ffcd00,#ffdc00,#fe0,#fdff02,#e8ff17,#d4ff2b,#c1ff3e,#b1ff4e,#a5ff5a,#9fff60,#a0ff5f,#a8ff57,#b9ff46,#cfff30,#e8ff17,#fffe00,#ffe900,#ffd800,#ffca00,#ffbf00,#ffb700,#ffb200,#ffae00,#ffab00,#ffa900,#ffa700,#ffa500,#ffa200,#ffa000,#ff9f00,#ff9e00,#ff9e00,#ff9e00,#ff9d00,#ff9c00,#ff9a00,#f90,#ff9800,#ff9600,#ff9300,#ff9100)"></i>
<i style="background:linear-gradient(90deg,#9fff60,#b0ff4f,#c5ff3a,#daff25,#ef1,#ff0,#fff200,#ffe300,#ffcb00,#ffb200,#ff9d00,#ff8d00,#ff7f00,#ff7400,#ff6a00,#ff6100,#ff5900,#ff5300,#ff5000,#ff5000,#ff5200,#ff5900,#ff6300,#ff7000,#ff8000,#ff9000,#ffa100,#ffb000,#ffbf00,#ffcf00,#ffdf00,#fff100,#f9ff06,#e4ff1b,#cfff30,#bf4,#abff54,#9fff60,#98ff67,#9f6,#a2ff5d,#b3ff4c,#caff35,#e3ff1c,#fbff04,#fe0,#fd0,#ffd000,#ffc600,#ffbe00,#ffb800,#ffb500,#ffb200,#ffb000,#ffad00,#fa0,#ffa700,#ffa500,#ffa300,#ffa200,#ffa200,#ffa100,#ffa000,#ff9e00,#ff9c00,#ff9a00,#ff9700,#ff9400,#ff9000,#ff8c00)"></i>
<i style="background:linear-gradient(90deg,#9dff62,#afff50,#c3ff3c,#daff25,#efff10,#ff0,#fff200,#ffe300,#ffca00,#ffb000,#ff9c00,#ff8c00,#ff7f00,#ff7400,#ff6a00,#ff6200,#ff5b00,#ff5600,#ff5300,#ff5200,#f50,#ff5b00,#ff6400,#ff7100,#ff8000,#ff9100,#ffa100,#ffb100,#ffc100,#ffd000,#ffe100,#fff400,#f5ff0a,#dfff20,#c9ff36,#b5ff4a,#a5ff5a,#98ff67,#92ff6d,#92ff6d,#9bff64,#adff52,#c4ff3b,#deff21,#f7ff08,#fff300,#ffe200,#ffd600,#fc0,#ffc400,#ffbf00,#fb0,#ffb800,#ffb600,#ffb300,#ffb000,#ffad00,#fa0,#ffa800,#ffa700,#ffa600,#ffa400,#ffa300,#ffa000,#ff9d00,#ff9a00,#ff9700,#ff9200,#ff8c00,#f80)"></i>
<i style="background:linear-gradient(90deg,#9cff63,#adff52,#c2ff3d,#daff25,#efff10,#fffe00,#fff200,#ffe300,#ffc900,#ffaf00,#ff9a00,#ff8b00,#ff7e00,#ff7400,#ff6b00,#ff6300,#ff5d00,#ff5800,#ff5600,#f50,#ff5700,#ff5d00,#f60,#ff7200,#ff8100,#ff9200,#ffa200,#ffb200,#ffc200,#ffd200,#ffe300,#fff700,#f1ff0e,#daff25,#c4ff3b,#afff50,#9eff61,#92ff6d,#8bff74,#8bff74,#94ff6b,#a7ff58,#bfff40,#d9ff26,#f2ff0d,#fff800,#ffe800,#ffdc00,#ffd200,#ffcb00,#ffc600,#ffc200,#ffbf00,#ffbd00,#ffba00,#ffb600,#ffb200,#ffaf00,#ffad00,#ffab00,#fa0,#ffa800,#ffa600,#ffa300,#ff9f00,#ff9b00,#ff9600,#ff8f00,#ff8900,#ff8400)"></i>
<i style="background:linear-gradient(90deg,#9aff65,#acff53,#c1ff3e,#d9ff26,#f0ff0f,#fffd00,#fff100,#ffe200,#ffc800,#ffad00,#f90,#ff8a00,#ff7e00,#ff7400,#ff6b00,#ff6400,#ff5f00,#ff5b00,#ff5800,#ff5800,#ff5a00,#ff5f00,#ff6800,#ff7400,#ff8200,#ff9200,#ffa300,#ffb300,#ffc300,#ffd300,#ffe500,#fffa00,#ef1,#d6ff29,#beff41,#a9ff56,#98ff67,#8bff74,#84ff7b,#84ff7b,#8eff71,#a0ff5f,#b9ff46,#d3ff2c,#edff12,#fffd00,#fe0,#ffe200,#ffd900,#ffd200,#ffcd00,#ffc900,#ffc600,#ffc400,#ffc000,#ffbc00,#ffb800,#ffb400,#ffb200,#ffb000,#ffae00,#ffac00,#ffa900,#ffa500,#ffa100,#ff9b00,#ff9500,#ff8d00,#ff8500,#ff8000)"></i>
<i style="background:linear-gradient(90deg,#98ff67,#af5,#c0ff3f,#d9ff26,#f1ff0e,#fffc00,#fff000,#ffe000,#ffc600,#ffab00,#ff9800,#ff8900,#ff7e00,#ff7400,#ff6c00,#ff6500,#ff6000,#ff5d00,#ff5b00,#ff5a00,#ff5c00,#ff6100,#ff6900,#ff7500,#ff8300,#ff9300,#ffa400,#ffb400,#ffc400,#ffd500,#ffe800,#fffd00,#eaff15,#d1ff2e,#b9ff46,#a3ff5c,#91ff6e,#85ff7a,#7eff81,#7eff81,#87ff78,#9aff65,#b3ff4c,#ceff31,#e7ff18,#fbff04,#fff400,#ffe800,#ffe000,#ffd900,#ffd400,#ffd000,#ffcd00,#ffca00,#ffc700,#ffc300,#ffbe00,#ffba00,#ffb700,#ffb500,#ffb300,#ffb000,#ffac00,#ffa800,#ffa300,#ff9c00,#ff9500,#ff8c00,#ff8200,#ff7c00)"></i>
<i style="background:linear-gradient(90deg,#96ff69,#a8ff57,#bfff40,#d8ff27,#f1ff0e,#fffb00,#fe0,#ffde00,#ffc400,#ffa900,#ff9700,#ff8900,#ff7e00,#ff7400,#ff6d00,#ff6700,#ff6200,#ff5f00,#ff5d00,#ff5d00,#ff5e00,#ff6300,#ff6b00,#ff7600,#ff8400,#ff9400,#ffa400,#ffb500,#ffc500,#ffd700,#ffea00,#feff01,#e6ff19,#cf3,#b3ff4c,#9dff62,#8bff74,#7eff81,#7f8,#7f8,#80ff7f,#94ff6b,#adff52,#c8ff37,#e2ff1d,#f6ff09,#fffa00,#ffef00,#ffe700,#ffe000,#ffdb00,#ffd700,#ffd400,#ffd200,#ffce00,#ffc900,#ffc400,#ffc000,#ffbd00,#ffba00,#ffb800,#ffb400,#ffb000,#ffab00,#ffa500,#ff9d00,#ff9400,#ff8a00,#ff7f00,#ff7800)"></i>
<i style="background:linear-gradient(90deg,#95ff6a,#a7ff58,#bdff42,#d8ff27,#f1ff0e,#fffa00,#ffed00,#ffdb00,#ffc200,#ffa700,#ff9600,#f80,#ff7d00,#ff7400,#ff6d00,#ff6800,#ff6400,#ff6100,#ff6000,#ff5f00,#ff6100,#ff6500,#ff6d00,#ff7800,#ff8500,#ff9500,#ffa500,#ffb600,#ffc600,#ffd800,#ffec00,#fbff04,#e2ff1d,#c7ff38,#aeff51,#97ff68,#85ff7a,#7f8,#70ff8f,#70ff8f,#7aff85,#8eff71,#a7ff58,#c2ff3d,#dcff23,#efff10,#feff01,#fff600,#fe0,#ffe700,#ffe200,#ffdf00,#ffdc00,#ffd900,#ffd500,#ffd000,#ffcb00,#ffc600,#ffc200,#ffc000,#ffbd00,#ffb900,#ffb400,#ffae00,#ffa700,#ff9e00,#ff9400,#f80,#ff7d00,#ff7400)"></i>
<i style="background:linear-gradient(90deg,#93ff6c,#a5ff5a,#bcff43,#d7ff28,#f1ff0e,#fffa00,#ffeb00,#ffd900,#ffc000,#ffa600,#ff9500,#f80,#ff7e00,#ff7500,#ff6e00,#ff6900,#f60,#ff6400,#ff6200,#ff6200,#ff6300,#ff6700,#ff6e00,#ff7900,#ff8700,#ff9600,#ffa600,#ffb700,#ffc800,#ffda00,#ffef00,#f8ff07,#deff21,#c2ff3d,#a8ff57,#91ff6e,#7eff81,#71ff8e,#6aff95,#6aff95,#73ff8c,#8f7,#a1ff5e,#bcff43,#d6ff29,#e9ff16,#f7ff08,#fffc00,#fff500,#ffef00,#ffea00,#ffe600,#ffe300,#ffe000,#ffdc00,#ffd700,#ffd200,#fc0,#ffc800,#ffc500,#ffc200,#ffbd00,#ffb800,#ffb100,#ffa900,#ff9f00,#ff9400,#ff8700,#ff7a00,#ff7100)"></i>
<i style="background:linear-gradient(90deg,#91ff6e,#a3ff5c,#bf4,#d6ff29,#f1ff0e,#fffa00,#ffea00,#ffd700,#ffbe00,#ffa500,#ff9500,#f80,#ff7e00,#ff7600,#ff6f00,#ff6b00,#ff6800,#f60,#ff6500,#ff6400,#f60,#ff6a00,#ff7000,#ff7b00,#f80,#ff9700,#ffa700,#ffb700,#ffc900,#ffdc00,#fff100,#f5ff0a,#daff25,#beff41,#a3ff5c,#8bff74,#78ff87,#6aff95,#64ff9b,#64ff9b,#6eff91,#82ff7d,#9bff64,#b6ff49,#cfff30,#e2ff1d,#f0ff0f,#faff05,#fffc00,#fff600,#fff100,#ffed00,#ffeb00,#ffe800,#ffe300,#ffde00,#ffd900,#ffd300,#ffcf00,#ffcb00,#ffc700,#ffc200,#ffbc00,#ffb500,#ffac00,#ffa100,#ff9400,#ff8600,#ff7800,#ff6f00)"></i>
<i style="background:linear-gradient(90deg,#90ff6f,#a2ff5d,#b9ff46,#d5ff2a,#f0ff0f,#fffa00,#ffe900,#ffd500,#ffbd00,#ffa500,#ff9400,#f80,#ff7e00,#ff7600,#ff7100,#ff6c00,#ff6900,#ff6800,#ff6700,#f60,#ff6800,#ff6c00,#ff7200,#ff7c00,#ff8900,#ff9700,#ffa700,#ffb800,#ffca00,#ffde00,#fff400,#f1ff0e,#d5ff2a,#b9ff46,#9dff62,#85ff7a,#71ff8e,#64ff9b,#5dffa2,#5effa1,#68ff97,#7cff83,#95ff6a,#b0ff4f,#c8ff37,#dbff24,#e9ff16,#f3ff0c,#fbff04,#fffd00,#fff900,#fff500,#fff200,#ffef00,#ffeb00,#ffe500,#ffe000,#ffda00,#ffd600,#ffd200,#ffcd00,#ffc800,#ffc100,#ffb800,#ffae00,#ffa200,#ff9500,#ff8500,#f70,#ff6d00)"></i>
<i style="background:linear-gradient(90deg,#8eff71,#a0ff5f,#b8ff47,#d4ff2b,#efff10,#fffa00,#ffe800,#ffd400,#ffbc00,#ffa500,#ff9400,#f80,#ff7f00,#f70,#ff7200,#ff6e00,#ff6b00,#ff6a00,#ff6900,#ff6900,#ff6a00,#ff6e00,#ff7400,#ff7e00,#ff8a00,#ff9800,#ffa800,#ffb900,#ffcb00,#ffdf00,#fff600,#ef1,#d1ff2e,#b4ff4b,#97ff68,#7fff80,#6bff94,#5effa1,#57ffa8,#58ffa7,#63ff9c,#76ff89,#8fff70,#a9ff56,#c1ff3e,#d4ff2b,#e2ff1d,#ecff13,#f3ff0c,#f9ff06,#feff01,#fffd00,#fffa00,#fff700,#fff200,#ffed00,#ffe700,#ffe100,#fd0,#ffd800,#ffd300,#ffcd00,#ffc600,#ffbc00,#ffb200,#ffa500,#ff9600,#ff8500,#ff7500,#ff6b00)"></i>
<i style="background:linear-gradient(90deg,#8dff72,#9fff60,#b7ff48,#d3ff2c,#ef1,#fffa00,#ffe700,#ffd200,#fb0,#ffa500,#ff9500,#ff8900,#ff8000,#ff7900,#ff7300,#ff7000,#ff6d00,#ff6c00,#ff6b00,#ff6b00,#ff6d00,#ff7000,#f70,#ff8000,#ff8c00,#f90,#ffa900,#ffba00,#fc0,#ffe100,#fff900,#ebff14,#cdff32,#afff50,#92ff6d,#78ff87,#65ff9a,#57ffa8,#51ffae,#53ffac,#5dffa2,#70ff8f,#8f7,#a2ff5d,#baff45,#cdff32,#dbff24,#e5ff1a,#ecff13,#f2ff0d,#f6ff09,#f9ff06,#fcff03,#fffe00,#fffa00,#fff500,#ffef00,#ffe900,#ffe400,#ffdf00,#ffd900,#ffd300,#ffcb00,#ffc100,#ffb500,#ffa700,#ff9700,#ff8500,#ff7500,#ff6a00)"></i>
<i style="background:linear-gradient(90deg,#8bff74,#9dff62,#b6ff49,#d2ff2d,#edff12,#fffa00,#ffe600,#ffd100,#ffba00,#ffa500,#ff9500,#ff8900,#ff8100,#ff7a00,#ff7500,#ff7100,#ff6f00,#ff6e00,#ff6d00,#ff6d00,#ff6f00,#ff7300,#ff7900,#ff8200,#ff8d00,#ff9b00,#fa0,#fb0,#ffce00,#ffe300,#fffb00,#e7ff18,#c9ff36,#af5,#8cff73,#72ff8d,#5effa1,#51ffae,#4bffb4,#4dffb2,#58ffa7,#6aff95,#82ff7d,#9bff64,#b3ff4c,#c5ff3a,#d3ff2c,#df2,#e4ff1b,#eaff15,#ef1,#f1ff0e,#f4ff0b,#f8ff07,#fcff03,#fffc00,#fff700,#fff100,#ffeb00,#ffe600,#ffe000,#ffd900,#ffd000,#ffc500,#ffb900,#fa0,#ff9800,#ff8600,#ff7400,#ff6900)"></i>
<i style="background:linear-gradient(90deg,#8aff75,#9cff63,#b5ff4a,#d1ff2e,#edff12,#fffb00,#ffe600,#ffd000,#ffb900,#ffa500,#ff9500,#ff8a00,#ff8200,#ff7b00,#ff7600,#ff7300,#ff7100,#ff7000,#ff6f00,#ff7000,#ff7100,#ff7500,#ff7b00,#ff8400,#ff8f00,#ff9c00,#ffab00,#ffbc00,#ffcf00,#ffe500,#fffe00,#e4ff1b,#c5ff3a,#a5ff5a,#86ff79,#6cff93,#58ffa7,#4bffb4,#45ffba,#48ffb7,#52ffad,#65ff9a,#7cff83,#94ff6b,#abff54,#bdff42,#cbff34,#d5ff2a,#df2,#e2ff1d,#e6ff19,#e9ff16,#ecff13,#f0ff0f,#f4ff0b,#faff05,#ff0,#fff900,#fff300,#ffed00,#ffe700,#ffdf00,#ffd600,#ffca00,#ffbd00,#ffad00,#ff9b00,#ff8700,#ff7500,#ff6900)"></i>
<i style="background:linear-gradient(90deg,#89ff76,#9aff65,#b4ff4b,#d1ff2e,#ecff13,#fffa00,#ffe500,#ffce00,#ffb800,#ffa500,#ff9600,#ff8b00,#ff8300,#ff7c00,#ff7800,#ff7500,#ff7300,#ff7200,#ff7200,#ff7200,#ff7400,#ff7800,#ff7d00,#ff8500,#ff9000,#ff9d00,#ffac00,#ffbd00,#ffd000,#ffe600,#feff01,#e1ff1e,#c1ff3e,#a0ff5f,#81ff7e,#6f9,#51ffae,#4fb,#3fffc0,#42ffbd,#4dffb2,#5fffa0,#75ff8a,#8dff72,#a3ff5c,#b6ff49,#c3ff3c,#cdff32,#d5ff2a,#daff25,#deff21,#e1ff1e,#e4ff1b,#e7ff18,#ecff13,#f1ff0e,#f7ff08,#fdff02,#fffb00,#fff500,#fe0,#ffe600,#ffdc00,#ffd000,#ffc100,#ffb000,#ff9d00,#ff8900,#ff7600,#ff6900)"></i>
<i style="background:linear-gradient(90deg,#87ff78,#9f6,#b3ff4c,#d1ff2e,#edff12,#fffa00,#ffe400,#ffcd00,#ffb800,#ffa500,#ff9700,#ff8c00,#ff8400,#ff7e00,#ff7a00,#f70,#ff7500,#ff7400,#ff7400,#ff7400,#ff7600,#ff7a00,#ff8000,#ff8700,#ff9200,#ff9e00,#ffad00,#ffbe00,#ffd100,#ffe800,#fbff04,#deff21,#bdff42,#9bff64,#7bff84,#5fffa0,#4bffb4,#3effc1,#39ffc6,#3cffc3,#47ffb8,#59ffa6,#6fff90,#86ff79,#9cff63,#aeff51,#bf4,#c5ff3a,#cdff32,#d2ff2d,#d6ff29,#d9ff26,#dcff23,#dfff20,#e4ff1b,#e9ff16,#efff10,#f5ff0a,#fbff04,#fffc00,#fff500,#ffec00,#ffe200,#ffd500,#ffc600,#ffb500,#ffa100,#ff8b00,#f70,#ff6a00)"></i>
<i style="background:linear-gradient(90deg,#86ff79,#98ff67,#b2ff4d,#d1ff2e,#ef1,#fff900,#ffe200,#fc0,#ffb700,#ffa500,#ff9700,#ff8d00,#ff8500,#ff8000,#ff7c00,#ff7900,#f70,#ff7600,#ff7600,#f70,#ff7900,#ff7c00,#ff8200,#ff8a00,#ff9300,#ff9f00,#ffae00,#ffbf00,#ffd300,#ffea00,#f9ff06,#daff25,#b9ff46,#96ff69,#75ff8a,#59ffa6,#4fb,#38ffc7,#3fc,#37ffc8,#42ffbd,#53ffac,#69ff96,#7fff80,#94ff6b,#a6ff59,#b3ff4c,#bdff42,#c4ff3b,#caff35,#cdff32,#d0ff2f,#d3ff2c,#d7ff28,#dbff24,#e0ff1f,#e6ff19,#edff12,#f3ff0c,#faff05,#fffd00,#fff400,#ffe900,#ffdb00,#ffcb00,#ffb900,#ffa400,#ff8e00,#ff7900,#ff6b00)"></i>
<i style="background:linear-gradient(90deg,#86ff79,#97ff68,#b2ff4d,#d1ff2e,#efff10,#fff700,#ffe000,#ffca00,#ffb600,#ffa500,#ff9800,#ff8e00,#ff8700,#ff8100,#ff7d00,#ff7b00,#ff7900,#ff7800,#ff7800,#ff7900,#ff7b00,#ff7f00,#ff8400,#ff8c00,#ff9500,#ffa100,#ffaf00,#ffc000,#ffd400,#ffec00,#f7ff08,#d7ff28,#b5ff4a,#91ff6e,#6fff90,#53ffac,#3effc1,#31ffce,#2dffd2,#31ffce,#3cffc3,#4dffb2,#62ff9d,#78ff87,#8cff73,#9eff61,#abff54,#b5ff4a,#bcff43,#c1ff3e,#c5ff3a,#c8ff37,#caff35,#ceff31,#d2ff2d,#d8ff27,#deff21,#e4ff1b,#ebff14,#f2ff0d,#faff05,#fffb00,#ffef00,#ffe200,#ffd100,#ffbe00,#ffa900,#ff9200,#ff7c00,#ff6d00)"></i>
<i style="background:linear-gradient(90deg,#85ff7a,#96ff69,#b1ff4e,#d3ff2c,#f2ff0d,#fff500,#ffde00,#ffc800,#ffb500,#ffa500,#f90,#ff8f00,#f80,#ff8300,#ff7f00,#ff7d00,#ff7b00,#ff7b00,#ff7b00,#ff7c00,#ff7e00,#ff8200,#ff8700,#ff8e00,#ff9700,#ffa200,#ffb000,#ffc100,#ffd500,#ffed00,#f4ff0b,#d4ff2b,#b1ff4e,#8cff73,#6aff95,#4cffb3,#37ffc8,#2bffd4,#27ffd8,#2bffd4,#37ffc8,#47ffb8,#5bffa4,#71ff8e,#85ff7a,#95ff6a,#a2ff5d,#acff53,#b4ff4b,#b9ff46,#bcff43,#bfff40,#c1ff3e,#c5ff3a,#c9ff36,#cfff30,#d5ff2a,#dcff23,#e2ff1d,#eaff15,#f2ff0d,#fcff03,#fff700,#ffe800,#ffd700,#ffc400,#ffae00,#ff9700,#ff8000,#ff7100)"></i>
<i style="background:linear-gradient(90deg,#85ff7a,#96ff69,#b1ff4e,#d4ff2b,#f5ff0a,#fff100,#ffdb00,#ffc500,#ffb400,#ffa500,#ff9a00,#ff9100,#ff8a00,#ff8500,#ff8200,#ff7f00,#ff7e00,#ff7d00,#ff7d00,#ff7e00,#ff8100,#ff8400,#ff8900,#ff9000,#f90,#ffa300,#ffb100,#ffc200,#ffd700,#ffef00,#f2ff0d,#d1ff2e,#adff52,#87ff78,#64ff9b,#46ffb9,#31ffce,#25ffda,#21ffde,#26ffd9,#31ffce,#41ffbe,#5fa,#69ff96,#7dff82,#8dff72,#9aff65,#a4ff5b,#abff54,#b0ff4f,#b3ff4c,#b6ff49,#b8ff47,#bcff43,#c0ff3f,#c6ff39,#cf3,#d3ff2c,#daff25,#e1ff1e,#eaff15,#f4ff0b,#fffe00,#ffef00,#ffde00,#ffca00,#ffb300,#ff9c00,#ff8500,#ff7500)"></i>
<i style="background:linear-gradient(90deg,#85ff7a,#95ff6a,#b2ff4d,#d6ff29,#f9ff06,#ffed00,#ffd700,#ffc300,#ffb200,#ffa500,#ff9a00,#ff9200,#ff8c00,#ff8700,#ff8400,#ff8100,#ff8000,#ff7f00,#ff8000,#ff8100,#ff8300,#ff8700,#ff8c00,#ff9200,#ff9a00,#ffa500,#ffb200,#ffc300,#ffd800,#fff100,#f0ff0f,#ceff31,#a9ff56,#83ff7c,#5effa1,#40ffbf,#2affd5,#1effe1,#1bffe4,#20ffdf,#2bffd4,#3bffc4,#4effb1,#62ff9d,#75ff8a,#85ff7a,#91ff6e,#9bff64,#a2ff5d,#a7ff58,#af5,#acff53,#afff50,#b3ff4c,#b7ff48,#bdff42,#c3ff3c,#caff35,#d1ff2e,#d9ff26,#e1ff1e,#ecff13,#f8ff07,#fff600,#ffe400,#ffd000,#ffb900,#ffa200,#ff8b00,#ff7b00)"></i>
<i style="background:linear-gradient(90deg,#85ff7a,#95ff6a,#b2ff4d,#d9ff26,#fdff02,#ffe700,#ffd200,#ffc000,#ffb100,#ffa500,#ff9b00,#ff9300,#ff8e00,#ff8900,#ff8600,#ff8400,#ff8300,#ff8200,#ff8200,#ff8300,#ff8600,#ff8900,#ff8e00,#ff9500,#ff9c00,#ffa700,#ffb400,#ffc500,#ffda00,#fff300,#ef1,#cf3,#a6ff59,#7eff81,#59ffa6,#39ffc6,#23ffdc,#18ffe7,#15ffea,#1affe5,#25ffda,#35ffca,#47ffb8,#5bffa4,#6dff92,#7cff83,#89ff76,#92ff6d,#9f6,#9eff61,#a1ff5e,#a3ff5c,#a6ff59,#a9ff56,#aeff51,#b3ff4c,#baff45,#c1ff3e,#c8ff37,#d0ff2f,#d9ff26,#e3ff1c,#f0ff0f,#fffe00,#ffec00,#ffd700,#ffc000,#ffa900,#ff9300,#ff8200)"></i>
<i style="background:linear-gradient(90deg,#85ff7a,#95ff6a,#b3ff4c,#dcff23,#fffb00,#ffe000,#ffcd00,#ffbd00,#ffb000,#ffa500,#ff9c00,#ff9500,#ff8f00,#ff8b00,#f80,#ff8600,#ff8500,#ff8400,#ff8500,#ff8600,#ff8900,#ff8c00,#ff9100,#ff9700,#ff9e00,#ffa800,#ffb500,#ffc600,#ffdb00,#fff500,#ebff14,#c9ff36,#a2ff5d,#79ff86,#53ffac,#3fc,#1dffe2,#12ffed,#0ffff0,#15ffea,#1fffe0,#2fffd0,#40ffbf,#53ffac,#65ff9a,#74ff8b,#80ff7f,#89ff76,#90ff6f,#95ff6a,#97ff68,#9aff65,#9cff63,#a0ff5f,#a4ff5b,#af5,#b0ff4f,#b7ff48,#bfff40,#c7ff38,#d0ff2f,#dbff24,#e8ff17,#f8ff07,#fff300,#ffde00,#ffc700,#ffb000,#ff9a00,#ff8b00)"></i>
<i style="background:linear-gradient(90deg,#86ff79,#95ff6a,#b4ff4b,#dfff20,#fff500,#ffd900,#ffc700,#ffb900,#ffae00,#ffa500,#ff9d00,#ff9600,#ff9100,#ff8e00,#ff8b00,#ff8900,#f80,#ff8700,#ff8700,#ff8900,#ff8b00,#ff8f00,#ff9400,#f90,#ffa100,#fa0,#ffb700,#ffc700,#fd0,#fff700,#e9ff16,#c6ff39,#9eff61,#75ff8a,#4effb1,#2dffd2,#16ffe9,#0cfff3,#0afff5,#0ffff0,#1affe5,#28ffd7,#39ffc6,#4cffb3,#5dffa2,#6bff94,#7f8,#80ff7f,#87ff78,#8bff74,#8eff71,#90ff6f,#92ff6d,#96ff69,#9bff64,#a1ff5e,#a7ff58,#aeff51,#b6ff49,#beff41,#c7ff38,#d2ff2d,#e0ff1f,#f0ff0f,#fffb00,#ffe600,#ffcf00,#ffb800,#ffa300,#ff9400)"></i>
<i style="background:linear-gradient(90deg,#87ff78,#95ff6a,#b5ff4a,#e2ff1d,#ffef00,#ffd200,#ffc200,#ffb600,#ffad00,#ffa500,#ff9e00,#ff9800,#ff9300,#ff9000,#ff8d00,#ff8b00,#ff8a00,#ff8a00,#ff8a00,#ff8c00,#ff8e00,#ff9200,#ff9600,#ff9c00,#ffa300,#ffac00,#ffb800,#ffc900,#ffdf00,#fff900,#e7ff18,#c3ff3c,#9bff64,#70ff8f,#48ffb7,#26ffd9,#10ffef,#05fffa,#04fffb,#09fff6,#14ffeb,#2fd,#32ffcd,#4fb,#5fa,#62ff9d,#6dff92,#76ff89,#7dff82,#82ff7d,#84ff7b,#86ff79,#89ff76,#8cff73,#91ff6e,#97ff68,#9dff62,#a5ff5a,#acff53,#b5ff4a,#beff41,#caff35,#d7ff28,#e8ff17,#fbff04,#fe0,#ffd700,#ffc000,#ffac00,#ff9d00)"></i>
<i style="background:linear-gradient(90deg,#89ff76,#96ff69,#b6ff49,#e5ff1a,#ffe900,#ffcb00,#ffbd00,#ffb300,#ffab00,#ffa500,#ff9f00,#ff9a00,#ff9600,#ff9200,#ff9000,#ff8e00,#ff8d00,#ff8d00,#ff8d00,#ff8e00,#ff9100,#ff9500,#f90,#ff9e00,#ffa500,#ffae00,#ffba00,#ffcb00,#ffe100,#fffb00,#e4ff1b,#c1ff3e,#97ff68,#6cff93,#43ffbc,#20ffdf,#0afff5,#00feff,#00fdff,#03fffc,#0efff1,#1bffe4,#2bffd4,#3cffc3,#4cffb3,#5affa5,#64ff9b,#6cff93,#73ff8c,#78ff87,#7aff85,#7cff83,#7eff81,#82ff7d,#87ff78,#8dff72,#94ff6b,#9bff64,#a3ff5c,#acff53,#b5ff4a,#c1ff3e,#ceff31,#dfff20,#f2ff0d,#fff600,#ffe000,#ffc900,#ffb600,#ffa700)"></i>
<i style="background:linear-gradient(90deg,#8bff74,#97ff68,#b7ff48,#e9ff16,#ffe300,#ffc400,#ffb800,#ffb000,#fa0,#ffa500,#ffa000,#ff9b00,#ff9800,#ff9500,#ff9300,#ff9100,#ff9000,#ff8f00,#ff9000,#ff9100,#ff9400,#ff9700,#ff9c00,#ffa100,#ffa800,#ffb000,#ffbc00,#ffcd00,#ffe300,#fffd00,#e2ff1d,#beff41,#94ff6b,#68ff97,#3effc1,#1bffe4,#04fffb,#00f9ff,#00f7ff,#00fcff,#08fff7,#15ffea,#24ffdb,#35ffca,#4fb,#51ffae,#5affa5,#62ff9d,#69ff96,#6dff92,#6fff90,#71ff8e,#74ff8b,#78ff87,#7dff82,#83ff7c,#8aff75,#92ff6d,#9aff65,#a2ff5d,#acff53,#b7ff48,#c5ff3a,#d6ff29,#eaff15,#ff0,#ffe800,#ffd200,#ffbf00,#ffb100)"></i>
<i style="background:linear-gradient(90deg,#8eff71,#98ff67,#b9ff46,#ecff13,#fd0,#ffbe00,#ffb300,#ffad00,#ffa900,#ffa500,#ffa100,#ff9d00,#ff9a00,#ff9700,#ff9500,#ff9400,#ff9300,#ff9200,#ff9300,#ff9400,#ff9700,#ff9a00,#ff9f00,#ffa400,#fa0,#ffb200,#ffbe00,#ffcf00,#ffe500,#feff01,#dfff20,#bf4,#90ff6f,#64ff9b,#39ffc6,#15ffea,#00fdff,#00f3ff,#00f1ff,#00f7ff,#01fffe,#0efff1,#1dffe2,#2dffd2,#3cffc3,#47ffb8,#51ffae,#58ffa7,#5fffa0,#63ff9c,#65ff9a,#67ff98,#6aff95,#6eff91,#73ff8c,#7aff85,#80ff7f,#8f7,#90ff6f,#9f6,#a3ff5c,#aeff51,#bcff43,#cdff32,#e0ff1f,#f6ff09,#fff100,#ffdb00,#ffc900,#fb0)"></i>
<i style="background:linear-gradient(90deg,#91ff6e,#9aff65,#bf4,#efff10,#ffd900,#ffba00,#ffb000,#ffab00,#ffa800,#ffa500,#ffa200,#ff9f00,#ff9c00,#ff9a00,#ff9800,#ff9700,#ff9600,#ff9500,#ff9600,#ff9700,#ff9a00,#ff9d00,#ffa200,#ffa600,#ffad00,#ffb500,#ffc000,#ffd100,#ffe700,#fcff03,#dcff23,#b8ff47,#8dff72,#60ff9f,#35ffca,#10ffef,#00f8ff,#0ef,#00ecff,#00f1ff,#00faff,#07fff8,#15ffea,#25ffda,#3fc,#3effc1,#47ffb8,#4effb1,#54ffab,#58ffa7,#5affa5,#5cffa3,#5fffa0,#64ff9b,#69ff96,#70ff8f,#7f8,#7eff81,#86ff79,#8fff70,#9f6,#a5ff5a,#b3ff4c,#c4ff3b,#d7ff28,#edff12,#fffb00,#ffe500,#ffd200,#ffc500)"></i>
<i style="background:linear-gradient(90deg,#96ff69,#9cff63,#bdff42,#f2ff0d,#ffd600,#ffb700,#ffac00,#ffa900,#ffa700,#ffa600,#ffa300,#ffa100,#ff9f00,#ff9d00,#ff9b00,#ff9a00,#f90,#ff9800,#f90,#ff9a00,#ff9c00,#ffa000,#ffa400,#ffa900,#ffaf00,#ffb800,#ffc300,#ffd400,#ffea00,#f9ff06,#daff25,#b4ff4b,#89ff76,#5cffa3,#30ffcf,#0cfff3,#00f3ff,#00e8ff,#00e6ff,#00ebff,#00f4ff,#0ff,#0efff1,#1cffe3,#2affd5,#35ffca,#3dffc2,#43ffbc,#49ffb6,#4dffb2,#4fffb0,#51ffae,#5fa,#59ffa6,#5fffa0,#6f9,#6dff92,#74ff8b,#7dff82,#86ff79,#90ff6f,#9bff64,#a9ff56,#baff45,#ceff31,#e3ff1c,#faff05,#fe0,#ffdc00,#ffcd00)"></i>
<i style="background:linear-gradient(90deg,#9bff64,#a0ff5f,#c0ff3f,#f5ff0a,#ffd400,#ffb400,#fa0,#ffa700,#ffa600,#ffa600,#ffa500,#ffa300,#ffa100,#ffa000,#ff9e00,#ff9d00,#ff9c00,#ff9b00,#ff9c00,#ff9d00,#ff9f00,#ffa300,#ffa700,#ffac00,#ffb200,#ffba00,#ffc600,#ffd700,#ffed00,#f6ff09,#d6ff29,#b1ff4e,#85ff7a,#58ffa7,#2cffd3,#08fff7,#00efff,#00e3ff,#00e1ff,#00e5ff,#00edff,#00f8ff,#06fff9,#14ffeb,#21ffde,#2bffd4,#3fc,#39ffc6,#3effc1,#41ffbe,#43ffbc,#46ffb9,#4affb5,#4fffb0,#5fa,#5cffa3,#63ff9c,#6bff94,#73ff8c,#7cff83,#86ff79,#92ff6d,#a0ff5f,#b0ff4f,#c4ff3b,#d9ff26,#f0ff0f,#fff800,#ffe500,#ffd600)"></i>
<i style="background:linear-gradient(90deg,#a2ff5d,#a5ff5a,#c4ff3b,#f9ff06,#ffd200,#ffb300,#ffa800,#ffa600,#ffa600,#ffa600,#ffa600,#ffa500,#ffa400,#ffa300,#ffa100,#ffa000,#ff9f00,#ff9f00,#ff9f00,#ffa000,#ffa200,#ffa600,#fa0,#ffaf00,#ffb500,#ffbd00,#ffc900,#ffda00,#fff000,#f3ff0c,#d3ff2c,#adff52,#82ff7d,#54ffab,#29ffd6,#04fffb,#00ebff,#00dfff,#00dbff,#00dfff,#00e7ff,#00f1ff,#00feff,#0cfff3,#18ffe7,#21ffde,#28ffd7,#2effd1,#32ffcd,#35ffca,#38ffc7,#3bffc4,#3fffc0,#4fb,#4affb5,#51ffae,#59ffa6,#61ff9e,#69ff96,#73ff8c,#7dff82,#8f7,#96ff69,#a7ff58,#baff45,#cfff30,#e6ff19,#fdff02,#fe0,#ffde00)"></i>
<i style="background:linear-gradient(90deg,#abff54,#abff54,#c9ff36,#fdff02,#ffd000,#ffb200,#ffa700,#ffa500,#ffa600,#ffa700,#ffa800,#ffa700,#ffa700,#ffa600,#ffa500,#ffa300,#ffa300,#ffa200,#ffa200,#ffa300,#ffa600,#ffa900,#ffad00,#ffb100,#ffb800,#ffc000,#fc0,#fd0,#fff300,#f0ff0f,#d0ff2f,#af5,#7eff81,#50ffaf,#25ffda,#0ff,#00e7ff,#00daff,#00d6ff,#00d9ff,#00e0ff,#00eaff,#00f6ff,#04fffb,#0ffff0,#18ffe7,#1effe1,#23ffdc,#26ffd9,#29ffd6,#2cffd3,#30ffcf,#34ffcb,#3affc5,#40ffbf,#47ffb8,#4fffb0,#57ffa8,#60ff9f,#69ff96,#73ff8c,#7eff81,#8cff73,#9dff62,#b0ff4f,#c5ff3a,#dcff23,#f3ff0c,#fff700,#ffe700)"></i>
<i style="background:linear-gradient(90deg,#b4ff4b,#b5ff4a,#d0ff2f,#fffd00,#ffce00,#ffb100,#ffa600,#ffa400,#ffa600,#ffa800,#ffa900,#fa0,#ffa900,#ffa900,#ffa800,#ffa700,#ffa600,#ffa500,#ffa600,#ffa700,#ffa900,#ffac00,#ffaf00,#ffb400,#fb0,#ffc300,#ffcf00,#ffe000,#fff600,#edff12,#cdff32,#a6ff59,#7bff84,#4dffb2,#21ffde,#00fcff,#00e3ff,#00d5ff,#00d1ff,#00d3ff,#00d9ff,#00e3ff,#0ef,#00faff,#06fff9,#0efff1,#14ffeb,#17ffe8,#1bffe4,#1dffe2,#20ffdf,#24ffdb,#29ffd6,#2fffd0,#36ffc9,#3dffc2,#45ffba,#4dffb2,#56ffa9,#5fffa0,#69ff96,#75ff8a,#82ff7d,#92ff6d,#a5ff5a,#bf4,#d2ff2d,#e9ff16,#feff01,#ffef00)"></i>
<i style="background:linear-gradient(90deg,#bfff40,#c0ff3f,#daff25,#fff700,#fc0,#ffb100,#ffa600,#ffa400,#ffa600,#ffa900,#ffab00,#ffac00,#ffac00,#ffac00,#ffab00,#fa0,#ffa900,#ffa900,#ffa900,#fa0,#ffac00,#ffaf00,#ffb200,#ffb700,#ffbe00,#ffc600,#ffd300,#ffe300,#fff900,#eaff15,#c9ff36,#a3ff5c,#7f8,#49ffb6,#1effe1,#00f9ff,#00dfff,#00d1ff,#0cf,#00cdff,#00d3ff,#00dcff,#00e7ff,#00f2ff,#00fcff,#04fffb,#09fff6,#0cfff3,#0ffff0,#1fe,#15ffea,#19ffe6,#1effe1,#25ffda,#2bffd4,#3fc,#3bffc4,#43ffbc,#4cffb3,#5fa,#5fffa0,#6bff94,#78ff87,#8f7,#9bff64,#b0ff4f,#c7ff38,#dfff20,#f5ff0a,#fff700)"></i>
<i style="background:linear-gradient(90deg,#cbff34,#cdff32,#e4ff1b,#fff100,#ffca00,#ffb000,#ffa500,#ffa400,#ffa700,#fa0,#ffad00,#ffaf00,#ffaf00,#ffaf00,#ffaf00,#ffae00,#ffad00,#ffac00,#ffac00,#ffad00,#ffaf00,#ffb200,#ffb500,#ffba00,#ffc100,#ffca00,#ffd600,#ffe700,#fffc00,#e7ff18,#c6ff39,#a0ff5f,#74ff8b,#46ffb9,#1bffe4,#00f5ff,#00dbff,#00cdff,#00c7ff,#00c7ff,#0cf,#00d5ff,#00dfff,#00eaff,#00f3ff,#00faff,#00feff,#01fffe,#03fffc,#05fffa,#09fff6,#0efff1,#13ffec,#1affe5,#21ffde,#29ffd6,#31ffce,#3affc5,#42ffbd,#4cffb3,#56ffa9,#61ff9e,#6eff91,#7eff81,#90ff6f,#a5ff5a,#bcff43,#d5ff2a,#ecff13,#feff01)"></i>
<i style="background:linear-gradient(90deg,#d8ff27,#daff25,#efff10,#ffea00,#ffc700,#ffaf00,#ffa500,#ffa400,#ffa800,#ffac00,#ffaf00,#ffb100,#ffb200,#ffb200,#ffb200,#ffb100,#ffb100,#ffb000,#ffb000,#ffb000,#ffb200,#ffb500,#ffb800,#ffbd00,#ffc400,#ffcd00,#ffd900,#ffea00,#feff01,#e4ff1b,#c3ff3c,#9cff63,#71ff8e,#43ffbc,#17ffe8,#00f2ff,#00d8ff,#00c8ff,#00c1ff,#00c1ff,#00c6ff,#00cdff,#00d7ff,#00e1ff,#00eaff,#00f0ff,#00f4ff,#00f5ff,#00f6ff,#00f8ff,#00fcff,#02fffd,#09fff6,#0ffff0,#17ffe8,#1fffe0,#27ffd8,#30ffcf,#39ffc6,#42ffbd,#4cffb3,#57ffa8,#64ff9b,#73ff8c,#85ff7a,#9aff65,#b1ff4e,#caff35,#e2ff1d,#f6ff09)"></i>
<i style="background:linear-gradient(90deg,#e6ff19,#e8ff17,#fbff04,#ffe300,#ffc300,#ffae00,#ffa500,#ffa500,#ffa900,#ffae00,#ffb200,#ffb400,#ffb500,#ffb600,#ffb600,#ffb500,#ffb400,#ffb400,#ffb300,#ffb400,#ffb500,#ffb800,#fb0,#ffc000,#ffc700,#ffd000,#fd0,#ffed00,#fbff04,#e1ff1e,#c0ff3f,#9f6,#6dff92,#40ffbf,#14ffeb,#0ef,#00d4ff,#00c4ff,#00bcff,#0bf,#00bfff,#00c6ff,#00d0ff,#00d9ff,#00e1ff,#00e7ff,#00eaff,#00eaff,#00ebff,#00ecff,#00f1ff,#00f6ff,#00fdff,#05fffa,#0dfff2,#15ffea,#1dffe2,#26ffd9,#2fffd0,#38ffc7,#42ffbd,#4dffb2,#59ffa6,#68ff97,#7aff85,#8eff71,#a6ff59,#c0ff3f,#d9ff26,#edff12)"></i>
<i style="background:linear-gradient(90deg,#f5ff0a,#f7ff08,#fff700,#ffdb00,#ffbf00,#ffac00,#ffa500,#ffa500,#fa0,#ffb000,#ffb400,#ffb700,#ffb900,#ffb900,#ffb900,#ffb900,#ffb800,#ffb700,#ffb700,#ffb700,#ffb800,#fb0,#ffbe00,#ffc300,#ffca00,#ffd300,#ffe000,#fff100,#f8ff07,#df2,#bdff42,#96ff69,#6aff95,#3cffc3,#1fe,#00ebff,#00d0ff,#00c0ff,#00b7ff,#00b5ff,#00b9ff,#00bfff,#00c8ff,#00d1ff,#00d9ff,#00deff,#00e0ff,#00e0ff,#00dfff,#00e1ff,#00e5ff,#00ebff,#00f2ff,#00faff,#02fffd,#0bfff4,#13ffec,#1cffe3,#25ffda,#2effd1,#38ffc7,#43ffbc,#4fffb0,#5dffa2,#6fff90,#83ff7c,#9aff65,#b4ff4b,#cfff30,#e3ff1c)"></i>
<i style="background:linear-gradient(90deg,#fffa00,#fff800,#ffeb00,#ffd300,#fb0,#ffab00,#ffa500,#ffa600,#ffac00,#ffb200,#ffb700,#ffba00,#ffbc00,#ffbd00,#ffbd00,#ffbd00,#ffbc00,#fb0,#ffba00,#fb0,#ffbc00,#ffbe00,#ffc100,#ffc600,#ffcd00,#ffd700,#ffe400,#fff400,#f5ff0a,#daff25,#baff45,#93ff6c,#67ff98,#39ffc6,#0efff1,#00e8ff,#00cdff,#00bcff,#00b3ff,#00b0ff,#00b2ff,#00b8ff,#00c1ff,#00c9ff,#00d0ff,#00d5ff,#00d6ff,#00d6ff,#00d4ff,#00d5ff,#00daff,#00e1ff,#00e8ff,#00efff,#00f7ff,#01fffe,#0afff5,#13ffec,#1bffe4,#24ffdb,#2effd1,#38ffc7,#4fb,#53ffac,#63ff9c,#7f8,#8eff71,#a9ff56,#c4ff3b,#daff25)"></i>
<i style="background:linear-gradient(90deg,#ffeb00,#ffe900,#ffdf00,#ffcb00,#ffb700,#ffa900,#ffa500,#ffa700,#ffad00,#ffb400,#ffb900,#ffbd00,#ffc000,#ffc100,#ffc100,#ffc100,#ffc000,#ffbf00,#ffbe00,#ffbe00,#ffbf00,#ffc100,#ffc400,#ffc900,#ffd000,#ffda00,#ffe700,#fff800,#f1ff0e,#d7ff28,#b7ff48,#91ff6e,#65ff9a,#36ffc9,#0afff5,#00e4ff,#00c9ff,#00b7ff,#00aeff,#0af,#00acff,#00b1ff,#00b9ff,#00c2ff,#00c8ff,#0cf,#00cdff,#00cbff,#00c9ff,#00caff,#00cfff,#00d6ff,#0df,#00e5ff,#00edff,#00f6ff,#0ff,#09fff6,#12ffed,#1bffe4,#24ffdb,#2effd1,#3affc5,#47ffb8,#57ffa8,#6bff94,#82ff7d,#9dff62,#b9ff46,#d0ff2f)"></i>
<i style="background:linear-gradient(90deg,#ffdc00,#ffdb00,#ffd300,#ffc300,#ffb300,#ffa800,#ffa500,#ffa800,#ffaf00,#ffb600,#ffbc00,#ffc000,#ffc300,#ffc500,#ffc500,#ffc400,#ffc400,#ffc300,#ffc200,#ffc200,#ffc200,#ffc400,#ffc800,#ffcd00,#ffd400,#ffde00,#ffeb00,#fffb00,#ef1,#d4ff2b,#b5ff4a,#8eff71,#62ff9d,#3fc,#07fff8,#00e0ff,#00c5ff,#00b3ff,#00a9ff,#00a4ff,#00a5ff,#00abff,#00b2ff,#00baff,#00c0ff,#00c4ff,#00c4ff,#00c2ff,#00bfff,#00bfff,#00c5ff,#0cf,#00d3ff,#00dbff,#00e3ff,#00ecff,#00f5ff,#00feff,#08fff7,#1fe,#1affe5,#24ffdb,#2fffd0,#3cffc3,#4cffb3,#5effa1,#75ff8a,#90ff6f,#aeff51,#c5ff3a)"></i>
<i style="background:linear-gradient(90deg,#ffcd00,#fc0,#ffc700,#fb0,#ffae00,#ffa600,#ffa500,#ffa900,#ffb100,#ffb900,#ffbf00,#ffc400,#ffc700,#ffc800,#ffc900,#ffc800,#ffc800,#ffc600,#ffc500,#ffc500,#ffc600,#ffc800,#ffcb00,#ffd000,#ffd700,#ffe100,#fe0,#fffe00,#ebff14,#d2ff2d,#b2ff4d,#8cff73,#5fffa0,#31ffce,#04fffb,#0df,#00c1ff,#00afff,#00a4ff,#009fff,#009fff,#00a4ff,#00abff,#00b3ff,#00b8ff,#0bf,#0bf,#00b9ff,#00b5ff,#00b5ff,#0bf,#00c2ff,#00c9ff,#00d1ff,#00d9ff,#00e2ff,#00ebff,#00f5ff,#00fdff,#07fff8,#10ffef,#1affe5,#25ffda,#31ffce,#40ffbf,#52ffad,#68ff97,#83ff7c,#a1ff5e,#baff45)"></i>
<i style="background:linear-gradient(90deg,#ffbe00,#ffbe00,#ffbc00,#ffb400,#fa0,#ffa400,#ffa500,#ffab00,#ffb300,#ffbc00,#ffc200,#ffc700,#ffca00,#fc0,#ffcd00,#ffcd00,#fc0,#ffca00,#ffc900,#ffc900,#ffc900,#ffcb00,#ffce00,#ffd300,#ffda00,#ffe400,#fff100,#fcff03,#e8ff17,#cfff30,#b0ff4f,#89ff76,#5dffa2,#2effd1,#0ff,#00d9ff,#00bdff,#00abff,#009fff,#09f,#09f,#009dff,#00a4ff,#00abff,#00b1ff,#00b3ff,#00b3ff,#00b0ff,#00acff,#00acff,#00b1ff,#00b8ff,#00bfff,#00c7ff,#00d0ff,#00d9ff,#00e2ff,#00ebff,#00f4ff,#00fcff,#06fff9,#10ffef,#1affe5,#26ffd9,#34ffcb,#45ffba,#5affa5,#76ff89,#94ff6b,#aeff51)"></i>
<i style="background:linear-gradient(90deg,#ffb000,#ffb100,#ffb100,#ffac00,#ffa600,#ffa300,#ffa500,#ffac00,#ffb500,#ffbf00,#ffc600,#ffcb00,#ffce00,#ffd000,#ffd100,#ffd100,#ffd000,#ffce00,#ffcd00,#fc0,#ffcd00,#ffce00,#ffd100,#ffd600,#fd0,#ffe700,#fff500,#f9ff06,#e5ff1a,#cf3,#adff52,#87ff78,#5affa5,#2bffd4,#00fcff,#00d5ff,#00b9ff,#00a7ff,#009aff,#0094ff,#0093ff,#0097ff,#009dff,#00a4ff,#00a9ff,#00acff,#00abff,#00a7ff,#00a3ff,#00a3ff,#00a8ff,#00afff,#00b6ff,#00beff,#00c6ff,#00cfff,#00d8ff,#00e2ff,#00eaff,#00f3ff,#00fbff,#05fffa,#0ffff0,#1bffe4,#28ffd7,#38ffc7,#4dffb2,#68ff97,#86ff79,#a1ff5e)"></i>
<i style="background:linear-gradient(90deg,#ffa200,#ffa500,#ffa700,#ffa600,#ffa200,#ffa100,#ffa500,#ffae00,#ffb800,#ffc100,#ffc900,#ffce00,#ffd200,#ffd400,#ffd500,#ffd500,#ffd400,#ffd200,#ffd100,#ffd000,#ffd000,#ffd100,#ffd400,#ffd900,#ffe000,#ffeb00,#fff800,#f6ff09,#e2ff1d,#caff35,#abff54,#85ff7a,#58ffa7,#28ffd7,#00f9ff,#00d1ff,#00b5ff,#00a2ff,#0096ff,#008eff,#008dff,#0091ff,#0097ff,#009dff,#00a2ff,#00a4ff,#00a3ff,#009fff,#009cff,#009bff,#00a0ff,#00a6ff,#00adff,#00b4ff,#00bdff,#00c6ff,#00cfff,#00d8ff,#00e1ff,#00e9ff,#00f1ff,#00faff,#05fffa,#10ffef,#1cffe3,#2bffd4,#3fffc0,#59ffa6,#7f8,#92ff6d)"></i>
<i style="background:linear-gradient(90deg,#ff9600,#f90,#ff9e00,#ff9f00,#ff9e00,#ffa000,#ffa600,#ffaf00,#ffba00,#ffc500,#fc0,#ffd200,#ffd600,#ffd800,#ffd900,#ffd900,#ffd800,#ffd600,#ffd500,#ffd400,#ffd400,#ffd500,#ffd700,#ffdc00,#ffe300,#fe0,#fffb00,#f3ff0c,#dfff20,#c7ff38,#a9ff56,#83ff7c,#56ffa9,#26ffd9,#00f6ff,#00ceff,#00b0ff,#009eff,#0091ff,#0089ff,#0087ff,#008bff,#0090ff,#0097ff,#009bff,#009dff,#009bff,#0098ff,#0094ff,#0094ff,#0097ff,#009dff,#00a4ff,#00abff,#00b3ff,#00bcff,#00c6ff,#00cfff,#00d7ff,#00dfff,#00e7ff,#00f0ff,#00f9ff,#05fffa,#10ffef,#1fffe0,#31ffce,#4affb5,#67ff98,#81ff7e)"></i>
<i style="background:linear-gradient(90deg,#ff8a00,#ff8f00,#ff9600,#ff9a00,#ff9b00,#ff9f00,#ffa600,#ffb100,#ffbd00,#ffc800,#ffd000,#ffd600,#ffda00,#fd0,#ffde00,#fd0,#ffdc00,#ffda00,#ffd900,#ffd700,#ffd700,#ffd800,#ffdb00,#ffdf00,#ffe600,#fff100,#fffe00,#f0ff0f,#df2,#c5ff3a,#a6ff59,#81ff7e,#54ffab,#23ffdc,#00f3ff,#00caff,#00acff,#009aff,#008cff,#0084ff,#0082ff,#0085ff,#008aff,#0090ff,#0095ff,#0096ff,#0094ff,#0090ff,#008dff,#008dff,#0090ff,#0095ff,#009bff,#00a2ff,#0af,#00b3ff,#00bcff,#00c5ff,#00ceff,#00d6ff,#0df,#00e6ff,#00efff,#00f8ff,#05fffa,#12ffed,#23ffdc,#3bffc4,#57ffa8,#6eff91)"></i>
<i style="background:linear-gradient(90deg,#ff8000,#ff8600,#ff8f00,#ff9500,#f90,#ff9e00,#ffa700,#ffb300,#ffbf00,#ffcb00,#ffd300,#ffd900,#ffde00,#ffe100,#ffe200,#ffe200,#ffe000,#ffde00,#fd0,#ffdb00,#ffdb00,#ffdb00,#ffde00,#ffe200,#ffe900,#fff300,#fdff02,#edff12,#daff25,#c2ff3d,#a4ff5b,#7fff80,#51ffae,#21ffde,#00f0ff,#00c6ff,#00a9ff,#0095ff,#08f,#007fff,#007cff,#007fff,#0084ff,#008aff,#008eff,#008fff,#008dff,#0089ff,#0087ff,#0086ff,#08f,#008cff,#0092ff,#09f,#00a1ff,#0af,#00b3ff,#00bcff,#00c4ff,#0cf,#00d4ff,#00dcff,#00e4ff,#00edff,#00f8ff,#05fffa,#15ffea,#2cffd3,#46ffb9,#5cffa3)"></i>
<i style="background:linear-gradient(90deg,#f70,#ff7f00,#ff8900,#ff9100,#ff9600,#ff9e00,#ffa800,#ffb400,#ffc200,#ffce00,#ffd600,#fd0,#ffe200,#ffe500,#ffe600,#ffe600,#ffe500,#ffe300,#ffe100,#ffdf00,#ffde00,#ffdf00,#ffe100,#ffe500,#ffec00,#fff600,#faff05,#ebff14,#d8ff27,#c0ff3f,#a2ff5d,#7dff82,#4fffb0,#1effe1,#0ef,#00c3ff,#00a5ff,#0091ff,#0083ff,#007aff,#07f,#0079ff,#007eff,#0084ff,#08f,#08f,#0086ff,#0083ff,#0080ff,#007fff,#0081ff,#0085ff,#008aff,#0090ff,#0098ff,#00a1ff,#0af,#00b3ff,#0bf,#00c2ff,#00caff,#00d2ff,#00daff,#00e3ff,#00ecff,#00f8ff,#07fff8,#1dffe2,#36ffc9,#49ffb6)"></i>
<i style="background:linear-gradient(90deg,#ff7100,#ff7900,#ff8500,#ff8e00,#ff9500,#ff9e00,#ffa900,#ffb600,#ffc400,#ffd000,#ffda00,#ffe100,#ffe600,#ffe900,#ffeb00,#ffeb00,#ffe900,#ffe700,#ffe500,#ffe300,#ffe200,#ffe200,#ffe400,#ffe800,#ffef00,#fff900,#f8ff07,#e8ff17,#d5ff2a,#beff41,#a0ff5f,#7bff84,#4dffb2,#1cffe3,#00ebff,#00c1ff,#00a2ff,#008eff,#007fff,#0076ff,#0072ff,#0074ff,#0078ff,#007dff,#0081ff,#0082ff,#007fff,#007cff,#007aff,#0079ff,#007aff,#007dff,#0082ff,#08f,#008fff,#0098ff,#00a1ff,#0af,#00b2ff,#00b9ff,#00c0ff,#00c8ff,#00d0ff,#00d8ff,#00e1ff,#00ecff,#00faff,#0ffff0,#26ffd9,#39ffc6)"></i>
<i style="background:linear-gradient(90deg,#ff6e00,#ff7500,#ff8100,#ff8b00,#ff9400,#ff9e00,#ffab00,#ffb800,#ffc600,#ffd300,#fd0,#ffe400,#ffea00,#ffed00,#ffef00,#ffef00,#ffed00,#ffeb00,#ffe900,#ffe700,#ffe500,#ffe500,#ffe700,#ffeb00,#fff200,#fffb00,#f6ff09,#e6ff19,#d3ff2c,#bf4,#9dff62,#78ff87,#4bffb4,#1affe5,#00e9ff,#00bfff,#009fff,#008aff,#007bff,#0071ff,#006dff,#006fff,#0073ff,#0078ff,#007bff,#007bff,#0079ff,#0076ff,#0073ff,#0072ff,#0073ff,#0075ff,#007aff,#0080ff,#0087ff,#008fff,#0098ff,#00a1ff,#00a8ff,#00afff,#00b7ff,#00beff,#00c5ff,#00cdff,#00d6ff,#00e0ff,#00edff,#01fffe,#16ffe9,#29ffd6)"></i>
<i style="background:linear-gradient(90deg,#ff6b00,#ff7200,#ff7f00,#ff8a00,#ff9400,#ff9f00,#ffac00,#fb0,#ffc900,#ffd600,#ffe000,#ffe800,#fe0,#fff200,#fff400,#fff300,#fff200,#ffef00,#ffed00,#ffea00,#ffe900,#ffe900,#ffea00,#fe0,#fff400,#fffe00,#f3ff0c,#e4ff1b,#d1ff2e,#b9ff46,#9bff64,#76ff89,#48ffb7,#18ffe7,#00e7ff,#00bdff,#009dff,#0087ff,#07f,#006dff,#0069ff,#006aff,#006eff,#0072ff,#0075ff,#0075ff,#0073ff,#0070ff,#006dff,#006cff,#006cff,#006eff,#0072ff,#0078ff,#007fff,#0087ff,#008fff,#0097ff,#009fff,#00a6ff,#00adff,#00b4ff,#0bf,#00c3ff,#00cbff,#00d5ff,#00e1ff,#00f3ff,#07fff8,#19ffe6)"></i>
<i style="background:linear-gradient(90deg,#ff6a00,#ff7100,#ff7d00,#ff8900,#ff9500,#ffa100,#ffae00,#ffbd00,#ffcb00,#ffd800,#ffe300,#ffeb00,#fff200,#fff600,#fff800,#fff800,#fff600,#fff400,#fff100,#fe0,#ffed00,#ffec00,#fe0,#fff100,#fff700,#feff01,#f1ff0e,#e2ff1d,#cfff30,#b7ff48,#9f6,#73ff8c,#46ffb9,#16ffe9,#00e5ff,#0bf,#009aff,#0084ff,#0074ff,#006aff,#0065ff,#0065ff,#0068ff,#006cff,#006fff,#006fff,#006dff,#006aff,#0067ff,#0065ff,#0065ff,#0067ff,#006bff,#0070ff,#0076ff,#007eff,#0086ff,#008eff,#0096ff,#009dff,#00a4ff,#0af,#00b1ff,#00b9ff,#00c1ff,#00caff,#00d6ff,#00e6ff,#00f8ff,#0bfff4)"></i>
<i style="background:linear-gradient(90deg,#ff6a00,#ff7000,#ff7c00,#ff8900,#ff9600,#ffa200,#ffb000,#ffbf00,#ffce00,#ffdb00,#ffe600,#ffef00,#fff600,#fffb00,#fffd00,#fffd00,#fffb00,#fff800,#fff500,#fff200,#fff000,#fff000,#fff100,#fff400,#fffa00,#fbff04,#efff10,#e0ff1f,#cdff32,#b5ff4a,#96ff69,#71ff8e,#4fb,#14ffeb,#00e3ff,#00b9ff,#0098ff,#0081ff,#0070ff,#06f,#0061ff,#0061ff,#0063ff,#0067ff,#0069ff,#0069ff,#0067ff,#0064ff,#0061ff,#005fff,#005fff,#0060ff,#0063ff,#0068ff,#006eff,#0076ff,#007eff,#0085ff,#008dff,#0094ff,#009aff,#00a1ff,#00a8ff,#00afff,#00b6ff,#00bfff,#00caff,#00d9ff,#00eaff,#00fbff)"></i>
<i style="background:linear-gradient(90deg,#ff6b00,#ff7100,#ff7d00,#ff8a00,#ff9700,#ffa400,#ffb300,#ffc200,#ffd000,#ffde00,#ffe900,#fff300,#fffa00,#ff0,#fdff02,#fdff02,#ff0,#fffc00,#fff900,#fff600,#fff400,#fff300,#fff400,#fff700,#fffc00,#f9ff06,#edff12,#deff21,#cbff34,#b3ff4c,#94ff6b,#6eff91,#42ffbd,#12ffed,#00e1ff,#00b7ff,#0096ff,#007eff,#006dff,#0062ff,#005dff,#005cff,#005fff,#0062ff,#0063ff,#0063ff,#0061ff,#005eff,#005bff,#0059ff,#0058ff,#0059ff,#005cff,#0061ff,#0067ff,#006eff,#0075ff,#007dff,#0084ff,#008bff,#0091ff,#0098ff,#009eff,#00a5ff,#00acff,#00b4ff,#00bfff,#00cdff,#0df,#00edff)"></i>
<i style="background:linear-gradient(90deg,#ff6c00,#ff7200,#ff7e00,#ff8b00,#f90,#ffa700,#ffb500,#ffc400,#ffd300,#ffe000,#ffec00,#fff600,#fffe00,#fbff04,#f8ff07,#f8ff07,#faff05,#fdff02,#fffd00,#fffa00,#fff800,#fff700,#fff700,#fffa00,#ff0,#f7ff08,#ecff13,#df2,#caff35,#b1ff4e,#92ff6d,#6cff93,#40ffbf,#10ffef,#00e0ff,#00b6ff,#0094ff,#007bff,#006aff,#005fff,#0059ff,#0058ff,#005aff,#005cff,#005eff,#005eff,#005bff,#0058ff,#05f,#0053ff,#0052ff,#0053ff,#05f,#0059ff,#005fff,#0065ff,#006dff,#0074ff,#007bff,#0082ff,#08f,#008eff,#0095ff,#009bff,#00a2ff,#0af,#00b4ff,#00c1ff,#00d0ff,#00e0ff)"></i>
<i style="background:linear-gradient(90deg,#ff6e00,#ff7400,#ff7f00,#ff8d00,#ff9b00,#ffa900,#ffb800,#ffc700,#ffd500,#ffe300,#ffef00,#fffa00,#fcff03,#f6ff09,#f3ff0c,#f4ff0b,#f6ff09,#f9ff06,#fdff02,#fffe00,#fffb00,#fffa00,#fffa00,#fffd00,#fdff02,#f5ff0a,#eaff15,#dbff24,#c8ff37,#afff50,#90ff6f,#6aff95,#3effc1,#0efff1,#00deff,#00b4ff,#0092ff,#0079ff,#0067ff,#005cff,#0056ff,#0054ff,#05f,#0058ff,#0059ff,#0058ff,#0056ff,#0053ff,#004fff,#004dff,#004cff,#004cff,#004eff,#0052ff,#0057ff,#005eff,#0065ff,#006cff,#0072ff,#0079ff,#007fff,#0085ff,#008cff,#0092ff,#09f,#00a0ff,#0af,#00b6ff,#00c4ff,#00d2ff)"></i>
<i style="background:linear-gradient(90deg,#ff7000,#ff7600,#ff8200,#ff8f00,#ff9e00,#ffac00,#fb0,#ffca00,#ffd800,#ffe600,#fff300,#fffd00,#f8ff07,#f2ff0d,#efff10,#efff10,#f1ff0e,#f5ff0a,#f8ff07,#fcff03,#ff0,#fffe00,#fffd00,#ff0,#faff05,#f3ff0c,#e8ff17,#d9ff26,#c6ff39,#adff52,#8eff71,#68ff97,#3cffc3,#0dfff2,#0df,#00b3ff,#0090ff,#07f,#0064ff,#0059ff,#0052ff,#0050ff,#0051ff,#0053ff,#0054ff,#0053ff,#0051ff,#004dff,#004aff,#0047ff,#0046ff,#0046ff,#0048ff,#004bff,#0050ff,#0056ff,#005dff,#0063ff,#006aff,#0070ff,#0076ff,#007cff,#0083ff,#0089ff,#008fff,#0097ff,#00a0ff,#00abff,#00b8ff,#00c5ff)"></i>
<i style="background:linear-gradient(90deg,#ff7200,#ff7900,#ff8400,#ff9200,#ffa100,#ffaf00,#ffbe00,#fc0,#ffdb00,#ffe900,#fff600,#fdff02,#f4ff0b,#edff12,#eaff15,#eaff15,#edff12,#f0ff0f,#f4ff0b,#f8ff07,#fbff04,#fdff02,#fdff02,#fcff03,#f8ff07,#f1ff0e,#e6ff19,#d8ff27,#c4ff3b,#acff53,#8cff73,#6f9,#3affc5,#0bfff4,#00dbff,#00b1ff,#008eff,#0074ff,#0062ff,#0056ff,#004fff,#004cff,#004dff,#004eff,#004fff,#004eff,#004bff,#0048ff,#04f,#0041ff,#0040ff,#0040ff,#0041ff,#04f,#0049ff,#004eff,#05f,#005bff,#0062ff,#0068ff,#006eff,#0074ff,#007aff,#0080ff,#0086ff,#008dff,#0096ff,#00a0ff,#00acff,#00b9ff)"></i>
<i style="background:linear-gradient(90deg,#ff7400,#ff7c00,#ff8700,#ff9500,#ffa400,#ffb300,#ffc100,#ffcf00,#fd0,#ffeb00,#fff900,#f9ff06,#f0ff0f,#e9ff16,#e5ff1a,#e6ff19,#e8ff17,#ecff13,#f0ff0f,#f4ff0b,#f7ff08,#f9ff06,#faff05,#f9ff06,#f5ff0a,#ef1,#e4ff1b,#d6ff29,#c3ff3c,#af5,#8bff74,#65ff9a,#39ffc6,#09fff6,#00daff,#00b0ff,#008dff,#0072ff,#005fff,#0053ff,#004cff,#0049ff,#0049ff,#004aff,#004aff,#0049ff,#0046ff,#0043ff,#003fff,#003cff,#003aff,#003aff,#003bff,#003eff,#0042ff,#0047ff,#004dff,#0053ff,#0059ff,#0060ff,#06f,#006bff,#0071ff,#07f,#007dff,#0084ff,#008cff,#0095ff,#00a0ff,#00acff)"></i>
<i style="background:linear-gradient(90deg,#f70,#ff7f00,#ff8a00,#ff9800,#ffa700,#ffb600,#ffc400,#ffd200,#ffe000,#fe0,#fffc00,#f6ff09,#ebff14,#e4ff1b,#e1ff1e,#e1ff1e,#e3ff1c,#e7ff18,#ecff13,#f0ff0f,#f3ff0c,#f6ff09,#f7ff08,#f6ff09,#f2ff0d,#ecff13,#e2ff1d,#d4ff2b,#c1ff3e,#a8ff57,#89ff76,#63ff9c,#37ffc8,#08fff7,#00d8ff,#00aeff,#008bff,#0070ff,#005cff,#0050ff,#0048ff,#0045ff,#0045ff,#0046ff,#0046ff,#0045ff,#0042ff,#003eff,#003aff,#0036ff,#0034ff,#0034ff,#0035ff,#0037ff,#003bff,#0040ff,#0046ff,#004bff,#0052ff,#0058ff,#005dff,#0063ff,#0069ff,#006fff,#0075ff,#007bff,#0083ff,#008bff,#0095ff,#00a0ff)"></i>
<i style="background:linear-gradient(90deg,#ff7a00,#ff8200,#ff8e00,#ff9c00,#ffab00,#ffba00,#ffc800,#ffd500,#ffe300,#fff100,#ff0,#f2ff0d,#e7ff18,#e0ff1f,#dcff23,#dcff23,#dfff20,#e3ff1c,#e8ff17,#ecff13,#efff10,#f2ff0d,#f3ff0c,#f3ff0c,#f0ff0f,#eaff15,#e0ff1f,#d3ff2c,#c0ff3f,#a7ff58,#87ff78,#62ff9d,#36ffc9,#07fff8,#00d7ff,#00acff,#0089ff,#006eff,#005aff,#004dff,#0045ff,#0042ff,#0041ff,#0042ff,#0042ff,#0040ff,#003dff,#0039ff,#0035ff,#0031ff,#002fff,#002eff,#002fff,#0031ff,#0034ff,#0039ff,#003eff,#04f,#004aff,#0050ff,#0056ff,#005bff,#0061ff,#06f,#006cff,#0073ff,#0079ff,#0081ff,#008aff,#0094ff)"></i>
<i style="background:linear-gradient(90deg,#ff7d00,#ff8600,#ff9200,#ffa000,#ffaf00,#ffbd00,#ffcb00,#ffd800,#ffe600,#fff300,#fcff03,#efff10,#e3ff1c,#dbff24,#d7ff28,#d8ff27,#daff25,#dfff20,#e4ff1b,#e8ff17,#ecff13,#ef1,#f0ff0f,#efff10,#edff12,#e7ff18,#deff21,#d1ff2e,#beff41,#a5ff5a,#86ff79,#60ff9f,#34ffcb,#05fffa,#00d5ff,#00abff,#0087ff,#006bff,#0058ff,#004aff,#0042ff,#003eff,#003dff,#003eff,#003dff,#003cff,#0038ff,#0034ff,#0030ff,#002cff,#002aff,#0028ff,#0029ff,#002bff,#002eff,#0032ff,#0037ff,#003dff,#0042ff,#0048ff,#004eff,#0053ff,#0059ff,#005eff,#0064ff,#006aff,#0071ff,#07f,#007fff,#0089ff)"></i>
<i style="background:linear-gradient(90deg,#ff8100,#ff8900,#ff9500,#ffa400,#ffb300,#ffc100,#ffce00,#ffdb00,#ffe800,#fff600,#f9ff06,#ecff13,#dfff20,#d7ff28,#d3ff2c,#d3ff2c,#d6ff29,#daff25,#dfff20,#e4ff1b,#e8ff17,#ebff14,#ecff13,#ecff13,#eaff15,#e5ff1a,#dcff23,#cfff30,#bcff43,#a4ff5b,#84ff7b,#5fffa0,#3fc,#04fffb,#00d4ff,#00a9ff,#0085ff,#0069ff,#05f,#0047ff,#003fff,#003bff,#003aff,#003aff,#0039ff,#0037ff,#0034ff,#002fff,#002bff,#0027ff,#0024ff,#0023ff,#0023ff,#0025ff,#0028ff,#002cff,#0030ff,#0036ff,#003bff,#0041ff,#0046ff,#004cff,#0051ff,#0057ff,#005cff,#0062ff,#0068ff,#006eff,#0075ff,#007dff)"></i>
<i style="background:linear-gradient(90deg,#ff8400,#ff8d00,#f90,#ffa700,#ffb700,#ffc500,#ffd200,#ffde00,#ffeb00,#fff900,#f7ff08,#e8ff17,#dcff23,#d2ff2d,#ceff31,#ceff31,#d2ff2d,#d6ff29,#dbff24,#e0ff1f,#e4ff1b,#e7ff18,#e9ff16,#e9ff16,#e7ff18,#e2ff1d,#daff25,#cdff32,#bf4,#a2ff5d,#83ff7c,#5dffa2,#32ffcd,#03fffc,#00d2ff,#00a7ff,#0083ff,#0067ff,#0053ff,#0045ff,#003cff,#0038ff,#0036ff,#0036ff,#0035ff,#03f,#0030ff,#002bff,#0026ff,#02f,#001fff,#001eff,#001eff,#001fff,#02f,#0026ff,#002aff,#002fff,#0034ff,#003aff,#003fff,#04f,#004aff,#004fff,#05f,#005aff,#005fff,#0065ff,#006aff,#0072ff)"></i>
<i style="background:linear-gradient(90deg,#ff8700,#ff9100,#ff9d00,#ffab00,#fb0,#ffc900,#ffd500,#ffe100,#ffed00,#fffb00,#f4ff0b,#e5ff1a,#d8ff27,#ceff31,#caff35,#caff35,#cdff32,#d2ff2d,#d7ff28,#dbff24,#dfff20,#e3ff1c,#e5ff1a,#e5ff1a,#e4ff1b,#e0ff1f,#d8ff27,#cbff34,#b9ff46,#a0ff5f,#82ff7d,#5cffa3,#31ffce,#01fffe,#00d1ff,#00a6ff,#0081ff,#0065ff,#0050ff,#0042ff,#0039ff,#0034ff,#0032ff,#0032ff,#0032ff,#002fff,#002bff,#0026ff,#02f,#001dff,#001bff,#0019ff,#0018ff,#0019ff,#001cff,#001fff,#0024ff,#0028ff,#002dff,#03f,#0038ff,#003dff,#0042ff,#0048ff,#004dff,#0052ff,#0057ff,#005cff,#0060ff,#0067ff)"></i>
<i style="background:linear-gradient(90deg,#ff8b00,#ff9400,#ffa100,#ffaf00,#ffbf00,#fc0,#ffd800,#ffe400,#fff000,#fffe00,#f1ff0e,#e2ff1d,#d4ff2b,#caff35,#c5ff3a,#c6ff39,#c9ff36,#ceff31,#d3ff2c,#d7ff28,#dbff24,#dfff20,#e1ff1e,#e2ff1d,#e1ff1e,#df2,#d6ff29,#c9ff36,#b7ff48,#9fff60,#80ff7f,#5bffa4,#2fffd0,#0ff,#00d0ff,#00a4ff,#007fff,#0063ff,#004eff,#0040ff,#0036ff,#0031ff,#002fff,#002fff,#002eff,#002cff,#0027ff,#02f,#001dff,#0019ff,#0016ff,#0014ff,#0013ff,#0014ff,#0016ff,#001aff,#001dff,#02f,#0027ff,#002cff,#0032ff,#0037ff,#003bff,#0041ff,#0046ff,#004bff,#004fff,#0053ff,#0057ff,#005cff)"></i>
<i style="background:linear-gradient(90deg,#ff8e00,#ff9800,#ffa400,#ffb300,#ffc200,#ffd000,#ffdb00,#ffe700,#fff300,#feff01,#ef1,#deff21,#d0ff2f,#c6ff39,#c1ff3e,#c1ff3e,#c5ff3a,#c9ff36,#cfff30,#d3ff2c,#d7ff28,#dbff24,#df2,#deff21,#df2,#daff25,#d3ff2c,#c7ff38,#b5ff4a,#9dff62,#7fff80,#5affa5,#2effd1,#00feff,#00ceff,#00a2ff,#007eff,#0061ff,#004cff,#003dff,#03f,#002eff,#002cff,#002bff,#002aff,#0028ff,#0023ff,#001eff,#0019ff,#0014ff,#01f,#000fff,#000eff,#000fff,#01f,#0014ff,#0018ff,#001cff,#0021ff,#0026ff,#002bff,#0030ff,#0035ff,#003aff,#003fff,#0043ff,#0047ff,#004aff,#004dff,#0052ff)"></i>
<i style="background:linear-gradient(90deg,#ff9100,#ff9b00,#ffa800,#ffb600,#ffc600,#ffd300,#ffde00,#ffe900,#fff500,#fbff04,#ecff13,#dbff24,#cdff32,#c2ff3d,#bdff42,#bdff42,#c0ff3f,#c5ff3a,#caff35,#cfff30,#d3ff2c,#d7ff28,#d9ff26,#daff25,#daff25,#d7ff28,#d0ff2f,#c5ff3a,#b3ff4c,#9bff64,#7dff82,#58ffa7,#2dffd2,#00fdff,#00cdff,#00a1ff,#007cff,#005fff,#004aff,#003aff,#0030ff,#002bff,#0028ff,#0027ff,#0027ff,#0024ff,#001fff,#001aff,#0015ff,#0010ff,#000dff,#000bff,#000aff,#000aff,#000cff,#000fff,#0012ff,#0016ff,#001bff,#0020ff,#0025ff,#002aff,#002eff,#03f,#0038ff,#003cff,#0040ff,#0042ff,#04f,#0048ff)"></i>
<i style="background:linear-gradient(90deg,#ff9400,#ff9e00,#ffab00,#ffba00,#ffc900,#ffd700,#ffe100,#ffec00,#fff800,#f9ff06,#e9ff16,#d9ff26,#caff35,#beff41,#b9ff46,#b9ff46,#bcff43,#c1ff3e,#c6ff39,#caff35,#cfff30,#d2ff2d,#d5ff2a,#d7ff28,#d6ff29,#d3ff2c,#cdff32,#c2ff3d,#b0ff4f,#9f6,#7bff84,#57ffa8,#2cffd3,#00fbff,#0cf,#009fff,#007aff,#005dff,#0047ff,#0038ff,#002dff,#0027ff,#0025ff,#0024ff,#0023ff,#0020ff,#001cff,#0016ff,#01f,#000cff,#0009ff,#0007ff,#0005ff,#0005ff,#0007ff,#000aff,#000dff,#0010ff,#0015ff,#001aff,#001fff,#0024ff,#0028ff,#002dff,#0031ff,#0035ff,#0038ff,#003aff,#003bff,#003eff)"></i>
<i style="background:linear-gradient(90deg,#ff9700,#ffa100,#ffae00,#ffbd00,#fc0,#ffd900,#ffe400,#ffef00,#fffa00,#f6ff09,#e6ff19,#d6ff29,#c6ff39,#bf4,#b5ff4a,#b5ff4a,#b8ff47,#bdff42,#c2ff3d,#c6ff39,#caff35,#ceff31,#d1ff2e,#d2ff2d,#d2ff2d,#d0ff2f,#caff35,#bfff40,#aeff51,#97ff68,#79ff86,#56ffa9,#2affd5,#00faff,#00cbff,#009eff,#0079ff,#005bff,#0045ff,#0035ff,#002bff,#0024ff,#0021ff,#0020ff,#001fff,#001cff,#0018ff,#0012ff,#000dff,#0008ff,#0005ff,#0002ff,#0001ff,#0001ff,#0002ff,#0005ff,#0008ff,#000bff,#0010ff,#0015ff,#001aff,#001eff,#02f,#0027ff,#002bff,#002eff,#0031ff,#0032ff,#0032ff,#0035ff)"></i>
<i style="background:linear-gradient(90deg,#f90,#ffa400,#ffb100,#ffc000,#ffcf00,#ffdc00,#ffe700,#fff100,#fffd00,#f4ff0b,#e4ff1b,#d3ff2c,#c3ff3c,#b7ff48,#b2ff4d,#b1ff4e,#b4ff4b,#b8ff47,#bdff42,#c2ff3d,#c6ff39,#c9ff36,#cdff32,#ceff31,#ceff31,#cf3,#c7ff38,#bcff43,#abff54,#94ff6b,#7f8,#54ffab,#29ffd6,#00f9ff,#00c9ff,#009dff,#07f,#005aff,#0043ff,#0032ff,#0027ff,#0021ff,#001eff,#001dff,#001cff,#0019ff,#0014ff,#000fff,#0009ff,#0005ff,#0001ff,#0000fe,#0000fc,#0000fc,#0000fd,#00f,#0003ff,#0006ff,#000bff,#0010ff,#0014ff,#0019ff,#001dff,#0021ff,#0025ff,#0028ff,#002aff,#002aff,#0029ff,#002bff)"></i>
<i style="background:linear-gradient(90deg,#ff9b00,#ffa600,#ffb300,#ffc200,#ffd100,#ffde00,#ffe900,#fff300,#ff0,#f1ff0e,#e1ff1e,#d0ff2f,#c1ff3e,#b5ff4a,#afff50,#aeff51,#b0ff4f,#b4ff4b,#b9ff46,#bdff42,#c1ff3e,#c5ff3a,#c8ff37,#caff35,#caff35,#c8ff37,#c3ff3c,#b9ff46,#a8ff57,#92ff6d,#75ff8a,#52ffad,#27ffd8,#00f8ff,#00c8ff,#009cff,#0076ff,#0058ff,#0041ff,#0030ff,#0024ff,#001eff,#001aff,#0019ff,#0018ff,#0015ff,#01f,#000bff,#0006ff,#0001ff,#0000fc,#0000fa,#0000f8,#0000f8,#0000f9,#0000fb,#0000fe,#0002ff,#0006ff,#000bff,#000fff,#0014ff,#0017ff,#001bff,#001fff,#0021ff,#0023ff,#02f,#0021ff,#0023ff)"></i>
<i style="background:linear-gradient(90deg,#ff9d00,#ffa800,#ffb600,#ffc400,#ffd300,#ffe000,#ffeb00,#fff600,#fdff02,#efff10,#dfff20,#ceff31,#beff41,#b2ff4d,#abff54,#af5,#acff53,#b0ff4f,#b4ff4b,#b9ff46,#bdff42,#c0ff3f,#c3ff3c,#c5ff3a,#c6ff39,#c4ff3b,#bfff40,#b5ff4a,#a5ff5a,#8fff70,#73ff8c,#50ffaf,#26ffd9,#00f6ff,#00c7ff,#009bff,#0075ff,#0056ff,#003fff,#002dff,#0021ff,#001aff,#0017ff,#0016ff,#0014ff,#01f,#000dff,#0008ff,#0002ff,#0000fd,#0000f9,#0000f6,#0000f4,#0000f4,#0000f5,#0000f7,#0000f9,#0000fc,#0001ff,#0006ff,#000bff,#000fff,#0012ff,#0016ff,#0019ff,#001bff,#001cff,#001aff,#0019ff,#001aff)"></i>
<i style="background:linear-gradient(90deg,#ff9f00,#fa0,#ffb800,#ffc700,#ffd500,#ffe200,#ffed00,#fff800,#faff05,#edff12,#dcff23,#cbff34,#bf4,#afff50,#a8ff57,#a7ff58,#a8ff57,#acff53,#b0ff4f,#b4ff4b,#b8ff47,#bcff43,#bfff40,#c1ff3e,#c2ff3d,#c0ff3f,#bf4,#b1ff4e,#a2ff5d,#8dff72,#71ff8e,#4effb1,#24ffdb,#00f5ff,#00c6ff,#009aff,#0074ff,#05f,#003cff,#002aff,#001eff,#0017ff,#0014ff,#0012ff,#01f,#000eff,#000aff,#0004ff,#0000fe,#0000f9,#0000f6,#0000f3,#0000f1,#0000f0,#0000f1,#0000f3,#0000f5,#0000f8,#0000fc,#0002ff,#0006ff,#000aff,#000dff,#01f,#0013ff,#0015ff,#0015ff,#0013ff,#01f,#0012ff)"></i>
<i style="background:linear-gradient(90deg,#ffa000,#ffac00,#ffba00,#ffc900,#ffd700,#ffe400,#ffef00,#fffa00,#f8ff07,#eaff15,#daff25,#c9ff36,#b9ff46,#adff52,#a6ff59,#a3ff5c,#a5ff5a,#a8ff57,#acff53,#b0ff4f,#b3ff4c,#b7ff48,#baff45,#bcff43,#bdff42,#bcff43,#b7ff48,#aeff51,#9fff60,#8aff75,#6eff91,#4cffb3,#23ffdc,#00f4ff,#00c5ff,#09f,#0072ff,#0053ff,#003aff,#0028ff,#001bff,#0014ff,#0010ff,#000fff,#000dff,#000aff,#0006ff,#0001ff,#0000fb,#0000f6,#0000f2,#0000ef,#00e,#0000ed,#0000ed,#0000ef,#0000f1,#0000f4,#0000f8,#0000fc,#0001ff,#0005ff,#0009ff,#000cff,#000eff,#000fff,#000eff,#000cff,#000aff,#0009ff)"></i>
<i style="background:linear-gradient(90deg,#ffa200,#ffae00,#ffbc00,#ffca00,#ffd900,#ffe600,#fff100,#fffc00,#f6ff09,#e8ff17,#d8ff27,#c7ff38,#b7ff48,#af5,#a3ff5c,#a0ff5f,#a1ff5e,#a4ff5b,#a7ff58,#abff54,#afff50,#b2ff4d,#b5ff4a,#b7ff48,#b8ff47,#b7ff48,#b3ff4c,#af5,#9bff64,#87ff78,#6cff93,#4affb5,#21ffde,#00f2ff,#00c4ff,#0098ff,#0071ff,#0051ff,#0038ff,#0025ff,#0018ff,#01f,#000dff,#000bff,#000aff,#0007ff,#0003ff,#0000fd,#0000f8,#0000f3,#0000ef,#0000ec,#0000ea,#0000e9,#0000ea,#0000eb,#00e,#0000f1,#0000f4,#0000f8,#0000fc,#0001ff,#0004ff,#0007ff,#0009ff,#0009ff,#0008ff,#0005ff,#0002ff,#0001ff)"></i>
<i style="background:linear-gradient(90deg,#ffa300,#ffaf00,#ffbd00,#fc0,#ffdb00,#ffe800,#fff300,#fffe00,#f4ff0b,#e6ff19,#d6ff29,#c4ff3b,#b4ff4b,#a8ff57,#a0ff5f,#9dff62,#9dff62,#a0ff5f,#a3ff5c,#a7ff58,#af5,#adff52,#b0ff4f,#b3ff4c,#b4ff4b,#b3ff4c,#aeff51,#a6ff59,#98ff67,#84ff7b,#6aff95,#48ffb7,#1fffe0,#00f1ff,#00c3ff,#0097ff,#0070ff,#0050ff,#0036ff,#0023ff,#0015ff,#000dff,#000aff,#0008ff,#0006ff,#0004ff,#00f,#0000fa,#0000f5,#0000f0,#0000ec,#0000e9,#0000e7,#0000e6,#0000e7,#0000e8,#0000ea,#0000ed,#0000f0,#0000f4,#0000f8,#0000fc,#00f,#0002ff,#0003ff,#0003ff,#0002ff,#0000fd,#0000fa,#0000f8)"></i>
<i style="background:linear-gradient(90deg,#ffa400,#ffb100,#ffbf00,#ffce00,#ffdc00,#ffe900,#fff500,#feff01,#f2ff0d,#e4ff1b,#d4ff2b,#c2ff3d,#b2ff4d,#a5ff5a,#9dff62,#9aff65,#9aff65,#9cff63,#9fff60,#a2ff5d,#a5ff5a,#a9ff56,#abff54,#aeff51,#afff50,#aeff51,#af5,#a1ff5e,#94ff6b,#81ff7e,#67ff98,#46ffb9,#1effe1,#00f0ff,#00c1ff,#0095ff,#006fff,#004eff,#0034ff,#0020ff,#0012ff,#000aff,#0006ff,#0005ff,#0003ff,#00f,#0000fb,#0000f7,#0000f2,#0000ed,#0000e9,#0000e6,#0000e4,#0000e3,#0000e3,#0000e5,#0000e7,#0000e9,#0000ed,#0000f0,#0000f4,#0000f8,#0000fa,#0000fc,#0000fd,#0000fd,#0000fb,#0000f7,#0000f2,#0000f1)"></i>
<i style="background:linear-gradient(90deg,#ffa600,#ffb200,#ffc100,#ffcf00,#ffde00,#ffeb00,#fff600,#fdff02,#f0ff0f,#e2ff1d,#d2ff2d,#c0ff3f,#b0ff4f,#a3ff5c,#9bff64,#97ff68,#97ff68,#98ff67,#9bff64,#9eff61,#a1ff5e,#a4ff5b,#a6ff59,#a9ff56,#af5,#a9ff56,#a5ff5a,#9dff62,#90ff6f,#7dff82,#64ff9b,#4fb,#1cffe3,#0ef,#00c0ff,#0094ff,#006dff,#004cff,#0032ff,#001dff,#000fff,#0007ff,#0003ff,#0001ff,#00f,#0000fc,#0000f8,#0000f4,#0000ef,#0000ea,#0000e6,#0000e3,#0000e1,#0000e0,#0000e0,#0000e1,#0000e3,#0000e6,#0000e9,#0000ed,#0000f0,#0000f4,#0000f6,#0000f8,#0000f8,#0000f7,#0000f5,#0000f0,#0000eb,#0000e9)"></i>
<i style="background:linear-gradient(90deg,#ffa700,#ffb400,#ffc200,#ffd100,#ffdf00,#ffec00,#fff800,#fbff04,#efff10,#e0ff1f,#d0ff2f,#beff41,#aeff51,#a1ff5e,#98ff67,#94ff6b,#93ff6c,#94ff6b,#97ff68,#9aff65,#9cff63,#9fff60,#a1ff5e,#a4ff5b,#a5ff5a,#a4ff5b,#a0ff5f,#9f6,#8cff73,#7aff85,#61ff9e,#41ffbe,#1affe5,#00ecff,#00bfff,#0093ff,#006cff,#004bff,#0030ff,#001bff,#000dff,#0004ff,#00f,#0000fd,#0000fc,#0000f9,#0000f5,#0000f1,#0000ec,#0000e8,#0000e4,#0000e0,#0000de,#00d,#00d,#0000de,#0000e0,#0000e3,#0000e6,#0000e9,#0000ec,#0000f0,#0000f2,#0000f3,#0000f3,#0000f2,#0000ef,#0000ea,#0000e4,#0000e1)"></i>
<i style="background:linear-gradient(90deg,#ffa800,#ffb500,#ffc300,#ffd200,#ffe100,#fe0,#fffa00,#f9ff06,#edff12,#dfff20,#ceff31,#bcff43,#acff53,#9fff60,#96ff69,#91ff6e,#90ff6f,#91ff6e,#93ff6c,#95ff6a,#98ff67,#9aff65,#9dff62,#9fff60,#a0ff5f,#9fff60,#9cff63,#94ff6b,#8f7,#76ff89,#5fffa0,#3fffc0,#18ffe7,#00ebff,#00bdff,#0092ff,#006bff,#0049ff,#002eff,#0018ff,#000aff,#0001ff,#0000fc,#0000fa,#0000f9,#0000f6,#0000f2,#00e,#0000e9,#0000e5,#0000e1,#0000de,#0000db,#0000da,#0000da,#0000db,#00d,#0000e0,#0000e2,#0000e6,#0000e9,#0000ec,#00e,#0000ef,#0000ef,#0000ed,#0000e9,#0000e4,#0000de,#0000da)"></i>
<i style="background:linear-gradient(90deg,#ffa900,#ffb600,#ffc500,#ffd400,#ffe200,#ffef00,#fffb00,#f8ff07,#ebff14,#df2,#cf3,#baff45,#af5,#9cff63,#93ff6c,#8eff71,#8dff72,#8dff72,#8fff70,#91ff6e,#93ff6c,#95ff6a,#98ff67,#9aff65,#9bff64,#9bff64,#97ff68,#90ff6f,#84ff7b,#73ff8c,#5cffa3,#3dffc2,#16ffe9,#00e9ff,#00bcff,#0090ff,#0069ff,#0048ff,#002cff,#0016ff,#0007ff,#0000fd,#0000f9,#0000f7,#0000f6,#0000f3,#0000ef,#0000eb,#0000e7,#0000e2,#0000de,#0000db,#0000d9,#0000d8,#0000d7,#0000d8,#0000da,#0000dc,#0000df,#0000e2,#0000e5,#0000e8,#0000ea,#0000ea,#0000ea,#0000e8,#0000e4,#0000de,#0000d7,#0000d3)"></i>
<i style="background:linear-gradient(90deg,#fa0,#ffb700,#ffc600,#ffd500,#ffe400,#fff100,#fffd00,#f6ff09,#eaff15,#dbff24,#caff35,#b9ff46,#a8ff57,#9aff65,#91ff6e,#8cff73,#8aff75,#8aff75,#8bff74,#8dff72,#8fff70,#91ff6e,#93ff6c,#95ff6a,#96ff69,#96ff69,#92ff6d,#8bff74,#80ff7f,#6fff90,#59ffa6,#3affc5,#14ffeb,#00e7ff,#00baff,#008fff,#0068ff,#0046ff,#002aff,#0014ff,#0004ff,#0000fb,#0000f7,#0000f4,#0000f3,#0000f0,#0000ec,#0000e8,#0000e4,#0000e0,#0000dc,#0000d8,#0000d6,#0000d5,#0000d4,#0000d5,#0000d7,#0000d9,#0000dc,#0000df,#0000e1,#0000e4,#0000e6,#0000e6,#0000e5,#0000e3,#0000df,#0000d8,#0000d0,#00c)"></i>
<i style="background:linear-gradient(90deg,#ffab00,#ffb900,#ffc700,#ffd600,#ffe500,#fff200,#fffe00,#f4ff0b,#e8ff17,#daff25,#c9ff36,#b7ff48,#a6ff59,#98ff67,#8eff71,#89ff76,#87ff78,#87ff78,#87ff78,#89ff76,#8bff74,#8cff73,#8eff71,#90ff6f,#91ff6e,#91ff6e,#8dff72,#86ff79,#7bff84,#6bff94,#5fa,#38ffc7,#1fe,#00e5ff,#00b8ff,#008dff,#06f,#0045ff,#0028ff,#0012ff,#0002ff,#0000f8,#0000f4,#0000f2,#0000f0,#0000ed,#0000ea,#0000e5,#0000e1,#00d,#0000d9,#0000d6,#0000d3,#0000d2,#0000d2,#0000d2,#0000d4,#0000d6,#0000d9,#0000db,#0000de,#0000e0,#0000e2,#0000e2,#0000e0,#0000de,#0000d9,#0000d2,#0000ca,#0000c5)"></i>
<i style="background:linear-gradient(90deg,#ffad00,#ffba00,#ffc900,#ffd800,#ffe700,#fff400,#feff01,#f3ff0c,#e6ff19,#d8ff27,#c7ff38,#b5ff4a,#a4ff5b,#96ff69,#8cff73,#87ff78,#84ff7b,#83ff7c,#84ff7b,#85ff7a,#86ff79,#8f7,#89ff76,#8bff74,#8dff72,#8cff73,#8f7,#82ff7d,#7f8,#67ff98,#52ffad,#35ffca,#0ffff0,#00e3ff,#00b6ff,#008bff,#0065ff,#0043ff,#0027ff,#0010ff,#0000fe,#0000f6,#0000f1,#0000ef,#0000ed,#0000eb,#0000e7,#0000e3,#0000de,#0000da,#0000d6,#0000d3,#0000d1,#0000cf,#0000cf,#0000cf,#0000d1,#0000d3,#0000d5,#0000d8,#0000da,#0000dc,#0000de,#00d,#0000db,#0000d9,#0000d4,#0000cd,#0000c4,#0000be)"></i>
<i style="background:linear-gradient(90deg,#ffae00,#fb0,#ffca00,#ffd900,#ffe800,#fff500,#fdff02,#f1ff0e,#e5ff1a,#d7ff28,#c5ff3a,#b3ff4c,#a2ff5d,#94ff6b,#8aff75,#84ff7b,#81ff7e,#80ff7f,#80ff7f,#81ff7e,#82ff7d,#83ff7c,#84ff7b,#86ff79,#8f7,#87ff78,#84ff7b,#7dff82,#72ff8d,#63ff9c,#4effb1,#32ffcd,#0cfff3,#00e0ff,#00b4ff,#008aff,#0063ff,#0042ff,#0025ff,#000eff,#0000fc,#0000f4,#0000ef,#0000ed,#0000eb,#0000e8,#0000e4,#0000e0,#0000dc,#0000d8,#0000d4,#0000d0,#0000ce,#0000cd,#00c,#00c,#0000ce,#0000d0,#0000d2,#0000d4,#0000d6,#0000d8,#0000da,#0000d9,#0000d7,#0000d4,#0000cf,#0000c7,#0000be,#0000b8)"></i>
</div>
<svg width="800" height="618" viewBox="0 0 800 618">
<path d="M120.5 50.6H357.4V54.6H120.5zM120.5 54.0H353.8V58.0H120.5zM120.5 57.4H350.3V61.4H120.5zM120.5 60.8H346.8V64.8H120.5zM120.5 64.2H339.7V68.2H120.5zM120.5 67.6H336.1V71.6H120.5zM120.5 71.0H332.6V75.0H120.5zM120.5 74.4H329.1V78.3H120.5zM120.5 77.7H322.0V81.7H120.5zM120.5 81.1H314.9V85.1H120.5zM120.5 84.5H311.4V88.5H120.5zM120.5 87.9H304.3V91.9H120.5zM120.5 91.3H297.3V95.3H120.5zM120.5 94.7H293.7V98.7H120.5zM120.5 98.1H290.2V102.1H120.5zM120.5 101.5H286.6V105.5H120.5zM120.5 104.9H286.6V108.9H120.5zM293.7 104.9H311.4V108.9H293.7zM120.5 108.3H311.4V112.3H120.5zM120.5 111.7H311.4V115.7H120.5zM120.5 115.1H311.4V119.1H120.5zM120.5 118.5H307.9V122.5H120.5zM120.5 121.9H304.3V125.9H120.5zM120.5 125.3H304.3V129.3H120.5zM120.5 128.7H304.3V132.7H120.5zM120.5 132.1H304.3V136.0H120.5zM120.5 135.4H304.3V139.4H120.5zM120.5 138.8H304.3V142.8H120.5zM120.5 142.2H304.3V146.2H120.5zM120.5 145.6H304.3V149.6H120.5zM120.5 149.0H307.9V153.0H120.5zM120.5 152.4H307.9V156.4H120.5zM120.5 155.8H300.8V159.8H120.5zM120.5 159.2H297.3V163.2H120.5zM120.5 162.6H297.3V166.6H120.5zM120.5 166.0H293.7V170.0H120.5zM120.5 169.4H293.7V173.4H120.5zM120.5 172.8H290.2V176.8H120.5zM120.5 176.2H290.2V180.2H120.5zM120.5 179.6H290.2V183.6H120.5zM120.5 183.0H286.6V187.0H120.5zM120.5 186.4H286.6V190.4H120.5zM120.5 189.8H286.6V193.7H120.5zM120.5 193.1H286.6V197.1H120.5zM120.5 196.5H286.6V200.5H120.5zM120.5 199.9H286.6V203.9H120.5zM120.5 203.3H286.6V207.3H120.5zM120.5 206.7H286.6V210.7H120.5zM120.5 210.1H286.6V214.1H120.5zM120.5 213.5H286.6V217.5H120.5zM120.5 216.9H283.1V220.9H120.5zM120.5 220.3H279.6V224.3H120.5zM120.5 223.7H237.1V227.7H120.5zM120.5 227.1H219.5V231.1H120.5zM120.5 230.5H212.4V234.5H120.5zM120.5 233.9H208.9V237.9H120.5zM120.5 237.3H205.3V241.3H120.5zM120.5 240.7H201.8V244.7H120.5zM120.5 244.1H198.3V248.0H120.5zM120.5 247.4H194.7V251.4H120.5zM120.5 250.8H191.2V254.8H120.5zM120.5 254.2H187.6V258.2H120.5zM120.5 257.6H187.6V261.6H120.5zM120.5 261.0H184.1V265.0H120.5zM120.5 264.4H180.6V268.4H120.5zM120.5 267.8H180.6V271.8H120.5zM120.5 271.2H177.0V275.2H120.5zM120.5 274.6H173.5V278.6H120.5zM120.5 278.0H170.0V282.0H120.5zM120.5 281.4H166.4V285.4H120.5zM120.5 284.8H162.9V288.8H120.5zM120.5 288.2H159.4V292.2H120.5zM120.5 291.6H159.4V295.6H120.5zM120.5 295.0H155.8V299.0H120.5zM120.5 298.4H152.3V302.4H120.5zM120.5 301.8H148.8V305.7H120.5zM120.5 305.1H145.2V309.1H120.5zM120.5 308.5H145.2V312.5H120.5zM120.5 311.9H145.2V315.9H120.5zM120.5 315.3H148.8V319.3H120.5zM120.5 318.7H152.3V322.7H120.5zM120.5 322.1H152.3V326.1H120.5zM120.5 325.5H152.3V329.5H120.5zM120.5 328.9H152.3V332.9H120.5zM120.5 332.3H145.2V336.3H120.5zM120.5 335.7H145.2V339.7H120.5zM120.5 339.1H152.3V343.1H120.5zM120.5 342.5H152.3V346.5H120.5zM120.5 345.9H152.3V349.9H120.5zM120.5 349.3H152.3V353.3H120.5zM120.5 352.7H152.3V356.7H120.5zM120.5 356.1H152.3V360.1H120.5zM120.5 359.4H152.3V363.4H120.5zM120.5 362.8H152.3V366.8H120.5zM120.5 366.2H152.3V370.2H120.5zM120.5 369.6H145.2V373.6H120.5zM120.5 373.0H145.2V377.0H120.5zM120.5 376.4H145.2V380.4H120.5zM120.5 379.8H141.7V383.8H120.5zM120.5 383.2H141.7V387.2H120.5zM120.5 386.6H141.7V390.6H120.5zM120.5 390.0H138.1V394.0H120.5zM120.5 393.4H138.1V397.4H120.5zM120.5 396.8H138.1V400.8H120.5zM120.5 400.2H138.1V404.2H120.5zM120.5 403.6H138.1V407.6H120.5zM120.5 407.0H138.1V411.0H120.5zM120.5 410.4H138.1V414.4H120.5zM120.5 413.8H138.1V417.7H120.5zM120.5 417.1H138.1V421.1H120.5zM120.5 420.5H138.1V424.5H120.5zM120.5 423.9H138.1V427.9H120.5zM120.5 427.3H138.1V431.3H120.5zM120.5 430.7H141.7V434.7H120.5zM120.5 434.1H141.7V438.1H120.5zM120.5 437.5H141.7V441.5H120.5zM120.5 440.9H141.7V444.9H120.5zM120.5 444.3H141.7V448.3H120.5zM120.5 447.7H141.7V451.7H120.5zM120.5 451.1H134.6V455.1H120.5zM120.5 454.5H131.1V458.5H120.5zM120.5 457.9H131.1V461.9H120.5zM120.5 461.3H127.5V465.3H120.5z" fill="#fff"/>
<path d="M194.7 54.5V563.0M265.4 54.5V563.0M336.1 54.5V563.0M406.9 54.5V563.0M477.6 54.5V563.0M548.3 54.5V563.0M619.0 54.5V563.0M124.0 529.5H676.2M124.0 444.6H676.2M124.0 359.8H676.2M124.0 274.9H676.2M124.0 190.1H676.2M124.0 105.2H676.2" fill="none" stroke="#b4b4b4" stroke-width="1.5" stroke-dasharray="2 4.6"/>
<path d="M350.6 55.0L340.0 62.5L330.0 70.6L320.0 76.9L310.0 83.0L296.3 91.3L291.3 96.9L286.9 101.6L280.0 109.4L285.0 115.0L290.0 111.2L295.0 115.0L301.2 112.5L301.2 121.2L302.5 129.4L300.0 138.8L296.2 152.5L288.8 154.4L283.8 155.0L285.6 161.2L292.5 165.0L290.0 170.0L288.1 177.0L287.8 184.0L285.1 198.0L281.6 215.5L273.8 220.8L258.0 222.5L242.2 224.2L230.0 224.7L216.2 228.8L202.5 237.0L194.2 240.5L191.5 233.9L202.5 229.5L213.5 226.8L215.6 219.9L202.5 215.1L200.4 206.8L203.9 200.6L210.8 197.2L202.5 191.7L190.8 189.3L179.8 196.5L176.4 204.8L179.1 211.6L184.6 217.1L187.0 224.0L183.9 231.6L170.9 235.7L165.4 250.8L172.2 249.4L181.2 239.4L187.4 239.8L189.4 241.2L192.2 246.0L187.4 250.8L188.8 244.6L180.5 248.8L175.0 252.9L164.5 256.9L161.0 263.8L159.0 281.0L170.0 272.7L183.8 257.6L175.5 270.6L167.2 279.6L159.0 287.1L154.2 294.0L151.4 301.6L144.6 303.6L142.5 312.6L145.9 322.9L147.6 330.0L142.6 333.8L146.3 340.0L147.6 360.0L142.6 377.7L136.3 392.7L135.6 402.3L133.8 410.3L135.6 427.8L139.3 434.1L137.6 442.9L131.3 452.9L124.0 460.0M298.8 86.9L315.0 76.9L310.0 70.6L311.9 64.4L319.4 61.2L325.0 65.0L326.2 56.9L330.0 59.4L330.6 55.0M284.4 55.0L280.0 76.9L280.6 97.5L290.6 97.5M292.8 55.0L290.6 64.4L293.0 73.8L297.5 78.0L298.8 86.9M124.0 144.6L133.8 148.4L142.6 148.6L150.2 151.6L164.0 151.1L166.5 149.1L161.4 145.9L170.2 135.3L177.2 139.1L182.8 142.3L189.0 140.8L192.8 134.8L205.4 129.8L214.1 127.3L225.4 120.3L230.0 119.4L238.8 115.6L245.6 117.5L253.1 115.6L261.2 118.8L273.8 123.1L283.8 129.4L288.8 136.2L290.6 145.0L288.8 154.4M124.0 403.3L135.6 402.3" fill="none" stroke="#000" stroke-width="1.15" stroke-linejoin="round"/>
<rect x="124.0" y="54.5" width="552.2" height="508.5" fill="none" stroke="#000" stroke-width="2"/>
<path d="M124.0 563.0v4M194.7 563.0v4M265.4 563.0v4M336.1 563.0v4M406.9 563.0v4M477.6 563.0v4M548.3 563.0v4M619.0 563.0v4M124.0 529.5h-4M124.0 444.6h-4M124.0 359.8h-4M124.0 274.9h-4M124.0 190.1h-4M124.0 105.2h-4" fill="none" stroke="#000" stroke-width="1.6"/>
<g class="t" font-size="24"><text x="61.2" y="42" textLength="38.8" lengthAdjust="spacingAndGlyphs">Sea</text><text x="115.5" y="42" textLength="54.5" lengthAdjust="spacingAndGlyphs">Level</text><text x="186.2" y="42" textLength="58.2" lengthAdjust="spacingAndGlyphs">(cm).</text><text x="261.0" y="42" textLength="47.8" lengthAdjust="spacingAndGlyphs">Date</text><text x="324.4" y="42" textLength="135.6" lengthAdjust="spacingAndGlyphs">2022.12.27.</text><text x="475.6" y="42" textLength="50.0" lengthAdjust="spacingAndGlyphs">Time</text><text x="542.2" y="42" textLength="139.0" lengthAdjust="spacingAndGlyphs">00(h):00(m)</text><text x="697.5" y="42" textLength="42.5" lengthAdjust="spacingAndGlyphs">GMT</text></g>
<g class="t" font-size="20"><text x="323.75" y="605.5" textLength="86" lengthAdjust="spacingAndGlyphs">Longitude</text><text x="422.5" y="605.5" textLength="53.7" lengthAdjust="spacingAndGlyphs">(East)</text>
<g transform="translate(81.5 381.7) rotate(-90)"><text x="0" y="0" textLength="70.8" lengthAdjust="spacingAndGlyphs">Latitude</text><text x="82.5" y="0" textLength="63.2" lengthAdjust="spacingAndGlyphs">(North)</text></g>
<g style="fill:#333;stroke-width:0.4px"><text x="147" y="109.5" textLength="10.7" lengthAdjust="spacingAndGlyphs">Z</text><text x="175.7" y="109.5" textLength="14.1" lengthAdjust="spacingAndGlyphs">=</text><text x="206.6" y="109.5" textLength="33.9" lengthAdjust="spacingAndGlyphs">2.5</text><text x="256.8" y="109.5" textLength="17.6" lengthAdjust="spacingAndGlyphs">m</text></g></g>
<g class="n"><text x="112.0" y="578.8" textLength="24.0" lengthAdjust="spacingAndGlyphs">28.5</text><text x="187.9" y="578.8" textLength="13.7" lengthAdjust="spacingAndGlyphs">29</text><text x="253.4" y="578.8" textLength="24.0" lengthAdjust="spacingAndGlyphs">29.5</text><text x="329.3" y="578.8" textLength="13.7" lengthAdjust="spacingAndGlyphs">30</text><text x="394.9" y="578.8" textLength="24.0" lengthAdjust="spacingAndGlyphs">30.5</text><text x="470.7" y="578.8" textLength="13.7" lengthAdjust="spacingAndGlyphs">31</text><text x="536.3" y="578.8" textLength="24.0" lengthAdjust="spacingAndGlyphs">31.5</text><text x="612.1" y="578.8" textLength="13.7" lengthAdjust="spacingAndGlyphs">32</text><text x="103.6" y="534.7" textLength="13.7" lengthAdjust="spacingAndGlyphs">43</text><text x="93.3" y="449.8" textLength="24.0" lengthAdjust="spacingAndGlyphs">43.5</text><text x="103.6" y="364.9" textLength="13.7" lengthAdjust="spacingAndGlyphs">44</text><text x="93.3" y="280.1" textLength="24.0" lengthAdjust="spacingAndGlyphs">44.5</text><text x="103.6" y="195.2" textLength="13.7" lengthAdjust="spacingAndGlyphs">45</text><text x="93.3" y="110.4" textLength="24.0" lengthAdjust="spacingAndGlyphs">45.5</text></g>
<g shape-rendering="crispEdges"><rect x="709" y="62.00" width="14" height="6.62" fill="#850000"/><rect x="709" y="68.02" width="14" height="6.62" fill="#910000"/><rect x="709" y="74.05" width="14" height="6.62" fill="#9e0000"/><rect x="709" y="80.07" width="14" height="6.62" fill="#ab0000"/><rect x="709" y="86.10" width="14" height="6.62" fill="#b70000"/><rect x="709" y="92.12" width="14" height="6.62" fill="#c40000"/><rect x="709" y="98.15" width="14" height="6.62" fill="#d00000"/><rect x="709" y="104.17" width="14" height="6.62" fill="#d00"/><rect x="709" y="110.20" width="14" height="6.62" fill="#ea0000"/><rect x="709" y="116.22" width="14" height="6.62" fill="#f60000"/><rect x="709" y="122.24" width="14" height="6.62" fill="#ff0400"/><rect x="709" y="128.27" width="14" height="6.62" fill="#ff1000"/><rect x="709" y="134.29" width="14" height="6.62" fill="#ff1d00"/><rect x="709" y="140.32" width="14" height="6.62" fill="#ff2a00"/><rect x="709" y="146.34" width="14" height="6.62" fill="#ff3600"/><rect x="709" y="152.37" width="14" height="6.62" fill="#ff4300"/><rect x="709" y="158.39" width="14" height="6.62" fill="#ff4f00"/><rect x="709" y="164.41" width="14" height="6.62" fill="#ff5c00"/><rect x="709" y="170.44" width="14" height="6.62" fill="#ff6900"/><rect x="709" y="176.46" width="14" height="6.62" fill="#ff7500"/><rect x="709" y="182.49" width="14" height="6.62" fill="#ff8200"/><rect x="709" y="188.51" width="14" height="6.62" fill="#ff8e00"/><rect x="709" y="194.54" width="14" height="6.62" fill="#ff9b00"/><rect x="709" y="200.56" width="14" height="6.62" fill="#ffa800"/><rect x="709" y="206.59" width="14" height="6.62" fill="#ffb400"/><rect x="709" y="212.61" width="14" height="6.62" fill="#ffc100"/><rect x="709" y="218.63" width="14" height="6.62" fill="#ffcd00"/><rect x="709" y="224.66" width="14" height="6.62" fill="#ffda00"/><rect x="709" y="230.68" width="14" height="6.62" fill="#ffe700"/><rect x="709" y="236.71" width="14" height="6.62" fill="#fff300"/><rect x="709" y="242.73" width="14" height="6.62" fill="#feff01"/><rect x="709" y="248.76" width="14" height="6.62" fill="#f2ff0d"/><rect x="709" y="254.78" width="14" height="6.62" fill="#e5ff1a"/><rect x="709" y="260.80" width="14" height="6.62" fill="#d8ff27"/><rect x="709" y="266.83" width="14" height="6.62" fill="#cf3"/><rect x="709" y="272.85" width="14" height="6.62" fill="#bfff40"/><rect x="709" y="278.88" width="14" height="6.62" fill="#b3ff4c"/><rect x="709" y="284.90" width="14" height="6.62" fill="#a6ff59"/><rect x="709" y="290.93" width="14" height="6.62" fill="#9f6"/><rect x="709" y="296.95" width="14" height="6.62" fill="#8dff72"/><rect x="709" y="302.98" width="14" height="6.62" fill="#80ff7f"/><rect x="709" y="309.00" width="14" height="6.62" fill="#74ff8b"/><rect x="709" y="315.02" width="14" height="6.62" fill="#67ff98"/><rect x="709" y="321.05" width="14" height="6.62" fill="#5affa5"/><rect x="709" y="327.07" width="14" height="6.62" fill="#4effb1"/><rect x="709" y="333.10" width="14" height="6.62" fill="#41ffbe"/><rect x="709" y="339.12" width="14" height="6.62" fill="#35ffca"/><rect x="709" y="345.15" width="14" height="6.62" fill="#28ffd7"/><rect x="709" y="351.17" width="14" height="6.62" fill="#1bffe4"/><rect x="709" y="357.20" width="14" height="6.62" fill="#0ffff0"/><rect x="709" y="363.22" width="14" height="6.62" fill="#02fffd"/><rect x="709" y="369.24" width="14" height="6.62" fill="#00f5ff"/><rect x="709" y="375.27" width="14" height="6.62" fill="#00e8ff"/><rect x="709" y="381.29" width="14" height="6.62" fill="#00dbff"/><rect x="709" y="387.32" width="14" height="6.62" fill="#00cfff"/><rect x="709" y="393.34" width="14" height="6.62" fill="#00c2ff"/><rect x="709" y="399.37" width="14" height="6.62" fill="#00b6ff"/><rect x="709" y="405.39" width="14" height="6.62" fill="#00a9ff"/><rect x="709" y="411.41" width="14" height="6.62" fill="#009cff"/><rect x="709" y="417.44" width="14" height="6.62" fill="#0090ff"/><rect x="709" y="423.46" width="14" height="6.62" fill="#0083ff"/><rect x="709" y="429.49" width="14" height="6.62" fill="#07f"/><rect x="709" y="435.51" width="14" height="6.62" fill="#006aff"/><rect x="709" y="441.54" width="14" height="6.62" fill="#005dff"/><rect x="709" y="447.56" width="14" height="6.62" fill="#0051ff"/><rect x="709" y="453.59" width="14" height="6.62" fill="#04f"/><rect x="709" y="459.61" width="14" height="6.62" fill="#0037ff"/><rect x="709" y="465.63" width="14" height="6.62" fill="#002bff"/><rect x="709" y="471.66" width="14" height="6.62" fill="#001eff"/><rect x="709" y="477.68" width="14" height="6.62" fill="#0012ff"/><rect x="709" y="483.71" width="14" height="6.62" fill="#0005ff"/><rect x="709" y="489.73" width="14" height="6.62" fill="#0000f7"/><rect x="709" y="495.76" width="14" height="6.62" fill="#0000eb"/><rect x="709" y="501.78" width="14" height="6.62" fill="#0000de"/><rect x="709" y="507.80" width="14" height="6.62" fill="#0000d2"/><rect x="709" y="513.83" width="14" height="6.62" fill="#0000c5"/><rect x="709" y="519.85" width="14" height="6.62" fill="#0000b8"/><rect x="709" y="525.88" width="14" height="6.62" fill="#0000ac"/><rect x="709" y="531.90" width="14" height="6.62" fill="#00009f"/><rect x="709" y="537.93" width="14" height="6.62" fill="#000093"/><rect x="709" y="543.95" width="14" height="6.62" fill="#000086"/><rect x="709" y="549.98" width="14" height="6.62" fill="#000080"/></g>
<g class="c"><text x="734.7" y="73.2" textLength="29.3" lengthAdjust="spacingAndGlyphs">0.32</text><text x="734.7" y="189.7" textLength="29.3" lengthAdjust="spacingAndGlyphs">0.29</text><text x="734.7" y="311.9" textLength="29.3" lengthAdjust="spacingAndGlyphs">0.26</text><text x="734.7" y="433.3" textLength="29.3" lengthAdjust="spacingAndGlyphs">0.23</text><text x="734.7" y="555.2" textLength="29.3" lengthAdjust="spacingAndGlyphs">0.20</text></g>
</svg>
</body></html>
